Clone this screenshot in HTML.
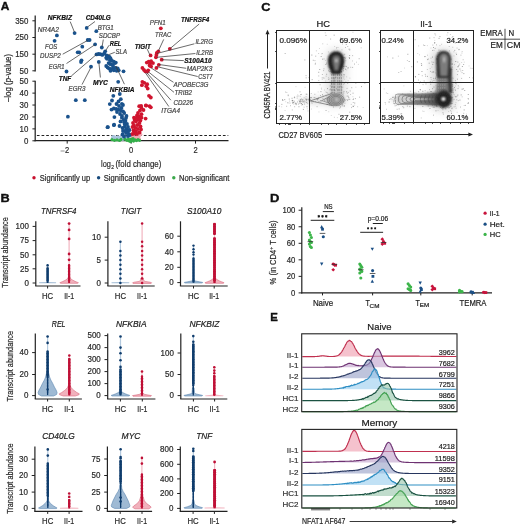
<!DOCTYPE html>
<html><head><meta charset="utf-8"><style>
html,body{margin:0;padding:0;background:#fff;}
svg{display:block;will-change:transform;}
text{font-family:"Liberation Sans", sans-serif;}
</style></head><body>
<svg width="520" height="527" viewBox="0 0 520 527">
<text x="0.80" y="10.10" font-size="10.2" font-weight="bold" fill="#111" textLength="8.60" lengthAdjust="spacingAndGlyphs" stroke="#111" stroke-width="0.35">A</text>
<line x1="35.20" y1="15.40" x2="35.20" y2="71.40" stroke="#222" stroke-width="1.25" />
<line x1="32.40" y1="20.80" x2="35.20" y2="20.80" stroke="#222" stroke-width="1" />
<text x="15.20" y="23.54" font-size="8.4" fill="#2a2a2a" stroke="#2a2a2a" stroke-width="0.2" textLength="13.20" lengthAdjust="spacingAndGlyphs" >350</text>
<line x1="32.40" y1="37.50" x2="35.20" y2="37.50" stroke="#222" stroke-width="1" />
<text x="15.20" y="40.24" font-size="8.4" fill="#2a2a2a" stroke="#2a2a2a" stroke-width="0.2" textLength="13.20" lengthAdjust="spacingAndGlyphs" >250</text>
<line x1="32.40" y1="54.20" x2="35.20" y2="54.20" stroke="#222" stroke-width="1" />
<text x="15.20" y="56.94" font-size="8.4" fill="#2a2a2a" stroke="#2a2a2a" stroke-width="0.2" textLength="13.20" lengthAdjust="spacingAndGlyphs" >150</text>
<line x1="32.40" y1="70.80" x2="35.20" y2="70.80" stroke="#222" stroke-width="1" />
<text x="19.60" y="73.54" font-size="8.4" fill="#2a2a2a" stroke="#2a2a2a" stroke-width="0.2" textLength="8.80" lengthAdjust="spacingAndGlyphs" >50</text>
<line x1="35.20" y1="80.80" x2="35.20" y2="141.20" stroke="#222" stroke-width="1.25" />
<line x1="32.40" y1="81.20" x2="35.20" y2="81.20" stroke="#222" stroke-width="1" />
<text x="19.60" y="83.94" font-size="8.4" fill="#2a2a2a" stroke="#2a2a2a" stroke-width="0.2" textLength="8.80" lengthAdjust="spacingAndGlyphs" >50</text>
<line x1="32.40" y1="93.12" x2="35.20" y2="93.12" stroke="#222" stroke-width="1" />
<text x="19.60" y="95.86" font-size="8.4" fill="#2a2a2a" stroke="#2a2a2a" stroke-width="0.2" textLength="8.80" lengthAdjust="spacingAndGlyphs" >40</text>
<line x1="32.40" y1="105.04" x2="35.20" y2="105.04" stroke="#222" stroke-width="1" />
<text x="19.60" y="107.78" font-size="8.4" fill="#2a2a2a" stroke="#2a2a2a" stroke-width="0.2" textLength="8.80" lengthAdjust="spacingAndGlyphs" >30</text>
<line x1="32.40" y1="116.96" x2="35.20" y2="116.96" stroke="#222" stroke-width="1" />
<text x="19.60" y="119.70" font-size="8.4" fill="#2a2a2a" stroke="#2a2a2a" stroke-width="0.2" textLength="8.80" lengthAdjust="spacingAndGlyphs" >20</text>
<line x1="32.40" y1="128.88" x2="35.20" y2="128.88" stroke="#222" stroke-width="1" />
<text x="19.60" y="131.62" font-size="8.4" fill="#2a2a2a" stroke="#2a2a2a" stroke-width="0.2" textLength="8.80" lengthAdjust="spacingAndGlyphs" >10</text>
<line x1="32.40" y1="140.80" x2="35.20" y2="140.80" stroke="#222" stroke-width="1" />
<text x="24.00" y="143.54" font-size="8.4" fill="#2a2a2a" stroke="#2a2a2a" stroke-width="0.2" textLength="4.40" lengthAdjust="spacingAndGlyphs" >0</text>
<text transform="translate(11.2,78) rotate(-90)" x="0" y="0" font-size="8.4" text-anchor="middle" fill="#2a2a2a" stroke="#2a2a2a" stroke-width="0.2" textLength="48" lengthAdjust="spacingAndGlyphs">&#8211;log (p-value)</text>
<line x1="34.60" y1="140.70" x2="228.50" y2="140.70" stroke="#222" stroke-width="1.3" />
<line x1="67.20" y1="140.80" x2="67.20" y2="143.60" stroke="#222" stroke-width="1" />
<text x="65.10" y="153.01" font-size="8.6" fill="#2a2a2a" stroke="#2a2a2a" stroke-width="0.2" textLength="4.20" lengthAdjust="spacingAndGlyphs" >2</text>
<line x1="131.20" y1="140.80" x2="131.20" y2="143.60" stroke="#222" stroke-width="1" />
<text x="129.10" y="153.01" font-size="8.6" fill="#2a2a2a" stroke="#2a2a2a" stroke-width="0.2" textLength="4.20" lengthAdjust="spacingAndGlyphs" >0</text>
<line x1="195.50" y1="140.80" x2="195.50" y2="143.60" stroke="#222" stroke-width="1" />
<text x="193.40" y="153.01" font-size="8.6" fill="#2a2a2a" stroke="#2a2a2a" stroke-width="0.2" textLength="4.20" lengthAdjust="spacingAndGlyphs" >2</text>
<line x1="60.60" y1="151.00" x2="64.60" y2="151.00" stroke="#777" stroke-width="0.8" />
<line x1="36.90" y1="135.50" x2="228.30" y2="135.50" stroke="#222" stroke-width="1.0" stroke-dasharray="2.7 1.95"/>
<text x="101.00" y="166.80" font-size="8.9" fill="#2a2a2a" stroke="#2a2a2a" stroke-width="0.2" textLength="9.80" lengthAdjust="spacingAndGlyphs" >log</text>
<text x="111.20" y="169.10" font-size="5.6" fill="#2a2a2a" stroke="#2a2a2a" stroke-width="0.2" textLength="2.80" lengthAdjust="spacingAndGlyphs" >2</text>
<text x="115.50" y="166.80" font-size="8.9" fill="#2a2a2a" stroke="#2a2a2a" stroke-width="0.2" textLength="45.80" lengthAdjust="spacingAndGlyphs" >(fold change)</text>
<circle cx="34.00" cy="177.80" r="1.7" fill="#c8102e" />
<text x="39.80" y="180.50" font-size="8.2" fill="#2a2a2a" stroke="#2a2a2a" stroke-width="0.2" textLength="50.40" lengthAdjust="spacingAndGlyphs" >Significantly up</text>
<circle cx="98.60" cy="177.80" r="1.7" fill="#174a7c" />
<text x="103.70" y="180.50" font-size="8.2" fill="#2a2a2a" stroke="#2a2a2a" stroke-width="0.2" textLength="61.20" lengthAdjust="spacingAndGlyphs" >Significantly down</text>
<circle cx="173.80" cy="177.80" r="1.7" fill="#3aa84a" />
<text x="179.00" y="180.50" font-size="8.2" fill="#2a2a2a" stroke="#2a2a2a" stroke-width="0.2" textLength="50.40" lengthAdjust="spacingAndGlyphs" >Non-significant</text>
<circle cx="117.51" cy="136.83" r="1.5" fill="#a9c3dc" />
<circle cx="123.07" cy="136.55" r="1.5" fill="#a9c3dc" />
<circle cx="121.11" cy="137.58" r="1.5" fill="#a9c3dc" />
<circle cx="112.99" cy="138.08" r="1.5" fill="#a9c3dc" />
<circle cx="112.64" cy="137.82" r="1.5" fill="#a9c3dc" />
<circle cx="113.19" cy="136.62" r="1.5" fill="#a9c3dc" />
<circle cx="119.22" cy="139.19" r="1.5" fill="#a9c3dc" />
<circle cx="114.10" cy="137.08" r="1.5" fill="#a9c3dc" />
<circle cx="122.67" cy="139.62" r="1.5" fill="#a9c3dc" />
<circle cx="121.81" cy="137.69" r="1.5" fill="#a9c3dc" />
<circle cx="128.60" cy="136.46" r="1.5" fill="#a9c3dc" />
<circle cx="126.59" cy="137.31" r="1.5" fill="#a9c3dc" />
<circle cx="114.45" cy="136.71" r="1.5" fill="#a9c3dc" />
<circle cx="117.24" cy="139.16" r="1.5" fill="#a9c3dc" />
<circle cx="115.07" cy="138.34" r="1.5" fill="#a9c3dc" />
<circle cx="122.86" cy="137.60" r="1.5" fill="#a9c3dc" />
<circle cx="121.31" cy="136.52" r="1.5" fill="#a9c3dc" />
<circle cx="113.01" cy="137.02" r="1.5" fill="#a9c3dc" />
<circle cx="123.57" cy="137.80" r="1.5" fill="#a9c3dc" />
<circle cx="117.34" cy="138.35" r="1.5" fill="#a9c3dc" />
<circle cx="119.70" cy="137.35" r="1.5" fill="#a9c3dc" />
<circle cx="125.50" cy="138.75" r="1.5" fill="#a9c3dc" />
<circle cx="134.20" cy="136.66" r="1.5" fill="#f2a9b4" />
<circle cx="136.73" cy="138.31" r="1.5" fill="#f2a9b4" />
<circle cx="138.57" cy="135.08" r="1.5" fill="#f2a9b4" />
<circle cx="140.82" cy="134.15" r="1.5" fill="#f2a9b4" />
<circle cx="135.76" cy="137.66" r="1.5" fill="#f2a9b4" />
<circle cx="133.37" cy="136.19" r="1.5" fill="#f2a9b4" />
<circle cx="132.35" cy="137.18" r="1.5" fill="#f2a9b4" />
<circle cx="138.88" cy="136.65" r="1.5" fill="#f2a9b4" />
<circle cx="139.88" cy="135.23" r="1.5" fill="#f2a9b4" />
<circle cx="138.26" cy="136.77" r="1.5" fill="#f2a9b4" />
<circle cx="137.22" cy="136.01" r="1.5" fill="#f2a9b4" />
<circle cx="139.56" cy="138.70" r="1.5" fill="#f2a9b4" />
<circle cx="136.27" cy="137.15" r="1.5" fill="#f2a9b4" />
<circle cx="132.55" cy="137.36" r="1.5" fill="#f2a9b4" />
<circle cx="137.82" cy="138.96" r="1.5" fill="#f2a9b4" />
<circle cx="139.40" cy="135.07" r="1.5" fill="#f2a9b4" />
<circle cx="135.47" cy="137.18" r="1.5" fill="#f2a9b4" />
<circle cx="132.20" cy="136.04" r="1.5" fill="#f2a9b4" />
<circle cx="112.00" cy="139.60" r="1.6" fill="#33b04a" />
<circle cx="114.50" cy="140.30" r="1.6" fill="#33b04a" />
<circle cx="117.00" cy="139.80" r="1.6" fill="#33b04a" />
<circle cx="119.50" cy="140.50" r="1.6" fill="#33b04a" />
<circle cx="121.00" cy="139.40" r="1.6" fill="#33b04a" />
<circle cx="125.00" cy="139.20" r="1.6" fill="#33b04a" />
<circle cx="127.00" cy="140.30" r="1.6" fill="#33b04a" />
<circle cx="129.00" cy="140.80" r="1.6" fill="#33b04a" />
<circle cx="130.50" cy="141.60" r="1.6" fill="#33b04a" />
<circle cx="132.00" cy="140.20" r="1.6" fill="#33b04a" />
<circle cx="133.50" cy="141.10" r="1.6" fill="#33b04a" />
<circle cx="135.00" cy="139.80" r="1.6" fill="#33b04a" />
<circle cx="136.50" cy="140.60" r="1.6" fill="#33b04a" />
<circle cx="138.00" cy="139.50" r="1.6" fill="#33b04a" />
<circle cx="139.50" cy="140.30" r="1.6" fill="#33b04a" />
<circle cx="131.00" cy="139.00" r="1.6" fill="#33b04a" />
<circle cx="133.00" cy="138.60" r="1.6" fill="#33b04a" />
<circle cx="128.50" cy="139.00" r="1.6" fill="#33b04a" />
<circle cx="56.90" cy="35.40" r="1.9" fill="#1a528c" />
<circle cx="54.60" cy="40.80" r="1.9" fill="#1a528c" />
<circle cx="74.60" cy="33.10" r="1.9" fill="#1a528c" />
<circle cx="86.70" cy="27.90" r="1.9" fill="#1a528c" />
<circle cx="96.30" cy="31.20" r="1.9" fill="#1a528c" />
<circle cx="87.70" cy="40.00" r="1.9" fill="#1a528c" />
<circle cx="89.60" cy="40.00" r="1.9" fill="#1a528c" />
<circle cx="95.10" cy="44.30" r="1.9" fill="#1a528c" />
<circle cx="82.30" cy="46.70" r="1.9" fill="#1a528c" />
<circle cx="101.80" cy="47.50" r="1.9" fill="#1a528c" />
<circle cx="77.70" cy="52.30" r="1.9" fill="#1a528c" />
<circle cx="79.20" cy="52.30" r="1.9" fill="#1a528c" />
<circle cx="105.20" cy="51.30" r="1.9" fill="#1a528c" />
<circle cx="81.50" cy="60.30" r="1.9" fill="#1a528c" />
<circle cx="81.00" cy="62.00" r="1.9" fill="#1a528c" />
<circle cx="66.50" cy="71.50" r="1.9" fill="#1a528c" />
<circle cx="91.00" cy="66.70" r="1.9" fill="#1a528c" />
<circle cx="98.80" cy="61.90" r="1.9" fill="#1a528c" />
<circle cx="96.50" cy="54.40" r="1.9" fill="#1a528c" />
<circle cx="98.50" cy="54.00" r="1.9" fill="#1a528c" />
<circle cx="100.40" cy="54.20" r="1.9" fill="#1a528c" />
<circle cx="102.30" cy="54.90" r="1.9" fill="#1a528c" />
<circle cx="104.20" cy="53.50" r="1.9" fill="#1a528c" />
<circle cx="106.60" cy="55.40" r="1.9" fill="#1a528c" />
<circle cx="108.10" cy="56.30" r="1.9" fill="#1a528c" />
<circle cx="109.50" cy="56.80" r="1.9" fill="#1a528c" />
<circle cx="110.50" cy="58.30" r="1.9" fill="#1a528c" />
<circle cx="106.20" cy="57.80" r="1.9" fill="#1a528c" />
<circle cx="107.10" cy="58.80" r="1.9" fill="#1a528c" />
<circle cx="110.00" cy="60.20" r="1.9" fill="#1a528c" />
<circle cx="111.90" cy="60.70" r="1.9" fill="#1a528c" />
<circle cx="113.80" cy="61.60" r="1.9" fill="#1a528c" />
<circle cx="114.80" cy="63.10" r="1.9" fill="#1a528c" />
<circle cx="115.80" cy="62.60" r="1.9" fill="#1a528c" />
<circle cx="108.60" cy="63.10" r="1.9" fill="#1a528c" />
<circle cx="110.00" cy="64.00" r="1.9" fill="#1a528c" />
<circle cx="111.40" cy="64.50" r="1.9" fill="#1a528c" />
<circle cx="112.90" cy="65.50" r="1.9" fill="#1a528c" />
<circle cx="106.20" cy="66.00" r="1.9" fill="#1a528c" />
<circle cx="107.60" cy="67.40" r="1.9" fill="#1a528c" />
<circle cx="109.00" cy="68.40" r="1.9" fill="#1a528c" />
<circle cx="111.00" cy="68.80" r="1.9" fill="#1a528c" />
<circle cx="112.90" cy="68.80" r="1.9" fill="#1a528c" />
<circle cx="113.80" cy="67.90" r="1.9" fill="#1a528c" />
<circle cx="115.80" cy="67.90" r="1.9" fill="#1a528c" />
<circle cx="117.70" cy="68.40" r="1.9" fill="#1a528c" />
<circle cx="118.70" cy="70.30" r="1.9" fill="#1a528c" />
<circle cx="116.70" cy="70.80" r="1.9" fill="#1a528c" />
<circle cx="110.50" cy="70.80" r="1.9" fill="#1a528c" />
<circle cx="113.80" cy="70.30" r="1.9" fill="#1a528c" />
<circle cx="123.50" cy="71.30" r="1.9" fill="#1a528c" />
<circle cx="118.20" cy="81.80" r="1.9" fill="#1a528c" />
<circle cx="75.80" cy="100.20" r="1.9" fill="#1a528c" />
<circle cx="84.80" cy="100.20" r="1.9" fill="#1a528c" />
<circle cx="67.90" cy="116.70" r="1.9" fill="#1a528c" />
<circle cx="107.90" cy="127.10" r="1.9" fill="#1a528c" />
<circle cx="113.90" cy="125.20" r="1.9" fill="#1a528c" />
<circle cx="113.30" cy="95.80" r="1.9" fill="#1a528c" />
<circle cx="119.80" cy="94.00" r="1.9" fill="#1a528c" />
<circle cx="109.80" cy="104.10" r="1.9" fill="#1a528c" />
<circle cx="118.50" cy="101.50" r="1.9" fill="#1a528c" />
<circle cx="120.80" cy="99.20" r="1.9" fill="#1a528c" />
<circle cx="121.90" cy="103.80" r="1.9" fill="#1a528c" />
<circle cx="123.00" cy="105.00" r="1.9" fill="#1a528c" />
<circle cx="111.50" cy="109.60" r="1.9" fill="#1a528c" />
<circle cx="113.80" cy="108.50" r="1.9" fill="#1a528c" />
<circle cx="116.20" cy="109.00" r="1.9" fill="#1a528c" />
<circle cx="118.50" cy="109.60" r="1.9" fill="#1a528c" />
<circle cx="120.80" cy="110.80" r="1.9" fill="#1a528c" />
<circle cx="123.00" cy="111.30" r="1.9" fill="#1a528c" />
<circle cx="124.20" cy="113.00" r="1.9" fill="#1a528c" />
<circle cx="114.40" cy="117.10" r="1.9" fill="#1a528c" />
<circle cx="121.90" cy="117.70" r="1.9" fill="#1a528c" />
<circle cx="123.70" cy="120.00" r="1.9" fill="#1a528c" />
<circle cx="124.20" cy="122.30" r="1.9" fill="#1a528c" />
<circle cx="124.80" cy="124.60" r="1.9" fill="#1a528c" />
<circle cx="124.80" cy="126.90" r="1.9" fill="#1a528c" />
<circle cx="126.50" cy="129.20" r="1.9" fill="#1a528c" />
<circle cx="127.70" cy="131.50" r="1.9" fill="#1a528c" />
<circle cx="128.80" cy="133.80" r="1.9" fill="#1a528c" />
<circle cx="114.10" cy="124.60" r="1.9" fill="#1a528c" />
<circle cx="107.50" cy="127.20" r="1.9" fill="#1a528c" />
<circle cx="122.50" cy="134.40" r="1.9" fill="#1a528c" />
<circle cx="119.00" cy="106.00" r="1.9" fill="#1a528c" />
<circle cx="117.00" cy="112.00" r="1.9" fill="#1a528c" />
<circle cx="120.00" cy="114.00" r="1.9" fill="#1a528c" />
<circle cx="122.00" cy="116.00" r="1.9" fill="#1a528c" />
<circle cx="126.00" cy="118.00" r="1.9" fill="#1a528c" />
<circle cx="125.50" cy="121.00" r="1.9" fill="#1a528c" />
<circle cx="127.00" cy="124.00" r="1.9" fill="#1a528c" />
<circle cx="128.00" cy="127.00" r="1.9" fill="#1a528c" />
<circle cx="129.50" cy="130.00" r="1.9" fill="#1a528c" />
<circle cx="126.00" cy="133.00" r="1.9" fill="#1a528c" />
<circle cx="124.00" cy="136.50" r="1.9" fill="#1a528c" />
<circle cx="128.00" cy="136.00" r="1.9" fill="#1a528c" />
<circle cx="130.00" cy="135.00" r="1.9" fill="#1a528c" />
<circle cx="120.50" cy="121.50" r="1.9" fill="#1a528c" />
<circle cx="122.50" cy="128.00" r="1.9" fill="#1a528c" />
<circle cx="119.50" cy="126.00" r="1.9" fill="#1a528c" />
<circle cx="125.00" cy="131.00" r="1.9" fill="#1a528c" />
<circle cx="123.00" cy="131.00" r="1.9" fill="#1a528c" />
<circle cx="126.50" cy="116.00" r="1.9" fill="#1a528c" />
<circle cx="121.50" cy="108.00" r="1.9" fill="#1a528c" />
<circle cx="116.50" cy="104.00" r="1.9" fill="#1a528c" />
<circle cx="112.00" cy="100.50" r="1.9" fill="#1a528c" />
<circle cx="160.80" cy="28.30" r="1.9" fill="#d0152f" />
<circle cx="169.80" cy="48.80" r="1.9" fill="#d0152f" />
<circle cx="158.30" cy="51.30" r="1.9" fill="#d0152f" />
<circle cx="156.80" cy="53.00" r="1.9" fill="#d0152f" />
<circle cx="156.40" cy="54.90" r="1.9" fill="#d0152f" />
<circle cx="155.90" cy="57.30" r="1.9" fill="#d0152f" />
<circle cx="150.60" cy="55.40" r="1.9" fill="#d0152f" />
<circle cx="161.70" cy="59.70" r="1.9" fill="#d0152f" />
<circle cx="146.80" cy="62.60" r="1.9" fill="#d0152f" />
<circle cx="148.70" cy="61.60" r="1.9" fill="#d0152f" />
<circle cx="151.10" cy="61.20" r="1.9" fill="#d0152f" />
<circle cx="153.00" cy="63.10" r="1.9" fill="#d0152f" />
<circle cx="150.10" cy="63.60" r="1.9" fill="#d0152f" />
<circle cx="151.10" cy="66.40" r="1.9" fill="#d0152f" />
<circle cx="149.60" cy="65.50" r="1.9" fill="#d0152f" />
<circle cx="158.80" cy="64.80" r="1.9" fill="#d0152f" />
<circle cx="156.40" cy="67.90" r="1.9" fill="#d0152f" />
<circle cx="142.40" cy="67.90" r="1.9" fill="#d0152f" />
<circle cx="143.90" cy="69.80" r="1.9" fill="#d0152f" />
<circle cx="145.30" cy="71.30" r="1.9" fill="#d0152f" />
<circle cx="147.20" cy="71.70" r="1.9" fill="#d0152f" />
<circle cx="148.20" cy="70.30" r="1.9" fill="#d0152f" />
<circle cx="142.40" cy="81.80" r="1.9" fill="#d0152f" />
<circle cx="144.30" cy="82.80" r="1.9" fill="#d0152f" />
<circle cx="147.20" cy="84.20" r="1.9" fill="#d0152f" />
<circle cx="146.30" cy="86.20" r="1.9" fill="#d0152f" />
<circle cx="141.90" cy="85.20" r="1.9" fill="#d0152f" />
<circle cx="147.70" cy="88.60" r="1.9" fill="#d0152f" />
<circle cx="149.00" cy="95.80" r="1.9" fill="#d0152f" />
<circle cx="150.80" cy="97.50" r="1.9" fill="#d0152f" />
<circle cx="139.20" cy="106.20" r="1.9" fill="#d0152f" />
<circle cx="141.50" cy="107.90" r="1.9" fill="#d0152f" />
<circle cx="146.20" cy="105.60" r="1.9" fill="#d0152f" />
<circle cx="149.60" cy="106.20" r="1.9" fill="#d0152f" />
<circle cx="150.80" cy="107.30" r="1.9" fill="#d0152f" />
<circle cx="138.00" cy="113.00" r="1.9" fill="#d0152f" />
<circle cx="137.00" cy="115.40" r="1.9" fill="#d0152f" />
<circle cx="139.20" cy="116.50" r="1.9" fill="#d0152f" />
<circle cx="141.50" cy="114.20" r="1.9" fill="#d0152f" />
<circle cx="134.00" cy="117.70" r="1.9" fill="#d0152f" />
<circle cx="134.60" cy="120.00" r="1.9" fill="#d0152f" />
<circle cx="140.40" cy="120.60" r="1.9" fill="#d0152f" />
<circle cx="141.50" cy="117.70" r="1.9" fill="#d0152f" />
<circle cx="145.60" cy="118.60" r="1.9" fill="#d0152f" />
<circle cx="141.20" cy="106.00" r="1.9" fill="#d0152f" />
<circle cx="145.80" cy="105.40" r="1.9" fill="#d0152f" />
<circle cx="143.50" cy="110.00" r="1.9" fill="#d0152f" />
<circle cx="140.00" cy="110.50" r="1.9" fill="#d0152f" />
<circle cx="133.00" cy="123.00" r="1.9" fill="#d0152f" />
<circle cx="134.00" cy="125.50" r="1.9" fill="#d0152f" />
<circle cx="135.50" cy="128.00" r="1.9" fill="#d0152f" />
<circle cx="133.50" cy="130.50" r="1.9" fill="#d0152f" />
<circle cx="136.00" cy="131.50" r="1.9" fill="#d0152f" />
<circle cx="138.00" cy="129.00" r="1.9" fill="#d0152f" />
<circle cx="137.50" cy="125.00" r="1.9" fill="#d0152f" />
<circle cx="139.50" cy="123.00" r="1.9" fill="#d0152f" />
<circle cx="140.50" cy="126.50" r="1.9" fill="#d0152f" />
<circle cx="139.50" cy="132.50" r="1.9" fill="#d0152f" />
<circle cx="137.00" cy="134.00" r="1.9" fill="#d0152f" />
<circle cx="134.50" cy="133.50" r="1.9" fill="#d0152f" />
<circle cx="132.50" cy="127.00" r="1.9" fill="#d0152f" />
<circle cx="136.00" cy="121.50" r="1.9" fill="#d0152f" />
<circle cx="138.50" cy="119.50" r="1.9" fill="#d0152f" />
<circle cx="141.00" cy="129.50" r="1.9" fill="#d0152f" />
<circle cx="132.50" cy="134.00" r="1.9" fill="#d0152f" />
<circle cx="136.50" cy="118.00" r="1.9" fill="#d0152f" />
<line x1="70.20" y1="21.60" x2="74.40" y2="32.00" stroke="#3a3a3a" stroke-width="0.75" />
<line x1="95.00" y1="21.50" x2="87.50" y2="27.00" stroke="#3a3a3a" stroke-width="0.75" />
<line x1="62.70" y1="54.20" x2="87.70" y2="40.40" stroke="#3a3a3a" stroke-width="0.75" />
<line x1="66.50" y1="63.50" x2="95.10" y2="44.60" stroke="#3a3a3a" stroke-width="0.75" />
<line x1="71.30" y1="76.00" x2="96.50" y2="54.40" stroke="#3a3a3a" stroke-width="0.75" />
<line x1="100.40" y1="77.50" x2="98.90" y2="62.60" stroke="#3a3a3a" stroke-width="0.75" />
<line x1="82.00" y1="84.60" x2="91.00" y2="67.30" stroke="#3a3a3a" stroke-width="0.75" />
<line x1="114.80" y1="52.30" x2="108.10" y2="54.90" stroke="#3a3a3a" stroke-width="0.75" />
<line x1="109.00" y1="45.30" x2="105.70" y2="50.60" stroke="#3a3a3a" stroke-width="0.75" />
<line x1="103.30" y1="39.50" x2="102.10" y2="46.70" stroke="#3a3a3a" stroke-width="0.75" />
<line x1="124.40" y1="84.20" x2="115.80" y2="66.00" stroke="#3a3a3a" stroke-width="0.75" />
<line x1="147.20" y1="49.10" x2="150.10" y2="55.40" stroke="#3a3a3a" stroke-width="0.75" />
<line x1="163.70" y1="39.40" x2="158.30" y2="51.10" stroke="#3a3a3a" stroke-width="0.75" />
<line x1="199.20" y1="24.00" x2="169.80" y2="48.80" stroke="#3a3a3a" stroke-width="0.75" />
<line x1="194.40" y1="43.80" x2="156.80" y2="53.50" stroke="#3a3a3a" stroke-width="0.75" />
<line x1="195.40" y1="53.50" x2="156.80" y2="57.30" stroke="#3a3a3a" stroke-width="0.75" />
<line x1="183.80" y1="60.60" x2="161.70" y2="59.70" stroke="#3a3a3a" stroke-width="0.75" />
<line x1="186.20" y1="68.30" x2="158.80" y2="64.50" stroke="#3a3a3a" stroke-width="0.75" />
<line x1="197.70" y1="76.50" x2="156.80" y2="66.60" stroke="#3a3a3a" stroke-width="0.75" />
<line x1="173.50" y1="82.30" x2="151.10" y2="67.90" stroke="#3a3a3a" stroke-width="0.75" />
<line x1="174.00" y1="92.30" x2="148.20" y2="71.70" stroke="#3a3a3a" stroke-width="0.75" />
<line x1="170.90" y1="100.20" x2="146.80" y2="72.70" stroke="#3a3a3a" stroke-width="0.75" />
<line x1="168.80" y1="106.50" x2="145.30" y2="72.70" stroke="#3a3a3a" stroke-width="0.75" />
<text x="47.70" y="19.88" font-size="6.8" font-weight="bold" font-style="italic" fill="#111" stroke="#111" stroke-width="0.2" textLength="24.30" lengthAdjust="spacingAndGlyphs" >NFKBIZ</text>
<text x="85.80" y="20.08" font-size="6.8" font-weight="bold" font-style="italic" fill="#111" stroke="#111" stroke-width="0.2" textLength="25.00" lengthAdjust="spacingAndGlyphs" >CD40LG</text>
<text x="37.70" y="31.68" font-size="6.8" font-style="italic" fill="#444" stroke="#444" stroke-width="0.2" textLength="21.20" lengthAdjust="spacingAndGlyphs" >NR4A2</text>
<text x="97.70" y="30.28" font-size="6.8" font-style="italic" fill="#444" stroke="#444" stroke-width="0.2" textLength="16.00" lengthAdjust="spacingAndGlyphs" >BTG1</text>
<text x="98.80" y="38.38" font-size="6.8" font-style="italic" fill="#444" stroke="#444" stroke-width="0.2" textLength="21.20" lengthAdjust="spacingAndGlyphs" >SDCBP</text>
<text x="109.80" y="46.18" font-size="6.8" font-weight="bold" font-style="italic" fill="#111" stroke="#111" stroke-width="0.2" textLength="11.50" lengthAdjust="spacingAndGlyphs" >REL</text>
<text x="115.60" y="54.38" font-size="6.8" font-style="italic" fill="#444" stroke="#444" stroke-width="0.2" textLength="11.40" lengthAdjust="spacingAndGlyphs" >SLA</text>
<text x="45.00" y="49.48" font-size="6.8" font-style="italic" fill="#444" stroke="#444" stroke-width="0.2" textLength="12.30" lengthAdjust="spacingAndGlyphs" >FOS</text>
<text x="40.00" y="58.18" font-size="6.8" font-style="italic" fill="#444" stroke="#444" stroke-width="0.2" textLength="20.80" lengthAdjust="spacingAndGlyphs" >DUSP2</text>
<text x="48.80" y="69.28" font-size="6.8" font-style="italic" fill="#444" stroke="#444" stroke-width="0.2" textLength="15.80" lengthAdjust="spacingAndGlyphs" >EGR1</text>
<text x="58.80" y="81.18" font-size="6.8" font-weight="bold" font-style="italic" fill="#111" stroke="#111" stroke-width="0.2" textLength="12.50" lengthAdjust="spacingAndGlyphs" >TNF</text>
<text x="93.00" y="84.68" font-size="6.8" font-weight="bold" font-style="italic" fill="#111" stroke="#111" stroke-width="0.2" textLength="15.00" lengthAdjust="spacingAndGlyphs" >MYC</text>
<text x="68.50" y="91.18" font-size="6.8" font-style="italic" fill="#444" stroke="#444" stroke-width="0.2" textLength="16.90" lengthAdjust="spacingAndGlyphs" >EGR3</text>
<text x="109.80" y="91.58" font-size="6.8" font-weight="bold" font-style="italic" fill="#111" stroke="#111" stroke-width="0.2" textLength="24.80" lengthAdjust="spacingAndGlyphs" >NFKBIA</text>
<text x="149.80" y="25.08" font-size="6.8" font-style="italic" fill="#444" stroke="#444" stroke-width="0.2" textLength="15.80" lengthAdjust="spacingAndGlyphs" >PFN1</text>
<text x="181.00" y="21.58" font-size="6.8" font-weight="bold" font-style="italic" fill="#111" stroke="#111" stroke-width="0.2" textLength="28.20" lengthAdjust="spacingAndGlyphs" >TNFRSF4</text>
<text x="155.00" y="37.38" font-size="6.8" font-style="italic" fill="#444" stroke="#444" stroke-width="0.2" textLength="16.30" lengthAdjust="spacingAndGlyphs" >TRAC</text>
<text x="134.80" y="48.58" font-size="6.8" font-weight="bold" font-style="italic" fill="#111" stroke="#111" stroke-width="0.2" textLength="16.00" lengthAdjust="spacingAndGlyphs" >TIGIT</text>
<text x="195.40" y="44.38" font-size="6.8" font-style="italic" fill="#444" stroke="#444" stroke-width="0.2" textLength="17.60" lengthAdjust="spacingAndGlyphs" >IL2RG</text>
<text x="196.30" y="54.68" font-size="6.8" font-style="italic" fill="#444" stroke="#444" stroke-width="0.2" textLength="16.70" lengthAdjust="spacingAndGlyphs" >IL2RB</text>
<text x="184.20" y="62.98" font-size="6.8" font-weight="bold" font-style="italic" fill="#111" stroke="#111" stroke-width="0.2" textLength="27.50" lengthAdjust="spacingAndGlyphs" >S100A10</text>
<text x="186.70" y="70.68" font-size="6.8" font-style="italic" fill="#444" stroke="#444" stroke-width="0.2" textLength="25.60" lengthAdjust="spacingAndGlyphs" >MAP2K3</text>
<text x="198.30" y="78.88" font-size="6.8" font-style="italic" fill="#444" stroke="#444" stroke-width="0.2" textLength="14.40" lengthAdjust="spacingAndGlyphs" >CST7</text>
<text x="173.50" y="86.78" font-size="6.8" font-style="italic" fill="#444" stroke="#444" stroke-width="0.2" textLength="35.00" lengthAdjust="spacingAndGlyphs" >APOBEC3G</text>
<text x="174.60" y="95.18" font-size="6.8" font-style="italic" fill="#444" stroke="#444" stroke-width="0.2" textLength="17.40" lengthAdjust="spacingAndGlyphs" >TRIB2</text>
<text x="173.50" y="104.78" font-size="6.8" font-style="italic" fill="#444" stroke="#444" stroke-width="0.2" textLength="19.50" lengthAdjust="spacingAndGlyphs" >CD226</text>
<text x="161.30" y="113.38" font-size="6.8" font-style="italic" fill="#444" stroke="#444" stroke-width="0.2" textLength="18.70" lengthAdjust="spacingAndGlyphs" >ITGA4</text>
<text x="0.40" y="201.80" font-size="11" font-weight="bold" fill="#111" textLength="9.20" lengthAdjust="spacingAndGlyphs" stroke="#111" stroke-width="0.35">B</text>
<line x1="35.80" y1="221.30" x2="35.80" y2="286.00" stroke="#222" stroke-width="1.2" />
<line x1="35.20" y1="286.00" x2="80.50" y2="286.00" stroke="#222" stroke-width="1.2" />
<line x1="32.60" y1="226.40" x2="35.80" y2="226.40" stroke="#222" stroke-width="1" />
<text x="15.55" y="229.27" font-size="8.2" fill="#2a2a2a" stroke="#2a2a2a" stroke-width="0.2" textLength="13.35" lengthAdjust="spacingAndGlyphs" >100</text>
<line x1="32.60" y1="240.60" x2="35.80" y2="240.60" stroke="#222" stroke-width="1" />
<text x="20.00" y="243.47" font-size="8.2" fill="#2a2a2a" stroke="#2a2a2a" stroke-width="0.2" textLength="8.90" lengthAdjust="spacingAndGlyphs" >75</text>
<line x1="32.60" y1="254.80" x2="35.80" y2="254.80" stroke="#222" stroke-width="1" />
<text x="20.00" y="257.67" font-size="8.2" fill="#2a2a2a" stroke="#2a2a2a" stroke-width="0.2" textLength="8.90" lengthAdjust="spacingAndGlyphs" >50</text>
<line x1="32.60" y1="268.80" x2="35.80" y2="268.80" stroke="#222" stroke-width="1" />
<text x="20.00" y="271.67" font-size="8.2" fill="#2a2a2a" stroke="#2a2a2a" stroke-width="0.2" textLength="8.90" lengthAdjust="spacingAndGlyphs" >25</text>
<line x1="32.60" y1="283.00" x2="35.80" y2="283.00" stroke="#222" stroke-width="1" />
<text x="24.45" y="285.87" font-size="8.2" fill="#2a2a2a" stroke="#2a2a2a" stroke-width="0.2" textLength="4.45" lengthAdjust="spacingAndGlyphs" >0</text>
<line x1="47.60" y1="286.00" x2="47.60" y2="288.50" stroke="#222" stroke-width="1" />
<line x1="69.20" y1="286.00" x2="69.20" y2="288.50" stroke="#222" stroke-width="1" />
<text x="42.00" y="298.74" font-size="8.4" fill="#2a2a2a" stroke="#2a2a2a" stroke-width="0.2" textLength="11.20" lengthAdjust="spacingAndGlyphs" >HC</text>
<text x="64.20" y="298.74" font-size="8.4" fill="#2a2a2a" stroke="#2a2a2a" stroke-width="0.2" textLength="10.00" lengthAdjust="spacingAndGlyphs" >II-1</text>
<text x="41.00" y="214.08" font-size="8.8" font-style="italic" fill="#1a1a1a" stroke="#1a1a1a" stroke-width="0.2" textLength="35.30" lengthAdjust="spacingAndGlyphs" >TNFRSF4</text>
<text transform="translate(7.6,252.5) rotate(-90)" font-size="8.9" text-anchor="middle" fill="#2a2a2a" stroke="#2a2a2a" stroke-width="0.2" textLength="70.5" lengthAdjust="spacingAndGlyphs">Transcript abundance</text>
<path d="M55.80,283.30 L56.20,282.90 L56.00,282.30 L48.60,282.00 L48.30,281.30 L46.90,281.30 L46.60,282.00 L39.20,282.30 L39.00,282.90 L39.40,283.30 Z" fill="#a8c0d8" stroke="none" stroke-width="0" />
<rect x="46.64" y="267.30" width="1.92" height="15.70" fill="#0f3c6c"/>
<g fill="#0f3c6c"><circle cx="47.60" cy="268.50" r="1.20"/><circle cx="47.60" cy="270.00" r="1.20"/><circle cx="47.60" cy="271.50" r="1.20"/><circle cx="47.60" cy="273.00" r="1.20"/><circle cx="47.60" cy="274.50" r="1.20"/><circle cx="47.60" cy="276.00" r="1.20"/><circle cx="47.60" cy="277.50" r="1.20"/><circle cx="47.60" cy="279.00" r="1.20"/><circle cx="47.60" cy="280.50" r="1.20"/></g>
<circle cx="47.60" cy="265.40" r="1.3" fill="#0f3c6c" />
<rect x="68.50" y="224.00" width="1.2" height="59.30" fill="#f2b6c1"/>
<path d="M77.60,283.30 L78.40,282.70 L76.03,281.78 L74.04,280.85 L72.41,279.93 L71.12,279.00 L70.17,278.07 L69.65,277.15 L69.65,276.23 L69.65,275.30 L68.55,275.30 L68.55,276.23 L68.55,277.15 L68.03,278.07 L67.08,279.00 L65.79,279.93 L64.16,280.85 L62.17,281.78 L59.80,282.70 L60.60,283.30 Z" fill="#eea3b0" stroke="#d86a7e" stroke-width="0.6" fill-opacity="0.85"/>
<circle cx="69.10" cy="223.60" r="1.4" fill="#bf1036" />
<circle cx="69.10" cy="229.90" r="1.4" fill="#bf1036" />
<circle cx="69.10" cy="238.90" r="1.4" fill="#bf1036" />
<circle cx="69.10" cy="254.00" r="1.4" fill="#bf1036" />
<circle cx="69.10" cy="259.80" r="1.4" fill="#bf1036" />
<rect x="68.14" y="264.20" width="1.92" height="18.80" fill="#bf1036"/>
<g fill="#bf1036"><circle cx="69.10" cy="265.40" r="1.20"/><circle cx="69.10" cy="266.90" r="1.20"/><circle cx="69.10" cy="268.40" r="1.20"/><circle cx="69.10" cy="269.90" r="1.20"/><circle cx="69.10" cy="271.40" r="1.20"/><circle cx="69.10" cy="272.90" r="1.20"/><circle cx="69.10" cy="274.40" r="1.20"/><circle cx="69.10" cy="275.90" r="1.20"/><circle cx="69.10" cy="277.40" r="1.20"/><circle cx="69.10" cy="278.90" r="1.20"/><circle cx="69.10" cy="280.40" r="1.20"/></g>
<line x1="107.90" y1="221.30" x2="107.90" y2="286.00" stroke="#222" stroke-width="1.2" />
<line x1="107.30" y1="286.00" x2="154.70" y2="286.00" stroke="#222" stroke-width="1.2" />
<line x1="104.70" y1="237.20" x2="107.90" y2="237.20" stroke="#222" stroke-width="1" />
<text x="92.10" y="240.07" font-size="8.2" fill="#2a2a2a" stroke="#2a2a2a" stroke-width="0.2" textLength="8.90" lengthAdjust="spacingAndGlyphs" >10</text>
<line x1="104.70" y1="260.10" x2="107.90" y2="260.10" stroke="#222" stroke-width="1" />
<text x="96.55" y="262.97" font-size="8.2" fill="#2a2a2a" stroke="#2a2a2a" stroke-width="0.2" textLength="4.45" lengthAdjust="spacingAndGlyphs" >5</text>
<line x1="104.70" y1="283.00" x2="107.90" y2="283.00" stroke="#222" stroke-width="1" />
<text x="96.55" y="285.87" font-size="8.2" fill="#2a2a2a" stroke="#2a2a2a" stroke-width="0.2" textLength="4.45" lengthAdjust="spacingAndGlyphs" >0</text>
<line x1="120.40" y1="286.00" x2="120.40" y2="288.50" stroke="#222" stroke-width="1" />
<line x1="142.10" y1="286.00" x2="142.10" y2="288.50" stroke="#222" stroke-width="1" />
<text x="114.80" y="298.74" font-size="8.4" fill="#2a2a2a" stroke="#2a2a2a" stroke-width="0.2" textLength="11.20" lengthAdjust="spacingAndGlyphs" >HC</text>
<text x="137.10" y="298.74" font-size="8.4" fill="#2a2a2a" stroke="#2a2a2a" stroke-width="0.2" textLength="10.00" lengthAdjust="spacingAndGlyphs" >II-1</text>
<text x="120.80" y="214.08" font-size="8.8" font-style="italic" fill="#1a1a1a" stroke="#1a1a1a" stroke-width="0.2" textLength="20.40" lengthAdjust="spacingAndGlyphs" >TIGIT</text>
<rect x="119.80" y="241.80" width="1.2" height="41.50" fill="#b3c9de"/>
<path d="M129.00,283.30 L129.40,282.90 L129.20,282.30 L121.00,282.00 L119.80,282.00 L111.60,282.30 L111.40,282.90 L111.80,283.30 Z" fill="#a8c0d8" stroke="none" stroke-width="0" />
<circle cx="120.40" cy="283.00" r="1.25" fill="#0f3c6c" />
<circle cx="120.40" cy="278.42" r="1.25" fill="#0f3c6c" />
<circle cx="120.40" cy="273.84" r="1.25" fill="#0f3c6c" />
<circle cx="120.40" cy="269.26" r="1.25" fill="#0f3c6c" />
<circle cx="120.40" cy="264.68" r="1.25" fill="#0f3c6c" />
<circle cx="120.40" cy="260.10" r="1.25" fill="#0f3c6c" />
<circle cx="120.40" cy="255.52" r="1.25" fill="#0f3c6c" />
<circle cx="120.40" cy="250.94" r="1.25" fill="#0f3c6c" />
<circle cx="120.40" cy="241.78" r="1.25" fill="#0f3c6c" />
<rect x="141.50" y="223.50" width="1.2" height="59.90" fill="#f2b6c1"/>
<path d="M151.10,283.40 L151.70,282.80 L150.10,282.20 L145.10,281.40 L143.70,280.40 L143.30,278.40 L142.70,277.40 L141.50,277.40 L140.90,278.40 L140.50,280.40 L139.10,281.40 L134.10,282.20 L132.50,282.80 L133.10,283.40 Z" fill="#eea3b0" stroke="#d86a7e" stroke-width="0.6" fill-opacity="0.85"/>
<circle cx="142.10" cy="283.00" r="1.25" fill="#bf1036" />
<circle cx="142.10" cy="278.42" r="1.25" fill="#bf1036" />
<circle cx="142.10" cy="273.84" r="1.25" fill="#bf1036" />
<circle cx="142.10" cy="269.26" r="1.25" fill="#bf1036" />
<circle cx="142.10" cy="264.68" r="1.25" fill="#bf1036" />
<circle cx="142.10" cy="260.10" r="1.25" fill="#bf1036" />
<circle cx="142.10" cy="255.52" r="1.25" fill="#bf1036" />
<circle cx="142.10" cy="250.94" r="1.25" fill="#bf1036" />
<circle cx="142.10" cy="246.36" r="1.25" fill="#bf1036" />
<circle cx="142.10" cy="241.78" r="1.25" fill="#bf1036" />
<circle cx="142.10" cy="223.46" r="1.25" fill="#bf1036" />
<line x1="180.50" y1="221.30" x2="180.50" y2="286.00" stroke="#222" stroke-width="1.2" />
<line x1="179.90" y1="286.00" x2="227.70" y2="286.00" stroke="#222" stroke-width="1.2" />
<line x1="177.30" y1="236.20" x2="180.50" y2="236.20" stroke="#222" stroke-width="1" />
<text x="164.70" y="239.07" font-size="8.2" fill="#2a2a2a" stroke="#2a2a2a" stroke-width="0.2" textLength="8.90" lengthAdjust="spacingAndGlyphs" >60</text>
<line x1="177.30" y1="251.80" x2="180.50" y2="251.80" stroke="#222" stroke-width="1" />
<text x="164.70" y="254.67" font-size="8.2" fill="#2a2a2a" stroke="#2a2a2a" stroke-width="0.2" textLength="8.90" lengthAdjust="spacingAndGlyphs" >40</text>
<line x1="177.30" y1="267.30" x2="180.50" y2="267.30" stroke="#222" stroke-width="1" />
<text x="164.70" y="270.17" font-size="8.2" fill="#2a2a2a" stroke="#2a2a2a" stroke-width="0.2" textLength="8.90" lengthAdjust="spacingAndGlyphs" >20</text>
<line x1="177.30" y1="282.60" x2="180.50" y2="282.60" stroke="#222" stroke-width="1" />
<text x="169.15" y="285.47" font-size="8.2" fill="#2a2a2a" stroke="#2a2a2a" stroke-width="0.2" textLength="4.45" lengthAdjust="spacingAndGlyphs" >0</text>
<line x1="193.50" y1="286.00" x2="193.50" y2="288.50" stroke="#222" stroke-width="1" />
<line x1="214.20" y1="286.00" x2="214.20" y2="288.50" stroke="#222" stroke-width="1" />
<text x="187.90" y="298.74" font-size="8.4" fill="#2a2a2a" stroke="#2a2a2a" stroke-width="0.2" textLength="11.20" lengthAdjust="spacingAndGlyphs" >HC</text>
<text x="209.20" y="298.74" font-size="8.4" fill="#2a2a2a" stroke="#2a2a2a" stroke-width="0.2" textLength="10.00" lengthAdjust="spacingAndGlyphs" >II-1</text>
<text x="186.90" y="214.08" font-size="8.8" font-style="italic" fill="#1a1a1a" stroke="#1a1a1a" stroke-width="0.2" textLength="34.40" lengthAdjust="spacingAndGlyphs" >S100A10</text>
<rect x="192.90" y="245.40" width="1.2" height="37.60" fill="#b3c9de"/>
<path d="M202.30,283.00 L202.70,282.40 L199.50,281.80 L195.50,281.00 L194.50,280.20 L192.50,280.20 L191.50,281.00 L187.50,281.80 L184.30,282.40 L184.70,283.00 Z" fill="#8eaecd" stroke="#5d86b0" stroke-width="0.6" fill-opacity="0.85"/>
<circle cx="193.50" cy="245.60" r="1.2" fill="#0f3c6c" />
<circle cx="193.50" cy="249.30" r="1.2" fill="#0f3c6c" />
<circle cx="193.50" cy="252.30" r="1.2" fill="#0f3c6c" />
<circle cx="193.50" cy="254.60" r="1.2" fill="#0f3c6c" />
<rect x="192.58" y="257.50" width="1.84" height="25.30" fill="#0f3c6c"/>
<g fill="#0f3c6c"><circle cx="193.50" cy="258.65" r="1.15"/><circle cx="193.50" cy="260.15" r="1.15"/><circle cx="193.50" cy="261.65" r="1.15"/><circle cx="193.50" cy="263.15" r="1.15"/><circle cx="193.50" cy="264.65" r="1.15"/><circle cx="193.50" cy="266.15" r="1.15"/><circle cx="193.50" cy="267.65" r="1.15"/><circle cx="193.50" cy="269.15" r="1.15"/><circle cx="193.50" cy="270.65" r="1.15"/><circle cx="193.50" cy="272.15" r="1.15"/><circle cx="193.50" cy="273.65" r="1.15"/><circle cx="193.50" cy="275.15" r="1.15"/><circle cx="193.50" cy="276.65" r="1.15"/><circle cx="193.50" cy="278.15" r="1.15"/><circle cx="193.50" cy="279.65" r="1.15"/><circle cx="193.50" cy="281.15" r="1.15"/></g>
<rect x="213.90" y="222.90" width="1.2" height="60.40" fill="#f2b6c1"/>
<path d="M223.30,283.30 L224.10,282.70 L221.66,281.84 L219.60,280.98 L217.91,280.11 L216.59,279.25 L215.61,278.39 L215.05,277.53 L215.05,276.66 L215.05,275.80 L213.95,275.80 L213.95,276.66 L213.95,277.53 L213.39,278.39 L212.41,279.25 L211.09,280.11 L209.40,280.98 L207.34,281.84 L204.90,282.70 L205.70,283.30 Z" fill="#eea3b0" stroke="#d86a7e" stroke-width="0.6" fill-opacity="0.85"/>
<rect x="213.34" y="222.90" width="2.32" height="12.10" fill="#bf1036"/>
<g fill="#bf1036"><circle cx="214.50" cy="224.35" r="1.45"/><circle cx="214.50" cy="226.15" r="1.45"/><circle cx="214.50" cy="227.95" r="1.45"/><circle cx="214.50" cy="229.74" r="1.45"/><circle cx="214.50" cy="231.54" r="1.45"/><circle cx="214.50" cy="233.34" r="1.45"/></g>
<rect x="213.34" y="237.40" width="2.32" height="45.60" fill="#bf1036"/>
<g fill="#bf1036"><circle cx="214.50" cy="238.85" r="1.45"/><circle cx="214.50" cy="240.65" r="1.45"/><circle cx="214.50" cy="242.45" r="1.45"/><circle cx="214.50" cy="244.24" r="1.45"/><circle cx="214.50" cy="246.04" r="1.45"/><circle cx="214.50" cy="247.84" r="1.45"/><circle cx="214.50" cy="249.64" r="1.45"/><circle cx="214.50" cy="251.44" r="1.45"/><circle cx="214.50" cy="253.23" r="1.45"/><circle cx="214.50" cy="255.03" r="1.45"/><circle cx="214.50" cy="256.83" r="1.45"/><circle cx="214.50" cy="258.63" r="1.45"/><circle cx="214.50" cy="260.43" r="1.45"/><circle cx="214.50" cy="262.22" r="1.45"/><circle cx="214.50" cy="264.02" r="1.45"/><circle cx="214.50" cy="265.82" r="1.45"/><circle cx="214.50" cy="267.62" r="1.45"/><circle cx="214.50" cy="269.42" r="1.45"/><circle cx="214.50" cy="271.21" r="1.45"/><circle cx="214.50" cy="273.01" r="1.45"/><circle cx="214.50" cy="274.81" r="1.45"/><circle cx="214.50" cy="276.61" r="1.45"/><circle cx="214.50" cy="278.41" r="1.45"/><circle cx="214.50" cy="280.20" r="1.45"/></g>
<line x1="35.30" y1="333.50" x2="35.30" y2="399.00" stroke="#222" stroke-width="1.2" />
<line x1="34.70" y1="399.00" x2="81.90" y2="399.00" stroke="#222" stroke-width="1.2" />
<line x1="32.10" y1="352.60" x2="35.30" y2="352.60" stroke="#222" stroke-width="1" />
<text x="19.50" y="355.47" font-size="8.2" fill="#2a2a2a" stroke="#2a2a2a" stroke-width="0.2" textLength="8.90" lengthAdjust="spacingAndGlyphs" >40</text>
<line x1="32.10" y1="374.50" x2="35.30" y2="374.50" stroke="#222" stroke-width="1" />
<text x="19.50" y="377.37" font-size="8.2" fill="#2a2a2a" stroke="#2a2a2a" stroke-width="0.2" textLength="8.90" lengthAdjust="spacingAndGlyphs" >20</text>
<line x1="32.10" y1="395.60" x2="35.30" y2="395.60" stroke="#222" stroke-width="1" />
<text x="23.95" y="398.47" font-size="8.2" fill="#2a2a2a" stroke="#2a2a2a" stroke-width="0.2" textLength="4.45" lengthAdjust="spacingAndGlyphs" >0</text>
<line x1="47.60" y1="399.00" x2="47.60" y2="401.50" stroke="#222" stroke-width="1" />
<line x1="69.30" y1="399.00" x2="69.30" y2="401.50" stroke="#222" stroke-width="1" />
<text x="42.00" y="411.74" font-size="8.4" fill="#2a2a2a" stroke="#2a2a2a" stroke-width="0.2" textLength="11.20" lengthAdjust="spacingAndGlyphs" >HC</text>
<text x="64.30" y="411.74" font-size="8.4" fill="#2a2a2a" stroke="#2a2a2a" stroke-width="0.2" textLength="10.00" lengthAdjust="spacingAndGlyphs" >II-1</text>
<text x="51.80" y="326.68" font-size="8.8" font-style="italic" fill="#1a1a1a" stroke="#1a1a1a" stroke-width="0.2" textLength="13.70" lengthAdjust="spacingAndGlyphs" >REL</text>
<text transform="translate(13.0,366.2) rotate(-90)" font-size="8.9" text-anchor="middle" fill="#2a2a2a" stroke="#2a2a2a" stroke-width="0.2" textLength="70.5" lengthAdjust="spacingAndGlyphs">Transcript abundance</text>
<rect x="47.00" y="336.40" width="1.2" height="59.60" fill="#b3c9de"/>
<path d="M53.60,396.00 L56.60,394.50 L57.10,392.50 L56.10,390.00 L54.40,387.00 L52.60,383.20 L50.80,380.00 L49.60,377.00 L48.90,374.00 L48.40,372.00 L46.80,372.00 L46.30,374.00 L45.60,377.00 L44.40,380.00 L42.60,383.20 L40.80,387.00 L39.10,390.00 L38.10,392.50 L38.60,394.50 L41.60,396.00 Z" fill="#8eaecd" stroke="#5d86b0" stroke-width="0.6" fill-opacity="0.85"/>
<circle cx="47.60" cy="336.50" r="1.3" fill="#0f3c6c" />
<circle cx="47.60" cy="342.90" r="1.3" fill="#0f3c6c" />
<rect x="46.64" y="350.60" width="1.92" height="27.40" fill="#0f3c6c"/>
<g fill="#0f3c6c"><circle cx="47.60" cy="351.80" r="1.20"/><circle cx="47.60" cy="353.30" r="1.20"/><circle cx="47.60" cy="354.80" r="1.20"/><circle cx="47.60" cy="356.30" r="1.20"/><circle cx="47.60" cy="357.80" r="1.20"/><circle cx="47.60" cy="359.30" r="1.20"/><circle cx="47.60" cy="360.80" r="1.20"/><circle cx="47.60" cy="362.30" r="1.20"/><circle cx="47.60" cy="363.80" r="1.20"/><circle cx="47.60" cy="365.30" r="1.20"/><circle cx="47.60" cy="366.80" r="1.20"/><circle cx="47.60" cy="368.30" r="1.20"/><circle cx="47.60" cy="369.80" r="1.20"/><circle cx="47.60" cy="371.30" r="1.20"/><circle cx="47.60" cy="372.80" r="1.20"/><circle cx="47.60" cy="374.30" r="1.20"/><circle cx="47.60" cy="375.80" r="1.20"/></g>
<rect x="46.96" y="377.00" width="1.28" height="18.00" fill="#0f3c6c"/>
<g fill="#0f3c6c"><circle cx="47.60" cy="377.80" r="0.80"/><circle cx="47.60" cy="379.30" r="0.80"/><circle cx="47.60" cy="380.80" r="0.80"/><circle cx="47.60" cy="382.30" r="0.80"/><circle cx="47.60" cy="383.80" r="0.80"/><circle cx="47.60" cy="385.30" r="0.80"/><circle cx="47.60" cy="386.80" r="0.80"/><circle cx="47.60" cy="388.30" r="0.80"/><circle cx="47.60" cy="389.80" r="0.80"/><circle cx="47.60" cy="391.30" r="0.80"/><circle cx="47.60" cy="392.80" r="0.80"/></g>
<circle cx="47.60" cy="389.50" r="1.2" fill="#0f3c6c" />
<rect x="68.70" y="355.30" width="1.2" height="40.70" fill="#f2b6c1"/>
<path d="M75.30,396.00 L78.90,394.80 L79.30,393.80 L76.80,392.50 L74.10,390.50 L72.30,389.00 L71.10,387.50 L70.40,386.00 L70.00,385.00 L68.60,385.00 L68.20,386.00 L67.50,387.50 L66.30,389.00 L64.50,390.50 L61.80,392.50 L59.30,393.80 L59.70,394.80 L63.30,396.00 Z" fill="#eea3b0" stroke="#d86a7e" stroke-width="0.6" fill-opacity="0.85"/>
<circle cx="69.30" cy="355.50" r="1.3" fill="#bf1036" />
<rect x="68.34" y="358.00" width="1.92" height="37.50" fill="#bf1036"/>
<g fill="#bf1036"><circle cx="69.30" cy="359.20" r="1.20"/><circle cx="69.30" cy="360.70" r="1.20"/><circle cx="69.30" cy="362.20" r="1.20"/><circle cx="69.30" cy="363.70" r="1.20"/><circle cx="69.30" cy="365.20" r="1.20"/><circle cx="69.30" cy="366.70" r="1.20"/><circle cx="69.30" cy="368.20" r="1.20"/><circle cx="69.30" cy="369.70" r="1.20"/><circle cx="69.30" cy="371.20" r="1.20"/><circle cx="69.30" cy="372.70" r="1.20"/><circle cx="69.30" cy="374.20" r="1.20"/><circle cx="69.30" cy="375.70" r="1.20"/><circle cx="69.30" cy="377.20" r="1.20"/><circle cx="69.30" cy="378.70" r="1.20"/><circle cx="69.30" cy="380.20" r="1.20"/><circle cx="69.30" cy="381.70" r="1.20"/><circle cx="69.30" cy="383.20" r="1.20"/><circle cx="69.30" cy="384.70" r="1.20"/><circle cx="69.30" cy="386.20" r="1.20"/><circle cx="69.30" cy="387.70" r="1.20"/><circle cx="69.30" cy="389.20" r="1.20"/><circle cx="69.30" cy="390.70" r="1.20"/><circle cx="69.30" cy="392.20" r="1.20"/><circle cx="69.30" cy="393.70" r="1.20"/></g>
<line x1="107.70" y1="333.50" x2="107.70" y2="399.00" stroke="#222" stroke-width="1.2" />
<line x1="107.10" y1="399.00" x2="155.40" y2="399.00" stroke="#222" stroke-width="1.2" />
<line x1="104.50" y1="335.60" x2="107.70" y2="335.60" stroke="#222" stroke-width="1" />
<text x="87.45" y="338.47" font-size="8.2" fill="#2a2a2a" stroke="#2a2a2a" stroke-width="0.2" textLength="13.35" lengthAdjust="spacingAndGlyphs" >500</text>
<line x1="104.50" y1="347.60" x2="107.70" y2="347.60" stroke="#222" stroke-width="1" />
<text x="87.45" y="350.47" font-size="8.2" fill="#2a2a2a" stroke="#2a2a2a" stroke-width="0.2" textLength="13.35" lengthAdjust="spacingAndGlyphs" >400</text>
<line x1="104.50" y1="359.60" x2="107.70" y2="359.60" stroke="#222" stroke-width="1" />
<text x="87.45" y="362.47" font-size="8.2" fill="#2a2a2a" stroke="#2a2a2a" stroke-width="0.2" textLength="13.35" lengthAdjust="spacingAndGlyphs" >300</text>
<line x1="104.50" y1="371.60" x2="107.70" y2="371.60" stroke="#222" stroke-width="1" />
<text x="87.45" y="374.47" font-size="8.2" fill="#2a2a2a" stroke="#2a2a2a" stroke-width="0.2" textLength="13.35" lengthAdjust="spacingAndGlyphs" >200</text>
<line x1="104.50" y1="383.60" x2="107.70" y2="383.60" stroke="#222" stroke-width="1" />
<text x="87.45" y="386.47" font-size="8.2" fill="#2a2a2a" stroke="#2a2a2a" stroke-width="0.2" textLength="13.35" lengthAdjust="spacingAndGlyphs" >100</text>
<line x1="104.50" y1="395.60" x2="107.70" y2="395.60" stroke="#222" stroke-width="1" />
<text x="96.35" y="398.47" font-size="8.2" fill="#2a2a2a" stroke="#2a2a2a" stroke-width="0.2" textLength="4.45" lengthAdjust="spacingAndGlyphs" >0</text>
<line x1="120.40" y1="399.00" x2="120.40" y2="401.50" stroke="#222" stroke-width="1" />
<line x1="142.30" y1="399.00" x2="142.30" y2="401.50" stroke="#222" stroke-width="1" />
<text x="114.80" y="411.74" font-size="8.4" fill="#2a2a2a" stroke="#2a2a2a" stroke-width="0.2" textLength="11.20" lengthAdjust="spacingAndGlyphs" >HC</text>
<text x="137.30" y="411.74" font-size="8.4" fill="#2a2a2a" stroke="#2a2a2a" stroke-width="0.2" textLength="10.00" lengthAdjust="spacingAndGlyphs" >II-1</text>
<text x="116.00" y="326.68" font-size="8.8" font-style="italic" fill="#1a1a1a" stroke="#1a1a1a" stroke-width="0.2" textLength="30.60" lengthAdjust="spacingAndGlyphs" >NFKBIA</text>
<rect x="119.90" y="336.50" width="1.2" height="59.50" fill="#b3c9de"/>
<path d="M129.00,396.00 L129.80,395.40 L127.34,394.60 L125.30,393.80 L123.66,393.00 L122.39,392.20 L121.47,391.40 L121.05,390.60 L121.05,389.80 L121.05,389.00 L119.95,389.00 L119.95,389.80 L119.95,390.60 L119.53,391.40 L118.61,392.20 L117.34,393.00 L115.70,393.80 L113.66,394.60 L111.20,395.40 L112.00,396.00 Z" fill="#8eaecd" stroke="#5d86b0" stroke-width="0.6" fill-opacity="0.85"/>
<circle cx="120.50" cy="336.50" r="1.3" fill="#0f3c6c" />
<circle cx="120.50" cy="347.60" r="1.3" fill="#0f3c6c" />
<circle cx="120.50" cy="353.20" r="1.3" fill="#0f3c6c" />
<circle cx="120.50" cy="360.20" r="1.3" fill="#0f3c6c" />
<circle cx="120.50" cy="366.90" r="1.3" fill="#0f3c6c" />
<rect x="119.54" y="368.50" width="1.92" height="27.00" fill="#0f3c6c"/>
<g fill="#0f3c6c"><circle cx="120.50" cy="369.70" r="1.20"/><circle cx="120.50" cy="371.20" r="1.20"/><circle cx="120.50" cy="372.70" r="1.20"/><circle cx="120.50" cy="374.20" r="1.20"/><circle cx="120.50" cy="375.70" r="1.20"/><circle cx="120.50" cy="377.20" r="1.20"/><circle cx="120.50" cy="378.70" r="1.20"/><circle cx="120.50" cy="380.20" r="1.20"/><circle cx="120.50" cy="381.70" r="1.20"/><circle cx="120.50" cy="383.20" r="1.20"/><circle cx="120.50" cy="384.70" r="1.20"/><circle cx="120.50" cy="386.20" r="1.20"/><circle cx="120.50" cy="387.70" r="1.20"/><circle cx="120.50" cy="389.20" r="1.20"/><circle cx="120.50" cy="390.70" r="1.20"/><circle cx="120.50" cy="392.20" r="1.20"/><circle cx="120.50" cy="393.70" r="1.20"/></g>
<rect x="141.40" y="371.50" width="1.2" height="24.70" fill="#f2b6c1"/>
<path d="M151.00,396.20 L151.50,395.60 L148.00,395.00 L144.00,394.20 L142.80,393.40 L141.20,393.40 L140.00,394.20 L136.00,395.00 L132.50,395.60 L133.00,396.20 Z" fill="#eea3b0" stroke="#d86a7e" stroke-width="0.6" fill-opacity="0.85"/>
<circle cx="142.00" cy="371.50" r="1.3" fill="#bf1036" />
<rect x="141.04" y="375.50" width="1.92" height="20.30" fill="#bf1036"/>
<g fill="#bf1036"><circle cx="142.00" cy="376.70" r="1.20"/><circle cx="142.00" cy="378.20" r="1.20"/><circle cx="142.00" cy="379.70" r="1.20"/><circle cx="142.00" cy="381.20" r="1.20"/><circle cx="142.00" cy="382.70" r="1.20"/><circle cx="142.00" cy="384.20" r="1.20"/><circle cx="142.00" cy="385.70" r="1.20"/><circle cx="142.00" cy="387.20" r="1.20"/><circle cx="142.00" cy="388.70" r="1.20"/><circle cx="142.00" cy="390.20" r="1.20"/><circle cx="142.00" cy="391.70" r="1.20"/><circle cx="142.00" cy="393.20" r="1.20"/></g>
<line x1="180.80" y1="333.50" x2="180.80" y2="399.00" stroke="#222" stroke-width="1.2" />
<line x1="180.20" y1="399.00" x2="227.30" y2="399.00" stroke="#222" stroke-width="1.2" />
<line x1="177.60" y1="353.00" x2="180.80" y2="353.00" stroke="#222" stroke-width="1" />
<text x="160.55" y="355.87" font-size="8.2" fill="#2a2a2a" stroke="#2a2a2a" stroke-width="0.2" textLength="13.35" lengthAdjust="spacingAndGlyphs" >100</text>
<line x1="177.60" y1="374.50" x2="180.80" y2="374.50" stroke="#222" stroke-width="1" />
<text x="165.00" y="377.37" font-size="8.2" fill="#2a2a2a" stroke="#2a2a2a" stroke-width="0.2" textLength="8.90" lengthAdjust="spacingAndGlyphs" >50</text>
<line x1="177.60" y1="395.60" x2="180.80" y2="395.60" stroke="#222" stroke-width="1" />
<text x="169.45" y="398.47" font-size="8.2" fill="#2a2a2a" stroke="#2a2a2a" stroke-width="0.2" textLength="4.45" lengthAdjust="spacingAndGlyphs" >0</text>
<line x1="193.40" y1="399.00" x2="193.40" y2="401.50" stroke="#222" stroke-width="1" />
<line x1="214.60" y1="399.00" x2="214.60" y2="401.50" stroke="#222" stroke-width="1" />
<text x="187.80" y="411.74" font-size="8.4" fill="#2a2a2a" stroke="#2a2a2a" stroke-width="0.2" textLength="11.20" lengthAdjust="spacingAndGlyphs" >HC</text>
<text x="209.60" y="411.74" font-size="8.4" fill="#2a2a2a" stroke="#2a2a2a" stroke-width="0.2" textLength="10.00" lengthAdjust="spacingAndGlyphs" >II-1</text>
<text x="189.50" y="326.68" font-size="8.8" font-style="italic" fill="#1a1a1a" stroke="#1a1a1a" stroke-width="0.2" textLength="29.90" lengthAdjust="spacingAndGlyphs" >NFKBIZ</text>
<rect x="192.70" y="336.20" width="1.2" height="59.80" fill="#b3c9de"/>
<path d="M202.10,396.00 L202.60,395.40 L199.80,394.80 L195.50,393.80 L194.50,392.50 L194.10,388.00 L192.50,388.00 L192.10,392.50 L191.10,393.80 L186.80,394.80 L184.00,395.40 L184.50,396.00 Z" fill="#8eaecd" stroke="#5d86b0" stroke-width="0.6" fill-opacity="0.85"/>
<circle cx="193.30" cy="336.10" r="1.3" fill="#0f3c6c" />
<circle cx="193.30" cy="341.70" r="1.3" fill="#0f3c6c" />
<rect x="192.26" y="343.50" width="2.08" height="42.50" fill="#0f3c6c"/>
<g fill="#0f3c6c"><circle cx="193.30" cy="344.80" r="1.30"/><circle cx="193.30" cy="346.41" r="1.30"/><circle cx="193.30" cy="348.02" r="1.30"/><circle cx="193.30" cy="349.64" r="1.30"/><circle cx="193.30" cy="351.25" r="1.30"/><circle cx="193.30" cy="352.86" r="1.30"/><circle cx="193.30" cy="354.47" r="1.30"/><circle cx="193.30" cy="356.08" r="1.30"/><circle cx="193.30" cy="357.70" r="1.30"/><circle cx="193.30" cy="359.31" r="1.30"/><circle cx="193.30" cy="360.92" r="1.30"/><circle cx="193.30" cy="362.53" r="1.30"/><circle cx="193.30" cy="364.14" r="1.30"/><circle cx="193.30" cy="365.76" r="1.30"/><circle cx="193.30" cy="367.37" r="1.30"/><circle cx="193.30" cy="368.98" r="1.30"/><circle cx="193.30" cy="370.59" r="1.30"/><circle cx="193.30" cy="372.20" r="1.30"/><circle cx="193.30" cy="373.82" r="1.30"/><circle cx="193.30" cy="375.43" r="1.30"/><circle cx="193.30" cy="377.04" r="1.30"/><circle cx="193.30" cy="378.65" r="1.30"/><circle cx="193.30" cy="380.26" r="1.30"/><circle cx="193.30" cy="381.88" r="1.30"/><circle cx="193.30" cy="383.49" r="1.30"/></g>
<rect x="192.66" y="385.00" width="1.28" height="10.50" fill="#0f3c6c"/>
<g fill="#0f3c6c"><circle cx="193.30" cy="385.80" r="0.80"/><circle cx="193.30" cy="387.30" r="0.80"/><circle cx="193.30" cy="388.80" r="0.80"/><circle cx="193.30" cy="390.30" r="0.80"/><circle cx="193.30" cy="391.80" r="0.80"/><circle cx="193.30" cy="393.30" r="0.80"/></g>
<rect x="213.70" y="367.20" width="1.2" height="29.00" fill="#f2b6c1"/>
<path d="M223.10,396.20 L223.60,395.60 L219.30,395.00 L215.10,394.40 L213.50,394.40 L209.30,395.00 L205.00,395.60 L205.50,396.20 Z" fill="#f2b6c1" stroke="none" stroke-width="0" />
<circle cx="214.30" cy="367.30" r="1.3" fill="#bf1036" />
<circle cx="214.30" cy="370.60" r="1.3" fill="#bf1036" />
<circle cx="214.30" cy="373.20" r="1.3" fill="#bf1036" />
<rect x="213.34" y="375.00" width="1.92" height="20.80" fill="#bf1036"/>
<g fill="#bf1036"><circle cx="214.30" cy="376.20" r="1.20"/><circle cx="214.30" cy="377.70" r="1.20"/><circle cx="214.30" cy="379.20" r="1.20"/><circle cx="214.30" cy="380.70" r="1.20"/><circle cx="214.30" cy="382.20" r="1.20"/><circle cx="214.30" cy="383.70" r="1.20"/><circle cx="214.30" cy="385.20" r="1.20"/><circle cx="214.30" cy="386.70" r="1.20"/><circle cx="214.30" cy="388.20" r="1.20"/><circle cx="214.30" cy="389.70" r="1.20"/><circle cx="214.30" cy="391.20" r="1.20"/><circle cx="214.30" cy="392.70" r="1.20"/><circle cx="214.30" cy="394.20" r="1.20"/></g>
<line x1="34.90" y1="446.40" x2="34.90" y2="511.40" stroke="#222" stroke-width="1.2" />
<line x1="34.30" y1="511.40" x2="82.50" y2="511.40" stroke="#222" stroke-width="1.2" />
<line x1="31.70" y1="459.20" x2="34.90" y2="459.20" stroke="#222" stroke-width="1" />
<text x="19.10" y="462.07" font-size="8.2" fill="#2a2a2a" stroke="#2a2a2a" stroke-width="0.2" textLength="8.90" lengthAdjust="spacingAndGlyphs" >30</text>
<line x1="31.70" y1="475.50" x2="34.90" y2="475.50" stroke="#222" stroke-width="1" />
<text x="19.10" y="478.37" font-size="8.2" fill="#2a2a2a" stroke="#2a2a2a" stroke-width="0.2" textLength="8.90" lengthAdjust="spacingAndGlyphs" >20</text>
<line x1="31.70" y1="492.10" x2="34.90" y2="492.10" stroke="#222" stroke-width="1" />
<text x="19.10" y="494.97" font-size="8.2" fill="#2a2a2a" stroke="#2a2a2a" stroke-width="0.2" textLength="8.90" lengthAdjust="spacingAndGlyphs" >10</text>
<line x1="31.70" y1="508.40" x2="34.90" y2="508.40" stroke="#222" stroke-width="1" />
<text x="23.55" y="511.27" font-size="8.2" fill="#2a2a2a" stroke="#2a2a2a" stroke-width="0.2" textLength="4.45" lengthAdjust="spacingAndGlyphs" >0</text>
<line x1="47.70" y1="511.40" x2="47.70" y2="513.90" stroke="#222" stroke-width="1" />
<line x1="69.10" y1="511.40" x2="69.10" y2="513.90" stroke="#222" stroke-width="1" />
<text x="42.10" y="524.14" font-size="8.4" fill="#2a2a2a" stroke="#2a2a2a" stroke-width="0.2" textLength="11.20" lengthAdjust="spacingAndGlyphs" >HC</text>
<text x="64.10" y="524.14" font-size="8.4" fill="#2a2a2a" stroke="#2a2a2a" stroke-width="0.2" textLength="10.00" lengthAdjust="spacingAndGlyphs" >II-1</text>
<text x="42.30" y="439.08" font-size="8.8" font-style="italic" fill="#1a1a1a" stroke="#1a1a1a" stroke-width="0.2" textLength="32.50" lengthAdjust="spacingAndGlyphs" >CD40LG</text>
<text transform="translate(12.9,478.6) rotate(-90)" font-size="8.9" text-anchor="middle" fill="#2a2a2a" stroke="#2a2a2a" stroke-width="0.2" textLength="70.5" lengthAdjust="spacingAndGlyphs">Transcript abundance</text>
<rect x="47.20" y="449.00" width="1.2" height="59.60" fill="#b3c9de"/>
<path d="M56.30,508.60 L57.10,508.00 L55.02,506.86 L53.24,505.72 L51.75,504.58 L50.53,503.44 L49.56,502.30 L48.83,501.16 L48.35,500.02 L48.35,498.88 L48.35,497.74 L48.35,496.60 L47.25,496.60 L47.25,497.74 L47.25,498.88 L47.25,500.02 L46.77,501.16 L46.04,502.30 L45.07,503.44 L43.85,504.58 L42.36,505.72 L40.58,506.86 L38.50,508.00 L39.30,508.60 Z" fill="#8eaecd" stroke="#5d86b0" stroke-width="0.6" fill-opacity="0.85"/>
<circle cx="47.80" cy="449.40" r="1.3" fill="#0f3c6c" />
<circle cx="47.80" cy="455.60" r="1.3" fill="#0f3c6c" />
<rect x="46.84" y="462.50" width="1.92" height="34.50" fill="#0f3c6c"/>
<g fill="#0f3c6c"><circle cx="47.80" cy="463.70" r="1.20"/><circle cx="47.80" cy="465.20" r="1.20"/><circle cx="47.80" cy="466.70" r="1.20"/><circle cx="47.80" cy="468.20" r="1.20"/><circle cx="47.80" cy="469.70" r="1.20"/><circle cx="47.80" cy="471.20" r="1.20"/><circle cx="47.80" cy="472.70" r="1.20"/><circle cx="47.80" cy="474.20" r="1.20"/><circle cx="47.80" cy="475.70" r="1.20"/><circle cx="47.80" cy="477.20" r="1.20"/><circle cx="47.80" cy="478.70" r="1.20"/><circle cx="47.80" cy="480.20" r="1.20"/><circle cx="47.80" cy="481.70" r="1.20"/><circle cx="47.80" cy="483.20" r="1.20"/><circle cx="47.80" cy="484.70" r="1.20"/><circle cx="47.80" cy="486.20" r="1.20"/><circle cx="47.80" cy="487.70" r="1.20"/><circle cx="47.80" cy="489.20" r="1.20"/><circle cx="47.80" cy="490.70" r="1.20"/><circle cx="47.80" cy="492.20" r="1.20"/><circle cx="47.80" cy="493.70" r="1.20"/><circle cx="47.80" cy="495.20" r="1.20"/></g>
<rect x="47.16" y="496.00" width="1.28" height="12.00" fill="#0f3c6c"/>
<g fill="#0f3c6c"><circle cx="47.80" cy="496.80" r="0.80"/><circle cx="47.80" cy="498.30" r="0.80"/><circle cx="47.80" cy="499.80" r="0.80"/><circle cx="47.80" cy="501.30" r="0.80"/><circle cx="47.80" cy="502.80" r="0.80"/><circle cx="47.80" cy="504.30" r="0.80"/><circle cx="47.80" cy="505.80" r="0.80"/></g>
<path d="M78.20,508.80 L78.50,508.30 L78.20,507.80 L69.80,507.50 L68.60,507.50 L60.20,507.80 L59.90,508.30 L60.20,508.80 Z" fill="#f2b6c1" stroke="none" stroke-width="0" />
<circle cx="69.20" cy="493.50" r="1.3" fill="#bf1036" />
<circle cx="69.20" cy="496.90" r="1.3" fill="#bf1036" />
<rect x="68.24" y="499.00" width="1.92" height="9.50" fill="#bf1036"/>
<g fill="#bf1036"><circle cx="69.20" cy="500.20" r="1.20"/><circle cx="69.20" cy="501.70" r="1.20"/><circle cx="69.20" cy="503.20" r="1.20"/><circle cx="69.20" cy="504.70" r="1.20"/><circle cx="69.20" cy="506.20" r="1.20"/></g>
<line x1="107.40" y1="446.40" x2="107.40" y2="511.40" stroke="#222" stroke-width="1.2" />
<line x1="106.80" y1="511.40" x2="152.10" y2="511.40" stroke="#222" stroke-width="1.2" />
<line x1="104.20" y1="459.00" x2="107.40" y2="459.00" stroke="#222" stroke-width="1" />
<text x="91.60" y="461.87" font-size="8.2" fill="#2a2a2a" stroke="#2a2a2a" stroke-width="0.2" textLength="8.90" lengthAdjust="spacingAndGlyphs" >75</text>
<line x1="104.20" y1="475.50" x2="107.40" y2="475.50" stroke="#222" stroke-width="1" />
<text x="91.60" y="478.37" font-size="8.2" fill="#2a2a2a" stroke="#2a2a2a" stroke-width="0.2" textLength="8.90" lengthAdjust="spacingAndGlyphs" >50</text>
<line x1="104.20" y1="492.10" x2="107.40" y2="492.10" stroke="#222" stroke-width="1" />
<text x="91.60" y="494.97" font-size="8.2" fill="#2a2a2a" stroke="#2a2a2a" stroke-width="0.2" textLength="8.90" lengthAdjust="spacingAndGlyphs" >25</text>
<line x1="104.20" y1="508.40" x2="107.40" y2="508.40" stroke="#222" stroke-width="1" />
<text x="96.05" y="511.27" font-size="8.2" fill="#2a2a2a" stroke="#2a2a2a" stroke-width="0.2" textLength="4.45" lengthAdjust="spacingAndGlyphs" >0</text>
<line x1="120.20" y1="511.40" x2="120.20" y2="513.90" stroke="#222" stroke-width="1" />
<line x1="142.00" y1="511.40" x2="142.00" y2="513.90" stroke="#222" stroke-width="1" />
<text x="114.60" y="524.14" font-size="8.4" fill="#2a2a2a" stroke="#2a2a2a" stroke-width="0.2" textLength="11.20" lengthAdjust="spacingAndGlyphs" >HC</text>
<text x="137.00" y="524.14" font-size="8.4" fill="#2a2a2a" stroke="#2a2a2a" stroke-width="0.2" textLength="10.00" lengthAdjust="spacingAndGlyphs" >II-1</text>
<text x="121.60" y="439.08" font-size="8.8" font-style="italic" fill="#1a1a1a" stroke="#1a1a1a" stroke-width="0.2" textLength="18.90" lengthAdjust="spacingAndGlyphs" >MYC</text>
<rect x="120.00" y="449.50" width="1.2" height="58.90" fill="#b3c9de"/>
<path d="M126.60,508.40 L129.60,506.90 L129.90,505.40 L128.20,500.80 L125.10,494.60 L123.10,491.40 L121.80,488.40 L121.40,484.40 L119.80,484.40 L119.40,488.40 L118.10,491.40 L116.10,494.60 L113.00,500.80 L111.30,505.40 L111.60,506.90 L114.60,508.40 Z" fill="#8eaecd" stroke="#5d86b0" stroke-width="0.6" fill-opacity="0.85"/>
<circle cx="120.60" cy="449.30" r="1.3" fill="#0f3c6c" />
<circle cx="120.60" cy="457.00" r="1.3" fill="#0f3c6c" />
<circle cx="120.60" cy="458.50" r="1.3" fill="#0f3c6c" />
<rect x="119.60" y="460.00" width="2.00" height="24.00" fill="#0f3c6c"/>
<g fill="#0f3c6c"><circle cx="120.60" cy="461.25" r="1.25"/><circle cx="120.60" cy="462.80" r="1.25"/><circle cx="120.60" cy="464.35" r="1.25"/><circle cx="120.60" cy="465.90" r="1.25"/><circle cx="120.60" cy="467.45" r="1.25"/><circle cx="120.60" cy="469.00" r="1.25"/><circle cx="120.60" cy="470.55" r="1.25"/><circle cx="120.60" cy="472.10" r="1.25"/><circle cx="120.60" cy="473.65" r="1.25"/><circle cx="120.60" cy="475.20" r="1.25"/><circle cx="120.60" cy="476.75" r="1.25"/><circle cx="120.60" cy="478.30" r="1.25"/><circle cx="120.60" cy="479.85" r="1.25"/><circle cx="120.60" cy="481.40" r="1.25"/></g>
<rect x="120.00" y="483.00" width="1.20" height="25.00" fill="#0f3c6c"/>
<g fill="#0f3c6c"><circle cx="120.60" cy="483.75" r="0.75"/><circle cx="120.60" cy="485.25" r="0.75"/><circle cx="120.60" cy="486.75" r="0.75"/><circle cx="120.60" cy="488.25" r="0.75"/><circle cx="120.60" cy="489.75" r="0.75"/><circle cx="120.60" cy="491.25" r="0.75"/><circle cx="120.60" cy="492.75" r="0.75"/><circle cx="120.60" cy="494.25" r="0.75"/><circle cx="120.60" cy="495.75" r="0.75"/><circle cx="120.60" cy="497.25" r="0.75"/><circle cx="120.60" cy="498.75" r="0.75"/><circle cx="120.60" cy="500.25" r="0.75"/><circle cx="120.60" cy="501.75" r="0.75"/><circle cx="120.60" cy="503.25" r="0.75"/><circle cx="120.60" cy="504.75" r="0.75"/><circle cx="120.60" cy="506.25" r="0.75"/></g>
<circle cx="120.60" cy="497.50" r="1.3" fill="#0f3c6c" />
<circle cx="120.60" cy="501.50" r="1.3" fill="#0f3c6c" />
<rect x="141.30" y="457.90" width="1.2" height="50.90" fill="#f2b6c1"/>
<path d="M148.90,508.80 L151.20,507.30 L149.90,505.80 L146.90,503.80 L144.40,500.80 L143.10,496.80 L142.60,494.80 L141.20,494.80 L140.70,496.80 L139.40,500.80 L136.90,503.80 L133.90,505.80 L132.60,507.30 L134.90,508.80 Z" fill="#eea3b0" stroke="#d86a7e" stroke-width="0.6" fill-opacity="0.85"/>
<circle cx="141.90" cy="457.90" r="1.3" fill="#bf1036" />
<circle cx="141.90" cy="463.60" r="1.3" fill="#bf1036" />
<rect x="140.94" y="473.60" width="1.92" height="34.90" fill="#bf1036"/>
<g fill="#bf1036"><circle cx="141.90" cy="474.80" r="1.20"/><circle cx="141.90" cy="476.30" r="1.20"/><circle cx="141.90" cy="477.80" r="1.20"/><circle cx="141.90" cy="479.30" r="1.20"/><circle cx="141.90" cy="480.80" r="1.20"/><circle cx="141.90" cy="482.30" r="1.20"/><circle cx="141.90" cy="483.80" r="1.20"/><circle cx="141.90" cy="485.30" r="1.20"/><circle cx="141.90" cy="486.80" r="1.20"/><circle cx="141.90" cy="488.30" r="1.20"/><circle cx="141.90" cy="489.80" r="1.20"/><circle cx="141.90" cy="491.30" r="1.20"/><circle cx="141.90" cy="492.80" r="1.20"/><circle cx="141.90" cy="494.30" r="1.20"/><circle cx="141.90" cy="495.80" r="1.20"/><circle cx="141.90" cy="497.30" r="1.20"/><circle cx="141.90" cy="498.80" r="1.20"/><circle cx="141.90" cy="500.30" r="1.20"/><circle cx="141.90" cy="501.80" r="1.20"/><circle cx="141.90" cy="503.30" r="1.20"/><circle cx="141.90" cy="504.80" r="1.20"/><circle cx="141.90" cy="506.30" r="1.20"/></g>
<line x1="180.30" y1="446.40" x2="180.30" y2="511.40" stroke="#222" stroke-width="1.2" />
<line x1="179.70" y1="511.40" x2="227.50" y2="511.40" stroke="#222" stroke-width="1.2" />
<line x1="177.10" y1="449.50" x2="180.30" y2="449.50" stroke="#222" stroke-width="1" />
<text x="160.05" y="452.37" font-size="8.2" fill="#2a2a2a" stroke="#2a2a2a" stroke-width="0.2" textLength="13.35" lengthAdjust="spacingAndGlyphs" >800</text>
<line x1="177.10" y1="464.30" x2="180.30" y2="464.30" stroke="#222" stroke-width="1" />
<text x="160.05" y="467.17" font-size="8.2" fill="#2a2a2a" stroke="#2a2a2a" stroke-width="0.2" textLength="13.35" lengthAdjust="spacingAndGlyphs" >600</text>
<line x1="177.10" y1="478.90" x2="180.30" y2="478.90" stroke="#222" stroke-width="1" />
<text x="160.05" y="481.77" font-size="8.2" fill="#2a2a2a" stroke="#2a2a2a" stroke-width="0.2" textLength="13.35" lengthAdjust="spacingAndGlyphs" >400</text>
<line x1="177.10" y1="493.50" x2="180.30" y2="493.50" stroke="#222" stroke-width="1" />
<text x="160.05" y="496.37" font-size="8.2" fill="#2a2a2a" stroke="#2a2a2a" stroke-width="0.2" textLength="13.35" lengthAdjust="spacingAndGlyphs" >200</text>
<line x1="177.10" y1="508.40" x2="180.30" y2="508.40" stroke="#222" stroke-width="1" />
<text x="168.95" y="511.27" font-size="8.2" fill="#2a2a2a" stroke="#2a2a2a" stroke-width="0.2" textLength="4.45" lengthAdjust="spacingAndGlyphs" >0</text>
<line x1="193.10" y1="511.40" x2="193.10" y2="513.90" stroke="#222" stroke-width="1" />
<line x1="214.40" y1="511.40" x2="214.40" y2="513.90" stroke="#222" stroke-width="1" />
<text x="187.50" y="524.14" font-size="8.4" fill="#2a2a2a" stroke="#2a2a2a" stroke-width="0.2" textLength="11.20" lengthAdjust="spacingAndGlyphs" >HC</text>
<text x="209.40" y="524.14" font-size="8.4" fill="#2a2a2a" stroke="#2a2a2a" stroke-width="0.2" textLength="10.00" lengthAdjust="spacingAndGlyphs" >II-1</text>
<text x="196.20" y="439.08" font-size="8.8" font-style="italic" fill="#1a1a1a" stroke="#1a1a1a" stroke-width="0.2" textLength="16.20" lengthAdjust="spacingAndGlyphs" >TNF</text>
<rect x="192.70" y="448.70" width="1.2" height="59.60" fill="#b3c9de"/>
<path d="M202.10,508.30 L202.60,507.70 L199.30,506.80 L195.50,505.30 L194.40,503.30 L194.00,500.30 L192.60,500.30 L192.20,503.30 L191.10,505.30 L187.30,506.80 L184.00,507.70 L184.50,508.30 Z" fill="#8eaecd" stroke="#5d86b0" stroke-width="0.6" fill-opacity="0.85"/>
<circle cx="193.30" cy="448.70" r="1.3" fill="#0f3c6c" />
<circle cx="193.30" cy="451.00" r="1.3" fill="#0f3c6c" />
<rect x="192.18" y="455.60" width="2.24" height="36.40" fill="#0f3c6c"/>
<g fill="#0f3c6c"><circle cx="193.30" cy="457.00" r="1.40"/><circle cx="193.30" cy="458.74" r="1.40"/><circle cx="193.30" cy="460.47" r="1.40"/><circle cx="193.30" cy="462.21" r="1.40"/><circle cx="193.30" cy="463.94" r="1.40"/><circle cx="193.30" cy="465.68" r="1.40"/><circle cx="193.30" cy="467.42" r="1.40"/><circle cx="193.30" cy="469.15" r="1.40"/><circle cx="193.30" cy="470.89" r="1.40"/><circle cx="193.30" cy="472.62" r="1.40"/><circle cx="193.30" cy="474.36" r="1.40"/><circle cx="193.30" cy="476.10" r="1.40"/><circle cx="193.30" cy="477.83" r="1.40"/><circle cx="193.30" cy="479.57" r="1.40"/><circle cx="193.30" cy="481.30" r="1.40"/><circle cx="193.30" cy="483.04" r="1.40"/><circle cx="193.30" cy="484.78" r="1.40"/><circle cx="193.30" cy="486.51" r="1.40"/><circle cx="193.30" cy="488.25" r="1.40"/><circle cx="193.30" cy="489.98" r="1.40"/></g>
<rect x="192.66" y="491.00" width="1.28" height="17.00" fill="#0f3c6c"/>
<g fill="#0f3c6c"><circle cx="193.30" cy="491.80" r="0.80"/><circle cx="193.30" cy="493.30" r="0.80"/><circle cx="193.30" cy="494.80" r="0.80"/><circle cx="193.30" cy="496.30" r="0.80"/><circle cx="193.30" cy="497.80" r="0.80"/><circle cx="193.30" cy="499.30" r="0.80"/><circle cx="193.30" cy="500.80" r="0.80"/><circle cx="193.30" cy="502.30" r="0.80"/><circle cx="193.30" cy="503.80" r="0.80"/><circle cx="193.30" cy="505.30" r="0.80"/><circle cx="193.30" cy="506.80" r="0.80"/></g>
<rect x="214.00" y="462.00" width="1.2" height="46.60" fill="#f2b6c1"/>
<path d="M224.40,508.60 L224.90,508.10 L224.40,507.60 L215.20,507.30 L214.00,507.30 L204.80,507.60 L204.30,508.10 L204.80,508.60 Z" fill="#f2b6c1" stroke="none" stroke-width="0" />
<circle cx="214.60" cy="462.00" r="1.4" fill="#bf1036" />
<rect x="213.40" y="469.00" width="2.40" height="39.30" fill="#bf1036"/>
<g fill="#bf1036"><circle cx="214.60" cy="470.50" r="1.50"/><circle cx="214.60" cy="472.36" r="1.50"/><circle cx="214.60" cy="474.22" r="1.50"/><circle cx="214.60" cy="476.08" r="1.50"/><circle cx="214.60" cy="477.94" r="1.50"/><circle cx="214.60" cy="479.80" r="1.50"/><circle cx="214.60" cy="481.66" r="1.50"/><circle cx="214.60" cy="483.52" r="1.50"/><circle cx="214.60" cy="485.38" r="1.50"/><circle cx="214.60" cy="487.24" r="1.50"/><circle cx="214.60" cy="489.10" r="1.50"/><circle cx="214.60" cy="490.96" r="1.50"/><circle cx="214.60" cy="492.82" r="1.50"/><circle cx="214.60" cy="494.68" r="1.50"/><circle cx="214.60" cy="496.54" r="1.50"/><circle cx="214.60" cy="498.40" r="1.50"/><circle cx="214.60" cy="500.26" r="1.50"/><circle cx="214.60" cy="502.12" r="1.50"/><circle cx="214.60" cy="503.98" r="1.50"/><circle cx="214.60" cy="505.84" r="1.50"/></g>
<text x="261.20" y="10.70" font-size="10.2" font-weight="bold" fill="#111" textLength="9.20" lengthAdjust="spacingAndGlyphs" stroke="#111" stroke-width="0.35">C</text>
<text x="316.50" y="26.95" font-size="9.0" fill="#1a1a1a" stroke="#1a1a1a" stroke-width="0.2" textLength="13.50" lengthAdjust="spacingAndGlyphs" >HC</text>
<text x="420.30" y="26.55" font-size="9.0" fill="#1a1a1a" stroke="#1a1a1a" stroke-width="0.2" textLength="12.00" lengthAdjust="spacingAndGlyphs" >II-1</text>
<defs><filter id="b1" x="-50%" y="-50%" width="200%" height="200%"><feGaussianBlur stdDeviation="0.8"/></filter><filter id="b2" x="-50%" y="-50%" width="200%" height="200%"><feGaussianBlur stdDeviation="2.2"/></filter><filter id="b3" x="-50%" y="-50%" width="200%" height="200%"><feGaussianBlur stdDeviation="4"/></filter></defs>
<svg x="276.5" y="30.5" width="93.00" height="93.00" viewBox="276.5 30.5 93.00 93.00" overflow="hidden">
<path d="M325.20,59.00 A11.00,11.00 0 0 1 347.20,59.00 C347.20,72.20 346.20,103.00 346.20,106.00 L326.20,106.00 C326.20,103.00 325.20,72.20 325.20,59.00 Z" fill="#c4c4c4" filter="url(#b3)" opacity="0.5"/>
<ellipse cx="318.00" cy="100.50" rx="20.00" ry="4.50" fill="#d0d0d0" stroke="none" stroke-width="0.5" filter="url(#b2)" opacity="0.55"/>
<g fill="#666"><rect x="338.2" y="64.8" width=".9" height=".9" fill-opacity=".5"/><rect x="350.3" y="66.8" width=".9" height=".9" fill-opacity=".5"/><rect x="340.7" y="66.0" width=".9" height=".9" fill-opacity=".6"/><rect x="321.9" y="74.1" width=".9" height=".9" fill-opacity=".5"/><rect x="344.6" y="65.8" width=".9" height=".9" fill-opacity=".7"/><rect x="318.2" y="53.0" width=".9" height=".9" fill-opacity=".4"/><rect x="343.6" y="40.1" width=".9" height=".9" fill-opacity=".5"/><rect x="334.3" y="71.2" width=".9" height=".9" fill-opacity=".5"/><rect x="324.2" y="77.7" width=".9" height=".9" fill-opacity=".3"/><rect x="341.0" y="58.3" width=".9" height=".9" fill-opacity=".6"/><rect x="338.9" y="67.1" width=".9" height=".9" fill-opacity=".4"/><rect x="337.1" y="72.6" width=".9" height=".9" fill-opacity=".4"/><rect x="330.0" y="55.4" width=".9" height=".9" fill-opacity=".7"/><rect x="345.4" y="60.3" width=".9" height=".9" fill-opacity=".3"/><rect x="328.1" y="70.4" width=".9" height=".9" fill-opacity=".5"/><rect x="349.2" y="55.1" width=".9" height=".9" fill-opacity=".7"/><rect x="323.6" y="58.5" width=".9" height=".9" fill-opacity=".5"/><rect x="334.7" y="56.7" width=".9" height=".9" fill-opacity=".5"/><rect x="348.6" y="48.7" width=".9" height=".9" fill-opacity=".7"/><rect x="347.3" y="46.0" width=".9" height=".9" fill-opacity=".5"/><rect x="328.9" y="66.9" width=".9" height=".9" fill-opacity=".3"/><rect x="346.2" y="69.4" width=".9" height=".9" fill-opacity=".3"/><rect x="339.1" y="61.6" width=".9" height=".9" fill-opacity=".4"/><rect x="337.4" y="66.3" width=".9" height=".9" fill-opacity=".4"/><rect x="334.4" y="63.1" width=".9" height=".9" fill-opacity=".5"/><rect x="341.2" y="60.0" width=".9" height=".9" fill-opacity=".7"/><rect x="342.9" y="66.2" width=".9" height=".9" fill-opacity=".6"/><rect x="354.1" y="63.6" width=".9" height=".9" fill-opacity=".6"/><rect x="332.2" y="55.9" width=".9" height=".9" fill-opacity=".7"/><rect x="335.9" y="70.2" width=".9" height=".9" fill-opacity=".5"/><rect x="333.0" y="64.2" width=".9" height=".9" fill-opacity=".3"/><rect x="352.5" y="31.8" width=".9" height=".9" fill-opacity=".4"/><rect x="325.9" y="62.7" width=".9" height=".9" fill-opacity=".6"/><rect x="339.6" y="62.6" width=".9" height=".9" fill-opacity=".4"/><rect x="332.1" y="67.2" width=".9" height=".9" fill-opacity=".7"/><rect x="338.5" y="54.3" width=".9" height=".9" fill-opacity=".3"/><rect x="357.9" y="63.9" width=".9" height=".9" fill-opacity=".3"/><rect x="331.0" y="58.9" width=".9" height=".9" fill-opacity=".3"/><rect x="334.0" y="59.3" width=".9" height=".9" fill-opacity=".3"/><rect x="311.4" y="54.6" width=".9" height=".9" fill-opacity=".7"/><rect x="345.1" y="47.1" width=".9" height=".9" fill-opacity=".5"/><rect x="335.4" y="70.5" width=".9" height=".9" fill-opacity=".5"/><rect x="343.7" y="76.4" width=".9" height=".9" fill-opacity=".3"/><rect x="320.7" y="56.1" width=".9" height=".9" fill-opacity=".7"/><rect x="332.9" y="66.9" width=".9" height=".9" fill-opacity=".5"/><rect x="345.8" y="44.1" width=".9" height=".9" fill-opacity=".7"/><rect x="342.1" y="43.6" width=".9" height=".9" fill-opacity=".4"/><rect x="337.6" y="73.1" width=".9" height=".9" fill-opacity=".6"/><rect x="334.7" y="62.1" width=".9" height=".9" fill-opacity=".7"/><rect x="343.2" y="61.6" width=".9" height=".9" fill-opacity=".5"/><rect x="335.2" y="76.9" width=".9" height=".9" fill-opacity=".7"/><rect x="345.4" y="56.8" width=".9" height=".9" fill-opacity=".4"/><rect x="360.7" y="47.4" width=".9" height=".9" fill-opacity=".4"/><rect x="344.2" y="57.1" width=".9" height=".9" fill-opacity=".5"/><rect x="337.2" y="67.8" width=".9" height=".9" fill-opacity=".7"/><rect x="338.0" y="67.0" width=".9" height=".9" fill-opacity=".6"/><rect x="322.3" y="43.4" width=".9" height=".9" fill-opacity=".4"/><rect x="341.5" y="49.4" width=".9" height=".9" fill-opacity=".4"/><rect x="326.8" y="43.8" width=".9" height=".9" fill-opacity=".3"/><rect x="347.4" y="68.2" width=".9" height=".9" fill-opacity=".4"/><rect x="349.3" y="49.7" width=".9" height=".9" fill-opacity=".4"/><rect x="336.0" y="47.5" width=".9" height=".9" fill-opacity=".6"/><rect x="342.9" y="77.5" width=".9" height=".9" fill-opacity=".3"/><rect x="328.0" y="77.2" width=".9" height=".9" fill-opacity=".3"/><rect x="344.9" y="58.0" width=".9" height=".9" fill-opacity=".4"/><rect x="318.3" y="75.5" width=".9" height=".9" fill-opacity=".5"/><rect x="335.1" y="53.4" width=".9" height=".9" fill-opacity=".6"/><rect x="339.6" y="64.5" width=".9" height=".9" fill-opacity=".5"/><rect x="349.5" y="48.8" width=".9" height=".9" fill-opacity=".3"/><rect x="346.2" y="76.4" width=".9" height=".9" fill-opacity=".3"/><rect x="349.1" y="58.0" width=".9" height=".9" fill-opacity=".7"/><rect x="329.3" y="71.2" width=".9" height=".9" fill-opacity=".5"/><rect x="337.0" y="61.4" width=".9" height=".9" fill-opacity=".7"/><rect x="348.8" y="57.1" width=".9" height=".9" fill-opacity=".7"/><rect x="315.3" y="55.7" width=".9" height=".9" fill-opacity=".6"/><rect x="319.3" y="69.0" width=".9" height=".9" fill-opacity=".7"/><rect x="338.9" y="53.3" width=".9" height=".9" fill-opacity=".7"/><rect x="335.9" y="69.2" width=".9" height=".9" fill-opacity=".6"/><rect x="336.7" y="74.6" width=".9" height=".9" fill-opacity=".4"/><rect x="335.4" y="71.4" width=".9" height=".9" fill-opacity=".4"/><rect x="349.4" y="77.7" width=".9" height=".9" fill-opacity=".3"/><rect x="330.0" y="69.7" width=".9" height=".9" fill-opacity=".3"/><rect x="319.1" y="48.1" width=".9" height=".9" fill-opacity=".3"/><rect x="318.3" y="71.8" width=".9" height=".9" fill-opacity=".7"/><rect x="324.9" y="59.9" width=".9" height=".9" fill-opacity=".3"/><rect x="334.3" y="59.7" width=".9" height=".9" fill-opacity=".6"/><rect x="330.7" y="62.6" width=".9" height=".9" fill-opacity=".4"/><rect x="352.1" y="60.5" width=".9" height=".9" fill-opacity=".4"/><rect x="340.8" y="71.0" width=".9" height=".9" fill-opacity=".4"/><rect x="334.2" y="46.1" width=".9" height=".9" fill-opacity=".3"/><rect x="331.0" y="71.8" width=".9" height=".9" fill-opacity=".3"/><rect x="321.2" y="53.4" width=".9" height=".9" fill-opacity=".3"/><rect x="345.1" y="68.7" width=".9" height=".9" fill-opacity=".7"/><rect x="336.1" y="68.9" width=".9" height=".9" fill-opacity=".7"/><rect x="337.5" y="47.0" width=".9" height=".9" fill-opacity=".4"/><rect x="321.9" y="53.0" width=".9" height=".9" fill-opacity=".4"/><rect x="344.3" y="53.8" width=".9" height=".9" fill-opacity=".6"/><rect x="327.9" y="51.5" width=".9" height=".9" fill-opacity=".4"/><rect x="322.2" y="58.7" width=".9" height=".9" fill-opacity=".7"/><rect x="325.4" y="64.0" width=".9" height=".9" fill-opacity=".7"/><rect x="314.8" y="63.6" width=".9" height=".9" fill-opacity=".7"/><rect x="330.2" y="38.6" width=".9" height=".9" fill-opacity=".6"/><rect x="342.5" y="57.0" width=".9" height=".9" fill-opacity=".7"/><rect x="315.9" y="50.4" width=".9" height=".9" fill-opacity=".4"/><rect x="338.6" y="55.0" width=".9" height=".9" fill-opacity=".7"/><rect x="343.0" y="68.2" width=".9" height=".9" fill-opacity=".5"/><rect x="342.0" y="63.6" width=".9" height=".9" fill-opacity=".3"/><rect x="348.0" y="67.3" width=".9" height=".9" fill-opacity=".5"/><rect x="340.1" y="37.1" width=".9" height=".9" fill-opacity=".3"/><rect x="344.1" y="74.4" width=".9" height=".9" fill-opacity=".6"/><rect x="333.0" y="95.7" width=".9" height=".9" fill-opacity=".7"/><rect x="355.4" y="86.7" width=".9" height=".9" fill-opacity=".3"/><rect x="340.7" y="116.0" width=".9" height=".9" fill-opacity=".6"/><rect x="326.7" y="103.8" width=".9" height=".9" fill-opacity=".6"/><rect x="354.9" y="98.2" width=".9" height=".9" fill-opacity=".6"/><rect x="341.6" y="105.3" width=".9" height=".9" fill-opacity=".3"/><rect x="326.9" y="98.4" width=".9" height=".9" fill-opacity=".6"/><rect x="338.9" y="104.8" width=".9" height=".9" fill-opacity=".4"/><rect x="335.7" y="97.6" width=".9" height=".9" fill-opacity=".4"/><rect x="325.8" y="96.5" width=".9" height=".9" fill-opacity=".3"/><rect x="344.9" y="99.7" width=".9" height=".9" fill-opacity=".5"/><rect x="327.5" y="93.1" width=".9" height=".9" fill-opacity=".4"/><rect x="362.7" y="107.0" width=".9" height=".9" fill-opacity=".3"/><rect x="342.4" y="80.8" width=".9" height=".9" fill-opacity=".3"/><rect x="342.2" y="102.4" width=".9" height=".9" fill-opacity=".5"/><rect x="352.8" y="102.0" width=".9" height=".9" fill-opacity=".5"/><rect x="335.3" y="102.7" width=".9" height=".9" fill-opacity=".3"/><rect x="316.6" y="106.2" width=".9" height=".9" fill-opacity=".5"/><rect x="339.2" y="94.1" width=".9" height=".9" fill-opacity=".7"/><rect x="349.3" y="111.7" width=".9" height=".9" fill-opacity=".6"/><rect x="322.0" y="94.3" width=".9" height=".9" fill-opacity=".7"/><rect x="338.9" y="100.3" width=".9" height=".9" fill-opacity=".5"/><rect x="332.0" y="92.2" width=".9" height=".9" fill-opacity=".5"/><rect x="357.2" y="106.3" width=".9" height=".9" fill-opacity=".4"/><rect x="324.1" y="89.6" width=".9" height=".9" fill-opacity=".3"/><rect x="353.0" y="105.9" width=".9" height=".9" fill-opacity=".7"/><rect x="354.2" y="104.7" width=".9" height=".9" fill-opacity=".3"/><rect x="327.3" y="100.8" width=".9" height=".9" fill-opacity=".4"/><rect x="314.4" y="93.8" width=".9" height=".9" fill-opacity=".5"/><rect x="335.4" y="102.7" width=".9" height=".9" fill-opacity=".4"/><rect x="328.7" y="98.1" width=".9" height=".9" fill-opacity=".4"/><rect x="340.6" y="101.6" width=".9" height=".9" fill-opacity=".4"/><rect x="342.4" y="100.5" width=".9" height=".9" fill-opacity=".5"/><rect x="332.8" y="104.5" width=".9" height=".9" fill-opacity=".4"/><rect x="336.5" y="93.2" width=".9" height=".9" fill-opacity=".6"/><rect x="329.7" y="99.0" width=".9" height=".9" fill-opacity=".5"/><rect x="334.9" y="100.1" width=".9" height=".9" fill-opacity=".7"/><rect x="336.0" y="100.2" width=".9" height=".9" fill-opacity=".4"/><rect x="334.7" y="90.2" width=".9" height=".9" fill-opacity=".6"/><rect x="340.2" y="106.4" width=".9" height=".9" fill-opacity=".7"/><rect x="340.3" y="97.7" width=".9" height=".9" fill-opacity=".6"/><rect x="340.5" y="92.2" width=".9" height=".9" fill-opacity=".6"/><rect x="317.0" y="99.4" width=".9" height=".9" fill-opacity=".7"/><rect x="326.7" y="104.2" width=".9" height=".9" fill-opacity=".3"/><rect x="325.2" y="80.6" width=".9" height=".9" fill-opacity=".3"/><rect x="325.6" y="110.0" width=".9" height=".9" fill-opacity=".6"/><rect x="332.2" y="89.4" width=".9" height=".9" fill-opacity=".4"/><rect x="328.4" y="102.6" width=".9" height=".9" fill-opacity=".7"/><rect x="341.0" y="100.2" width=".9" height=".9" fill-opacity=".5"/><rect x="350.8" y="103.9" width=".9" height=".9" fill-opacity=".4"/><rect x="335.8" y="103.2" width=".9" height=".9" fill-opacity=".6"/><rect x="352.5" y="105.8" width=".9" height=".9" fill-opacity=".7"/><rect x="346.2" y="91.4" width=".9" height=".9" fill-opacity=".7"/><rect x="334.5" y="104.1" width=".9" height=".9" fill-opacity=".3"/><rect x="333.0" y="106.5" width=".9" height=".9" fill-opacity=".7"/><rect x="342.0" y="105.4" width=".9" height=".9" fill-opacity=".4"/><rect x="333.9" y="116.8" width=".9" height=".9" fill-opacity=".4"/><rect x="348.4" y="97.5" width=".9" height=".9" fill-opacity=".3"/><rect x="336.9" y="117.2" width=".9" height=".9" fill-opacity=".3"/><rect x="332.6" y="105.1" width=".9" height=".9" fill-opacity=".3"/><rect x="345.8" y="99.0" width=".9" height=".9" fill-opacity=".3"/><rect x="324.3" y="100.3" width=".9" height=".9" fill-opacity=".7"/><rect x="339.6" y="106.9" width=".9" height=".9" fill-opacity=".4"/><rect x="343.8" y="99.2" width=".9" height=".9" fill-opacity=".5"/><rect x="344.5" y="102.8" width=".9" height=".9" fill-opacity=".4"/><rect x="338.1" y="99.4" width=".9" height=".9" fill-opacity=".3"/><rect x="333.6" y="103.8" width=".9" height=".9" fill-opacity=".3"/><rect x="325.5" y="94.6" width=".9" height=".9" fill-opacity=".3"/><rect x="336.0" y="88.8" width=".9" height=".9" fill-opacity=".4"/><rect x="331.6" y="84.9" width=".9" height=".9" fill-opacity=".3"/><rect x="329.2" y="103.0" width=".9" height=".9" fill-opacity=".3"/><rect x="341.7" y="98.6" width=".9" height=".9" fill-opacity=".3"/><rect x="333.7" y="89.1" width=".9" height=".9" fill-opacity=".3"/><rect x="354.3" y="102.6" width=".9" height=".9" fill-opacity=".7"/><rect x="346.9" y="92.8" width=".9" height=".9" fill-opacity=".5"/><rect x="334.1" y="86.3" width=".9" height=".9" fill-opacity=".4"/><rect x="343.8" y="105.5" width=".9" height=".9" fill-opacity=".7"/><rect x="317.0" y="98.6" width=".9" height=".9" fill-opacity=".3"/><rect x="342.3" y="86.7" width=".9" height=".9" fill-opacity=".6"/><rect x="317.7" y="91.5" width=".9" height=".9" fill-opacity=".3"/><rect x="329.7" y="89.2" width=".9" height=".9" fill-opacity=".4"/><rect x="336.3" y="100.7" width=".9" height=".9" fill-opacity=".4"/><rect x="342.3" y="103.9" width=".9" height=".9" fill-opacity=".4"/><rect x="351.0" y="107.2" width=".9" height=".9" fill-opacity=".3"/><rect x="322.9" y="95.5" width=".9" height=".9" fill-opacity=".3"/><rect x="325.4" y="91.5" width=".9" height=".9" fill-opacity=".3"/><rect x="335.2" y="99.0" width=".9" height=".9" fill-opacity=".3"/><rect x="340.9" y="87.9" width=".9" height=".9" fill-opacity=".5"/><rect x="323.6" y="98.8" width=".9" height=".9" fill-opacity=".6"/><rect x="334.0" y="96.8" width=".9" height=".9" fill-opacity=".3"/><rect x="335.4" y="93.7" width=".9" height=".9" fill-opacity=".4"/><rect x="343.0" y="101.5" width=".9" height=".9" fill-opacity=".3"/><rect x="335.1" y="94.3" width=".9" height=".9" fill-opacity=".4"/><rect x="334.3" y="79.9" width=".9" height=".9" fill-opacity=".5"/><rect x="326.2" y="99.3" width=".9" height=".9" fill-opacity=".5"/><rect x="321.0" y="100.4" width=".9" height=".9" fill-opacity=".5"/><rect x="337.5" y="89.4" width=".9" height=".9" fill-opacity=".6"/><rect x="333.5" y="96.8" width=".9" height=".9" fill-opacity=".5"/><rect x="340.6" y="103.3" width=".9" height=".9" fill-opacity=".3"/><rect x="335.6" y="93.0" width=".9" height=".9" fill-opacity=".5"/><rect x="334.6" y="98.5" width=".9" height=".9" fill-opacity=".5"/><rect x="343.3" y="101.1" width=".9" height=".9" fill-opacity=".5"/><rect x="328.8" y="89.5" width=".9" height=".9" fill-opacity=".3"/><rect x="332.3" y="93.8" width=".9" height=".9" fill-opacity=".5"/><rect x="324.9" y="98.2" width=".9" height=".9" fill-opacity=".5"/><rect x="331.1" y="99.7" width=".9" height=".9" fill-opacity=".7"/><rect x="341.2" y="96.1" width=".9" height=".9" fill-opacity=".7"/><rect x="359.2" y="96.7" width=".9" height=".9" fill-opacity=".6"/><rect x="347.0" y="99.9" width=".9" height=".9" fill-opacity=".5"/><rect x="347.2" y="82.4" width=".9" height=".9" fill-opacity=".7"/><rect x="328.5" y="100.7" width=".9" height=".9" fill-opacity=".3"/><rect x="342.0" y="115.4" width=".9" height=".9" fill-opacity=".6"/><rect x="339.2" y="108.0" width=".9" height=".9" fill-opacity=".3"/><rect x="343.7" y="105.6" width=".9" height=".9" fill-opacity=".6"/><rect x="341.1" y="97.9" width=".9" height=".9" fill-opacity=".7"/><rect x="341.1" y="91.5" width=".9" height=".9" fill-opacity=".3"/><rect x="347.8" y="91.9" width=".9" height=".9" fill-opacity=".5"/><rect x="338.5" y="113.8" width=".9" height=".9" fill-opacity=".6"/><rect x="333.8" y="99.1" width=".9" height=".9" fill-opacity=".3"/><rect x="347.6" y="99.2" width=".9" height=".9" fill-opacity=".7"/><rect x="327.9" y="100.8" width=".9" height=".9" fill-opacity=".7"/><rect x="341.8" y="104.0" width=".9" height=".9" fill-opacity=".4"/><rect x="328.3" y="111.3" width=".9" height=".9" fill-opacity=".3"/><rect x="352.7" y="99.1" width=".9" height=".9" fill-opacity=".7"/><rect x="338.7" y="96.0" width=".9" height=".9" fill-opacity=".5"/><rect x="350.1" y="94.1" width=".9" height=".9" fill-opacity=".4"/><rect x="342.7" y="95.6" width=".9" height=".9" fill-opacity=".6"/><rect x="329.1" y="104.0" width=".9" height=".9" fill-opacity=".3"/><rect x="349.3" y="98.9" width=".9" height=".9" fill-opacity=".7"/><rect x="329.2" y="104.7" width=".9" height=".9" fill-opacity=".4"/><rect x="335.5" y="101.2" width=".9" height=".9" fill-opacity=".5"/><rect x="351.2" y="106.9" width=".9" height=".9" fill-opacity=".3"/><rect x="330.8" y="115.0" width=".9" height=".9" fill-opacity=".3"/><rect x="336.0" y="104.5" width=".9" height=".9" fill-opacity=".5"/><rect x="329.5" y="98.7" width=".9" height=".9" fill-opacity=".6"/><rect x="318.5" y="111.5" width=".9" height=".9" fill-opacity=".3"/><rect x="349.7" y="90.5" width=".9" height=".9" fill-opacity=".6"/><rect x="320.9" y="87.7" width=".9" height=".9" fill-opacity=".4"/><rect x="347.8" y="95.8" width=".9" height=".9" fill-opacity=".6"/><rect x="335.4" y="96.8" width=".9" height=".9" fill-opacity=".7"/><rect x="298.5" y="95.6" width=".9" height=".9" fill-opacity=".5"/><rect x="300.3" y="94.2" width=".9" height=".9" fill-opacity=".7"/><rect x="299.1" y="101.2" width=".9" height=".9" fill-opacity=".5"/><rect x="305.6" y="99.1" width=".9" height=".9" fill-opacity=".7"/><rect x="289.2" y="100.6" width=".9" height=".9" fill-opacity=".4"/><rect x="294.2" y="106.3" width=".9" height=".9" fill-opacity=".5"/><rect x="309.2" y="99.5" width=".9" height=".9" fill-opacity=".4"/><rect x="294.3" y="97.2" width=".9" height=".9" fill-opacity=".4"/><rect x="288.8" y="98.6" width=".9" height=".9" fill-opacity=".6"/><rect x="303.5" y="102.1" width=".9" height=".9" fill-opacity=".4"/><rect x="306.8" y="108.4" width=".9" height=".9" fill-opacity=".3"/><rect x="291.5" y="100.1" width=".9" height=".9" fill-opacity=".3"/><rect x="333.5" y="92.5" width=".9" height=".9" fill-opacity=".6"/><rect x="293.7" y="100.7" width=".9" height=".9" fill-opacity=".7"/><rect x="301.9" y="101.6" width=".9" height=".9" fill-opacity=".3"/><rect x="297.1" y="101.5" width=".9" height=".9" fill-opacity=".5"/><rect x="300.6" y="103.1" width=".9" height=".9" fill-opacity=".5"/><rect x="300.0" y="95.9" width=".9" height=".9" fill-opacity=".3"/><rect x="287.5" y="102.5" width=".9" height=".9" fill-opacity=".6"/><rect x="292.2" y="102.5" width=".9" height=".9" fill-opacity=".6"/><rect x="308.9" y="101.2" width=".9" height=".9" fill-opacity=".3"/><rect x="306.1" y="99.6" width=".9" height=".9" fill-opacity=".6"/><rect x="283.1" y="99.9" width=".9" height=".9" fill-opacity=".3"/><rect x="305.5" y="97.9" width=".9" height=".9" fill-opacity=".5"/><rect x="298.8" y="103.0" width=".9" height=".9" fill-opacity=".4"/><rect x="289.5" y="102.6" width=".9" height=".9" fill-opacity=".5"/><rect x="322.4" y="97.8" width=".9" height=".9" fill-opacity=".5"/><rect x="301.8" y="99.4" width=".9" height=".9" fill-opacity=".6"/><rect x="318.5" y="101.3" width=".9" height=".9" fill-opacity=".7"/><rect x="310.8" y="97.2" width=".9" height=".9" fill-opacity=".7"/><rect x="299.8" y="100.0" width=".9" height=".9" fill-opacity=".4"/><rect x="278.7" y="105.8" width=".9" height=".9" fill-opacity=".6"/><rect x="310.8" y="93.0" width=".9" height=".9" fill-opacity=".4"/><rect x="308.9" y="99.5" width=".9" height=".9" fill-opacity=".6"/><rect x="305.4" y="101.5" width=".9" height=".9" fill-opacity=".4"/><rect x="282.0" y="99.2" width=".9" height=".9" fill-opacity=".7"/><rect x="317.9" y="97.7" width=".9" height=".9" fill-opacity=".7"/><rect x="287.7" y="94.6" width=".9" height=".9" fill-opacity=".7"/><rect x="285.3" y="101.3" width=".9" height=".9" fill-opacity=".3"/><rect x="320.3" y="101.7" width=".9" height=".9" fill-opacity=".5"/><rect x="302.9" y="108.9" width=".9" height=".9" fill-opacity=".7"/><rect x="293.8" y="97.3" width=".9" height=".9" fill-opacity=".5"/><rect x="306.3" y="102.2" width=".9" height=".9" fill-opacity=".7"/><rect x="287.8" y="95.3" width=".9" height=".9" fill-opacity=".4"/><rect x="303.5" y="101.0" width=".9" height=".9" fill-opacity=".6"/><rect x="284.3" y="99.2" width=".9" height=".9" fill-opacity=".7"/><rect x="293.5" y="101.8" width=".9" height=".9" fill-opacity=".5"/><rect x="298.6" y="99.7" width=".9" height=".9" fill-opacity=".4"/><rect x="295.8" y="104.2" width=".9" height=".9" fill-opacity=".6"/><rect x="316.7" y="98.5" width=".9" height=".9" fill-opacity=".6"/><rect x="310.2" y="97.0" width=".9" height=".9" fill-opacity=".5"/><rect x="300.9" y="103.0" width=".9" height=".9" fill-opacity=".7"/><rect x="318.2" y="98.5" width=".9" height=".9" fill-opacity=".4"/><rect x="299.1" y="100.8" width=".9" height=".9" fill-opacity=".4"/><rect x="282.0" y="100.1" width=".9" height=".9" fill-opacity=".5"/><rect x="291.9" y="101.5" width=".9" height=".9" fill-opacity=".6"/><rect x="286.4" y="92.1" width=".9" height=".9" fill-opacity=".4"/><rect x="300.5" y="101.0" width=".9" height=".9" fill-opacity=".7"/><rect x="293.4" y="103.6" width=".9" height=".9" fill-opacity=".4"/><rect x="296.7" y="97.6" width=".9" height=".9" fill-opacity=".5"/><rect x="305.7" y="93.7" width=".9" height=".9" fill-opacity=".5"/><rect x="291.9" y="99.9" width=".9" height=".9" fill-opacity=".7"/><rect x="310.2" y="99.3" width=".9" height=".9" fill-opacity=".4"/><rect x="303.7" y="97.4" width=".9" height=".9" fill-opacity=".4"/><rect x="303.6" y="106.7" width=".9" height=".9" fill-opacity=".4"/><rect x="291.8" y="109.5" width=".9" height=".9" fill-opacity=".5"/><rect x="292.3" y="100.1" width=".9" height=".9" fill-opacity=".7"/><rect x="302.1" y="104.1" width=".9" height=".9" fill-opacity=".7"/><rect x="285.2" y="91.6" width=".9" height=".9" fill-opacity=".5"/><rect x="307.3" y="103.2" width=".9" height=".9" fill-opacity=".4"/><rect x="307.5" y="110.5" width=".9" height=".9" fill-opacity=".4"/><rect x="302.5" y="101.0" width=".9" height=".9" fill-opacity=".5"/><rect x="311.2" y="101.5" width=".9" height=".9" fill-opacity=".4"/><rect x="320.0" y="95.0" width=".9" height=".9" fill-opacity=".5"/><rect x="295.5" y="86.2" width=".9" height=".9" fill-opacity=".3"/><rect x="309.7" y="98.5" width=".9" height=".9" fill-opacity=".4"/><rect x="311.1" y="108.6" width=".9" height=".9" fill-opacity=".3"/><rect x="299.9" y="99.0" width=".9" height=".9" fill-opacity=".4"/><rect x="294.0" y="96.6" width=".9" height=".9" fill-opacity=".6"/><rect x="292.4" y="102.6" width=".9" height=".9" fill-opacity=".4"/><rect x="300.4" y="100.3" width=".9" height=".9" fill-opacity=".4"/><rect x="297.9" y="103.7" width=".9" height=".9" fill-opacity=".5"/><rect x="305.9" y="99.4" width=".9" height=".9" fill-opacity=".5"/><rect x="308.0" y="99.4" width=".9" height=".9" fill-opacity=".6"/><rect x="286.2" y="105.8" width=".9" height=".9" fill-opacity=".5"/><rect x="305.6" y="96.2" width=".9" height=".9" fill-opacity=".4"/><rect x="312.9" y="101.4" width=".9" height=".9" fill-opacity=".3"/><rect x="281.2" y="106.4" width=".9" height=".9" fill-opacity=".3"/><rect x="304.0" y="103.6" width=".9" height=".9" fill-opacity=".5"/><rect x="302.4" y="99.4" width=".9" height=".9" fill-opacity=".4"/><rect x="281.4" y="103.9" width=".9" height=".9" fill-opacity=".6"/><rect x="300.4" y="98.9" width=".9" height=".9" fill-opacity=".6"/><rect x="304.2" y="100.3" width=".9" height=".9" fill-opacity=".3"/><rect x="308.1" y="98.5" width=".9" height=".9" fill-opacity=".3"/><rect x="299.6" y="91.4" width=".9" height=".9" fill-opacity=".6"/><rect x="294.9" y="102.7" width=".9" height=".9" fill-opacity=".6"/><rect x="316.0" y="98.5" width=".9" height=".9" fill-opacity=".4"/><rect x="298.5" y="106.3" width=".9" height=".9" fill-opacity=".7"/><rect x="296.1" y="102.9" width=".9" height=".9" fill-opacity=".5"/><rect x="320.1" y="100.2" width=".9" height=".9" fill-opacity=".6"/><rect x="314.7" y="97.2" width=".9" height=".9" fill-opacity=".3"/><rect x="302.5" y="99.7" width=".9" height=".9" fill-opacity=".4"/><rect x="301.4" y="104.5" width=".9" height=".9" fill-opacity=".5"/><rect x="328.7" y="97.3" width=".9" height=".9" fill-opacity=".7"/><rect x="293.1" y="102.0" width=".9" height=".9" fill-opacity=".6"/><rect x="287.3" y="102.0" width=".9" height=".9" fill-opacity=".3"/><rect x="306.9" y="98.9" width=".9" height=".9" fill-opacity=".4"/><rect x="306.4" y="93.8" width=".9" height=".9" fill-opacity=".6"/><rect x="309.1" y="93.8" width=".9" height=".9" fill-opacity=".7"/><rect x="291.6" y="97.8" width=".9" height=".9" fill-opacity=".7"/><rect x="295.2" y="103.4" width=".9" height=".9" fill-opacity=".6"/><rect x="301.0" y="98.4" width=".9" height=".9" fill-opacity=".4"/><rect x="306.5" y="106.3" width=".9" height=".9" fill-opacity=".7"/><rect x="300.1" y="101.5" width=".9" height=".9" fill-opacity=".4"/><rect x="314.9" y="101.1" width=".9" height=".9" fill-opacity=".4"/><rect x="284.6" y="110.0" width=".9" height=".9" fill-opacity=".3"/><rect x="326.5" y="92.1" width=".9" height=".9" fill-opacity=".6"/><rect x="299.5" y="101.7" width=".9" height=".9" fill-opacity=".6"/><rect x="311.6" y="102.7" width=".9" height=".9" fill-opacity=".5"/><rect x="296.7" y="95.8" width=".9" height=".9" fill-opacity=".5"/><rect x="336.9" y="90.3" width=".9" height=".9" fill-opacity=".3"/><rect x="326.2" y="73.8" width=".9" height=".9" fill-opacity=".6"/><rect x="335.8" y="66.5" width=".9" height=".9" fill-opacity=".4"/><rect x="333.7" y="78.5" width=".9" height=".9" fill-opacity=".6"/><rect x="340.1" y="76.4" width=".9" height=".9" fill-opacity=".4"/><rect x="328.1" y="78.8" width=".9" height=".9" fill-opacity=".5"/><rect x="335.6" y="76.7" width=".9" height=".9" fill-opacity=".6"/><rect x="336.1" y="88.0" width=".9" height=".9" fill-opacity=".6"/><rect x="346.7" y="95.6" width=".9" height=".9" fill-opacity=".6"/><rect x="328.9" y="78.6" width=".9" height=".9" fill-opacity=".3"/><rect x="313.7" y="97.2" width=".9" height=".9" fill-opacity=".7"/><rect x="329.5" y="81.7" width=".9" height=".9" fill-opacity=".6"/><rect x="340.7" y="71.1" width=".9" height=".9" fill-opacity=".7"/><rect x="340.2" y="81.8" width=".9" height=".9" fill-opacity=".4"/><rect x="319.6" y="84.3" width=".9" height=".9" fill-opacity=".5"/><rect x="346.8" y="67.1" width=".9" height=".9" fill-opacity=".3"/><rect x="343.3" y="83.7" width=".9" height=".9" fill-opacity=".6"/><rect x="340.3" y="85.5" width=".9" height=".9" fill-opacity=".6"/><rect x="347.7" y="80.2" width=".9" height=".9" fill-opacity=".3"/><rect x="343.9" y="78.7" width=".9" height=".9" fill-opacity=".3"/><rect x="342.6" y="75.5" width=".9" height=".9" fill-opacity=".5"/><rect x="335.0" y="95.8" width=".9" height=".9" fill-opacity=".7"/><rect x="340.0" y="80.7" width=".9" height=".9" fill-opacity=".4"/><rect x="325.7" y="75.7" width=".9" height=".9" fill-opacity=".4"/><rect x="337.7" y="89.5" width=".9" height=".9" fill-opacity=".4"/><rect x="339.8" y="86.2" width=".9" height=".9" fill-opacity=".7"/><rect x="335.6" y="92.8" width=".9" height=".9" fill-opacity=".5"/><rect x="332.5" y="77.6" width=".9" height=".9" fill-opacity=".3"/><rect x="344.0" y="82.5" width=".9" height=".9" fill-opacity=".7"/><rect x="333.5" y="77.4" width=".9" height=".9" fill-opacity=".6"/><rect x="333.7" y="87.0" width=".9" height=".9" fill-opacity=".7"/><rect x="339.2" y="72.3" width=".9" height=".9" fill-opacity=".4"/><rect x="339.8" y="83.4" width=".9" height=".9" fill-opacity=".6"/><rect x="327.0" y="88.2" width=".9" height=".9" fill-opacity=".7"/><rect x="333.5" y="79.3" width=".9" height=".9" fill-opacity=".3"/><rect x="343.2" y="92.6" width=".9" height=".9" fill-opacity=".5"/><rect x="329.8" y="85.5" width=".9" height=".9" fill-opacity=".7"/><rect x="328.1" y="100.5" width=".9" height=".9" fill-opacity=".5"/><rect x="331.6" y="91.6" width=".9" height=".9" fill-opacity=".6"/><rect x="330.2" y="88.5" width=".9" height=".9" fill-opacity=".6"/><rect x="356.0" y="61.7" width=".9" height=".9" fill-opacity=".4"/><rect x="332.1" y="86.0" width=".9" height=".9" fill-opacity=".4"/><rect x="335.2" y="76.7" width=".9" height=".9" fill-opacity=".6"/><rect x="355.4" y="82.6" width=".9" height=".9" fill-opacity=".7"/><rect x="321.2" y="88.8" width=".9" height=".9" fill-opacity=".3"/><rect x="320.5" y="91.2" width=".9" height=".9" fill-opacity=".7"/><rect x="330.8" y="83.2" width=".9" height=".9" fill-opacity=".5"/><rect x="347.3" y="82.9" width=".9" height=".9" fill-opacity=".3"/><rect x="323.5" y="68.4" width=".9" height=".9" fill-opacity=".5"/><rect x="346.6" y="87.9" width=".9" height=".9" fill-opacity=".5"/><rect x="309.6" y="99.5" width=".9" height=".9" fill-opacity=".6"/><rect x="342.4" y="94.2" width=".9" height=".9" fill-opacity=".6"/><rect x="352.5" y="96.3" width=".9" height=".9" fill-opacity=".3"/><rect x="334.2" y="90.3" width=".9" height=".9" fill-opacity=".3"/><rect x="321.8" y="78.9" width=".9" height=".9" fill-opacity=".3"/><rect x="352.2" y="66.9" width=".9" height=".9" fill-opacity=".6"/><rect x="358.7" y="58.3" width=".9" height=".9" fill-opacity=".6"/><rect x="336.7" y="64.8" width=".9" height=".9" fill-opacity=".5"/><rect x="334.0" y="60.7" width=".9" height=".9" fill-opacity=".7"/><rect x="290.1" y="105.3" width=".9" height=".9" fill-opacity=".5"/><rect x="337.6" y="64.0" width=".9" height=".9" fill-opacity=".3"/><rect x="335.0" y="102.8" width=".9" height=".9" fill-opacity=".4"/><rect x="305.6" y="75.2" width=".9" height=".9" fill-opacity=".5"/><rect x="343.5" y="91.2" width=".9" height=".9" fill-opacity=".6"/><rect x="361.1" y="86.2" width=".9" height=".9" fill-opacity=".7"/><rect x="330.3" y="71.0" width=".9" height=".9" fill-opacity=".4"/><rect x="336.6" y="67.4" width=".9" height=".9" fill-opacity=".6"/><rect x="304.4" y="59.5" width=".9" height=".9" fill-opacity=".6"/><rect x="315.1" y="62.7" width=".9" height=".9" fill-opacity=".4"/><rect x="301.0" y="93.9" width=".9" height=".9" fill-opacity=".4"/><rect x="297.3" y="94.5" width=".9" height=".9" fill-opacity=".4"/><rect x="304.6" y="86.8" width=".9" height=".9" fill-opacity=".3"/><rect x="364.4" y="83.1" width=".9" height=".9" fill-opacity=".4"/><rect x="311.7" y="79.2" width=".9" height=".9" fill-opacity=".6"/><rect x="333.7" y="34.7" width=".9" height=".9" fill-opacity=".7"/><rect x="314.8" y="82.1" width=".9" height=".9" fill-opacity=".4"/><rect x="318.3" y="80.0" width=".9" height=".9" fill-opacity=".4"/><rect x="348.3" y="97.2" width=".9" height=".9" fill-opacity=".5"/><rect x="352.6" y="92.7" width=".9" height=".9" fill-opacity=".6"/><rect x="322.8" y="77.5" width=".9" height=".9" fill-opacity=".6"/><rect x="323.2" y="70.2" width=".9" height=".9" fill-opacity=".5"/><rect x="325.5" y="34.9" width=".9" height=".9" fill-opacity=".7"/><rect x="321.7" y="77.4" width=".9" height=".9" fill-opacity=".4"/><rect x="305.7" y="77.4" width=".9" height=".9" fill-opacity=".6"/><rect x="342.9" y="73.9" width=".9" height=".9" fill-opacity=".5"/><rect x="324.8" y="32.4" width=".9" height=".9" fill-opacity=".4"/><rect x="343.0" y="70.4" width=".9" height=".9" fill-opacity=".5"/><rect x="351.3" y="87.3" width=".9" height=".9" fill-opacity=".6"/><rect x="330.6" y="63.3" width=".9" height=".9" fill-opacity=".5"/><rect x="346.0" y="65.9" width=".9" height=".9" fill-opacity=".6"/><rect x="335.6" y="65.2" width=".9" height=".9" fill-opacity=".4"/><rect x="335.1" y="96.9" width=".9" height=".9" fill-opacity=".6"/><rect x="308.1" y="77.2" width=".9" height=".9" fill-opacity=".3"/><rect x="345.4" y="81.6" width=".9" height=".9" fill-opacity=".5"/><rect x="351.4" y="116.2" width=".9" height=".9" fill-opacity=".5"/><rect x="353.1" y="98.3" width=".9" height=".9" fill-opacity=".4"/><rect x="314.5" y="60.2" width=".9" height=".9" fill-opacity=".5"/><rect x="352.2" y="55.2" width=".9" height=".9" fill-opacity=".5"/><rect x="284.7" y="53.1" width=".9" height=".9" fill-opacity=".6"/><rect x="312.8" y="59.8" width=".9" height=".9" fill-opacity=".6"/></g>
<path d="M331.5,70 C331.5,80 331.2,88 330,95 L343,95 C342.3,88 342,80 342,70 Z" fill="#b0b0b0" opacity="0.55" filter="url(#b1)"/>
<path d="M332.0,71 L331.2,95" fill="none" stroke="#555" stroke-width="0.45" stroke-dasharray="2.2 0.8"/>
<path d="M333.6,71 L332.8,95" fill="none" stroke="#555" stroke-width="0.45" stroke-dasharray="2.2 0.8"/>
<path d="M335.2,71 L334.4,95" fill="none" stroke="#555" stroke-width="0.45" stroke-dasharray="2.2 0.8"/>
<path d="M337.6,71 L338.1,95" fill="none" stroke="#555" stroke-width="0.45" stroke-dasharray="2.2 0.8"/>
<path d="M339.4,71 L339.9,95" fill="none" stroke="#555" stroke-width="0.45" stroke-dasharray="2.2 0.8"/>
<path d="M341.2,71 L341.7,95" fill="none" stroke="#555" stroke-width="0.45" stroke-dasharray="2.2 0.8"/>
<ellipse cx="335.60" cy="99.80" rx="9.20" ry="6.40" fill="#a8a8a8" stroke="none" stroke-width="0.5" filter="url(#b1)"/>
<ellipse cx="335.80" cy="99.80" rx="8.40" ry="5.80" fill="none" stroke="#555" stroke-width="0.45" />
<ellipse cx="335.80" cy="99.80" rx="6.60" ry="4.60" fill="none" stroke="#555" stroke-width="0.45" />
<ellipse cx="335.80" cy="99.80" rx="4.80" ry="3.40" fill="none" stroke="#555" stroke-width="0.45" />
<ellipse cx="335.80" cy="99.80" rx="3.50" ry="2.60" fill="#8a8a8a" stroke="none" stroke-width="0.5" filter="url(#b1)"/>
<ellipse cx="336.50" cy="99.60" rx="1.30" ry="1.20" fill="#f4f4f4" stroke="none" stroke-width="0.5" filter="url(#b1)"/>
<path d="M331.5,93.6 L310.3,100.9 L332.5,105.6" fill="none" stroke="#444" stroke-width="0.55"/>
<path d="M330,96.5 L321.7,100.6 L330.5,103.6" fill="none" stroke="#555" stroke-width="0.45"/>
<path d="M327.80,59.50 A8.30,8.30 0 0 1 344.40,59.50 C344.40,69.46 340.50,71.00 340.50,74.00 L331.70,74.00 C331.70,71.00 327.80,69.46 327.80,59.50 Z" fill="#1c1c1c" filter="url(#b1)"/>
<path d="M331.10,59.20 A5.20,5.20 0 0 1 341.50,59.20 C341.50,65.44 339.10,69.00 339.10,72.00 L333.50,72.00 C333.50,69.00 331.10,65.44 331.10,59.20 Z" fill="#3a3a3a" filter="url(#b1)"/>
<path d="M333.00,59.40 A3.40,3.40 0 0 1 339.80,59.40 C339.80,63.48 338.00,67.00 338.00,70.00 L334.80,70.00 C334.80,67.00 333.00,63.48 333.00,59.40 Z" fill="#7a7a7a" filter="url(#b1)"/>
<ellipse cx="336.40" cy="60.70" rx="1.00" ry="1.40" fill="#f2f2f2" stroke="none" stroke-width="0.5" filter="url(#b1)"/>
</svg>
<rect x="276.5" y="30.5" width="93.00" height="93.00" fill="none" stroke="#222" stroke-width="1"/>
<line x1="309.50" y1="30.50" x2="309.50" y2="123.50" stroke="#222" stroke-width="1" />
<line x1="276.50" y1="82.50" x2="369.50" y2="82.50" stroke="#222" stroke-width="1" />
<line x1="275.00" y1="32.50" x2="276.50" y2="32.50" stroke="#222" stroke-width="0.8" />
<line x1="275.00" y1="51.50" x2="276.50" y2="51.50" stroke="#222" stroke-width="0.8" />
<line x1="275.00" y1="83.50" x2="276.50" y2="83.50" stroke="#222" stroke-width="0.8" />
<line x1="275.00" y1="103.50" x2="276.50" y2="103.50" stroke="#222" stroke-width="0.8" />
<line x1="275.00" y1="107.00" x2="276.50" y2="107.00" stroke="#222" stroke-width="0.8" />
<line x1="275.00" y1="108.50" x2="276.50" y2="108.50" stroke="#222" stroke-width="0.8" />
<line x1="275.00" y1="109.50" x2="276.50" y2="109.50" stroke="#222" stroke-width="0.8" />
<line x1="279.50" y1="123.50" x2="279.50" y2="125.00" stroke="#222" stroke-width="0.8" />
<line x1="285.50" y1="123.50" x2="285.50" y2="125.00" stroke="#222" stroke-width="0.8" />
<line x1="288.50" y1="123.50" x2="288.50" y2="125.00" stroke="#222" stroke-width="0.8" />
<line x1="289.50" y1="123.50" x2="289.50" y2="125.00" stroke="#222" stroke-width="0.8" />
<line x1="290.50" y1="123.50" x2="290.50" y2="125.00" stroke="#222" stroke-width="0.8" />
<line x1="300.50" y1="123.50" x2="300.50" y2="125.00" stroke="#222" stroke-width="0.8" />
<line x1="309.50" y1="123.50" x2="309.50" y2="125.00" stroke="#222" stroke-width="0.8" />
<line x1="321.50" y1="123.50" x2="321.50" y2="125.00" stroke="#222" stroke-width="0.8" />
<line x1="328.50" y1="123.50" x2="328.50" y2="125.00" stroke="#222" stroke-width="0.8" />
<line x1="336.50" y1="123.50" x2="336.50" y2="125.00" stroke="#222" stroke-width="0.8" />
<line x1="346.50" y1="123.50" x2="346.50" y2="125.00" stroke="#222" stroke-width="0.8" />
<line x1="356.50" y1="123.50" x2="356.50" y2="125.00" stroke="#222" stroke-width="0.8" />
<line x1="364.50" y1="123.50" x2="364.50" y2="125.00" stroke="#222" stroke-width="0.8" />
<text x="279.50" y="42.96" font-size="7.6" fill="#222" stroke="#222" stroke-width="0.2" textLength="27.50" lengthAdjust="spacingAndGlyphs" >0.096%</text>
<text x="339.40" y="42.86" font-size="7.6" fill="#222" stroke="#222" stroke-width="0.2" textLength="22.60" lengthAdjust="spacingAndGlyphs" >69.6%</text>
<text x="279.50" y="120.06" font-size="7.6" fill="#222" stroke="#222" stroke-width="0.2" textLength="22.70" lengthAdjust="spacingAndGlyphs" >2.77%</text>
<text x="339.80" y="120.06" font-size="7.6" fill="#222" stroke="#222" stroke-width="0.2" textLength="22.20" lengthAdjust="spacingAndGlyphs" >27.5%</text>
<svg x="380.5" y="30.5" width="93.00" height="92.00" viewBox="380.5 30.5 93.00 92.00" overflow="hidden">
<path d="M432,54 Q443,44 454,54 L455,108 Q443,114 432,108 Z" fill="#b0b0b0" filter="url(#b3)" opacity="0.55"/>
<ellipse cx="418.00" cy="99.50" rx="27.00" ry="6.50" fill="#cfcfcf" stroke="none" stroke-width="0.5" filter="url(#b2)" opacity="0.6"/>
<g fill="#666"><rect x="431.2" y="71.7" width=".9" height=".9" fill-opacity=".3"/><rect x="438.9" y="51.8" width=".9" height=".9" fill-opacity=".3"/><rect x="461.7" y="51.1" width=".9" height=".9" fill-opacity=".4"/><rect x="461.6" y="72.2" width=".9" height=".9" fill-opacity=".5"/><rect x="458.5" y="49.3" width=".9" height=".9" fill-opacity=".5"/><rect x="456.0" y="83.4" width=".9" height=".9" fill-opacity=".4"/><rect x="442.8" y="61.2" width=".9" height=".9" fill-opacity=".6"/><rect x="468.6" y="65.5" width=".9" height=".9" fill-opacity=".3"/><rect x="439.8" y="54.2" width=".9" height=".9" fill-opacity=".7"/><rect x="448.5" y="67.6" width=".9" height=".9" fill-opacity=".6"/><rect x="445.8" y="87.1" width=".9" height=".9" fill-opacity=".3"/><rect x="440.7" y="69.6" width=".9" height=".9" fill-opacity=".3"/><rect x="458.6" y="48.9" width=".9" height=".9" fill-opacity=".6"/><rect x="454.4" y="88.6" width=".9" height=".9" fill-opacity=".3"/><rect x="430.5" y="47.6" width=".9" height=".9" fill-opacity=".3"/><rect x="433.6" y="37.2" width=".9" height=".9" fill-opacity=".5"/><rect x="448.5" y="37.0" width=".9" height=".9" fill-opacity=".4"/><rect x="449.0" y="83.3" width=".9" height=".9" fill-opacity=".4"/><rect x="427.8" y="58.6" width=".9" height=".9" fill-opacity=".7"/><rect x="424.8" y="73.9" width=".9" height=".9" fill-opacity=".5"/><rect x="436.6" y="59.3" width=".9" height=".9" fill-opacity=".6"/><rect x="444.5" y="70.6" width=".9" height=".9" fill-opacity=".4"/><rect x="440.5" y="63.2" width=".9" height=".9" fill-opacity=".7"/><rect x="438.5" y="64.6" width=".9" height=".9" fill-opacity=".5"/><rect x="432.3" y="63.9" width=".9" height=".9" fill-opacity=".7"/><rect x="424.7" y="56.1" width=".9" height=".9" fill-opacity=".5"/><rect x="463.2" y="64.1" width=".9" height=".9" fill-opacity=".6"/><rect x="431.4" y="66.6" width=".9" height=".9" fill-opacity=".3"/><rect x="434.3" y="39.9" width=".9" height=".9" fill-opacity=".3"/><rect x="436.6" y="73.3" width=".9" height=".9" fill-opacity=".5"/><rect x="447.8" y="61.6" width=".9" height=".9" fill-opacity=".4"/><rect x="434.7" y="47.9" width=".9" height=".9" fill-opacity=".6"/><rect x="457.5" y="66.4" width=".9" height=".9" fill-opacity=".7"/><rect x="434.5" y="33.4" width=".9" height=".9" fill-opacity=".6"/><rect x="430.3" y="97.7" width=".9" height=".9" fill-opacity=".3"/><rect x="432.5" y="61.9" width=".9" height=".9" fill-opacity=".3"/><rect x="446.1" y="60.8" width=".9" height=".9" fill-opacity=".3"/><rect x="441.2" y="43.8" width=".9" height=".9" fill-opacity=".4"/><rect x="433.5" y="86.6" width=".9" height=".9" fill-opacity=".7"/><rect x="436.4" y="74.8" width=".9" height=".9" fill-opacity=".7"/><rect x="427.1" y="59.2" width=".9" height=".9" fill-opacity=".6"/><rect x="446.6" y="77.5" width=".9" height=".9" fill-opacity=".6"/><rect x="432.8" y="71.3" width=".9" height=".9" fill-opacity=".4"/><rect x="447.9" y="52.7" width=".9" height=".9" fill-opacity=".6"/><rect x="448.8" y="50.4" width=".9" height=".9" fill-opacity=".6"/><rect x="436.0" y="62.7" width=".9" height=".9" fill-opacity=".4"/><rect x="416.9" y="61.5" width=".9" height=".9" fill-opacity=".7"/><rect x="434.0" y="42.5" width=".9" height=".9" fill-opacity=".7"/><rect x="439.7" y="73.7" width=".9" height=".9" fill-opacity=".3"/><rect x="440.0" y="80.7" width=".9" height=".9" fill-opacity=".5"/><rect x="432.4" y="44.6" width=".9" height=".9" fill-opacity=".5"/><rect x="459.5" y="68.6" width=".9" height=".9" fill-opacity=".7"/><rect x="453.5" y="51.4" width=".9" height=".9" fill-opacity=".4"/><rect x="452.0" y="66.6" width=".9" height=".9" fill-opacity=".5"/><rect x="450.5" y="63.4" width=".9" height=".9" fill-opacity=".4"/><rect x="456.1" y="53.9" width=".9" height=".9" fill-opacity=".7"/><rect x="434.4" y="42.3" width=".9" height=".9" fill-opacity=".7"/><rect x="455.6" y="52.7" width=".9" height=".9" fill-opacity=".3"/><rect x="433.6" y="49.8" width=".9" height=".9" fill-opacity=".4"/><rect x="439.5" y="45.2" width=".9" height=".9" fill-opacity=".4"/><rect x="441.1" y="54.2" width=".9" height=".9" fill-opacity=".5"/><rect x="438.5" y="49.6" width=".9" height=".9" fill-opacity=".6"/><rect x="444.4" y="56.5" width=".9" height=".9" fill-opacity=".5"/><rect x="445.1" y="66.5" width=".9" height=".9" fill-opacity=".7"/><rect x="447.4" y="32.3" width=".9" height=".9" fill-opacity=".6"/><rect x="438.6" y="51.9" width=".9" height=".9" fill-opacity=".6"/><rect x="451.7" y="40.9" width=".9" height=".9" fill-opacity=".5"/><rect x="436.9" y="58.9" width=".9" height=".9" fill-opacity=".5"/><rect x="440.6" y="76.9" width=".9" height=".9" fill-opacity=".3"/><rect x="439.6" y="76.5" width=".9" height=".9" fill-opacity=".5"/><rect x="429.3" y="37.6" width=".9" height=".9" fill-opacity=".7"/><rect x="456.2" y="69.1" width=".9" height=".9" fill-opacity=".6"/><rect x="448.9" y="64.7" width=".9" height=".9" fill-opacity=".5"/><rect x="448.8" y="46.0" width=".9" height=".9" fill-opacity=".4"/><rect x="453.5" y="55.5" width=".9" height=".9" fill-opacity=".3"/><rect x="453.9" y="64.2" width=".9" height=".9" fill-opacity=".4"/><rect x="424.3" y="45.0" width=".9" height=".9" fill-opacity=".6"/><rect x="455.3" y="61.1" width=".9" height=".9" fill-opacity=".7"/><rect x="440.0" y="66.4" width=".9" height=".9" fill-opacity=".3"/><rect x="439.7" y="55.4" width=".9" height=".9" fill-opacity=".4"/><rect x="445.0" y="65.0" width=".9" height=".9" fill-opacity=".4"/><rect x="459.2" y="63.6" width=".9" height=".9" fill-opacity=".5"/><rect x="462.8" y="88.2" width=".9" height=".9" fill-opacity=".6"/><rect x="461.2" y="77.9" width=".9" height=".9" fill-opacity=".5"/><rect x="445.3" y="64.9" width=".9" height=".9" fill-opacity=".3"/><rect x="442.6" y="52.8" width=".9" height=".9" fill-opacity=".7"/><rect x="443.3" y="54.0" width=".9" height=".9" fill-opacity=".5"/><rect x="460.4" y="70.5" width=".9" height=".9" fill-opacity=".5"/><rect x="439.5" y="36.2" width=".9" height=".9" fill-opacity=".7"/><rect x="443.5" y="57.2" width=".9" height=".9" fill-opacity=".7"/><rect x="433.1" y="47.1" width=".9" height=".9" fill-opacity=".7"/><rect x="421.5" y="71.0" width=".9" height=".9" fill-opacity=".7"/><rect x="443.3" y="99.1" width=".9" height=".9" fill-opacity=".4"/><rect x="443.7" y="60.9" width=".9" height=".9" fill-opacity=".3"/><rect x="458.4" y="64.9" width=".9" height=".9" fill-opacity=".7"/><rect x="445.7" y="57.8" width=".9" height=".9" fill-opacity=".3"/><rect x="437.9" y="84.0" width=".9" height=".9" fill-opacity=".4"/><rect x="454.0" y="87.0" width=".9" height=".9" fill-opacity=".6"/><rect x="440.5" y="63.4" width=".9" height=".9" fill-opacity=".7"/><rect x="435.2" y="76.5" width=".9" height=".9" fill-opacity=".3"/><rect x="430.1" y="70.9" width=".9" height=".9" fill-opacity=".5"/><rect x="455.0" y="82.8" width=".9" height=".9" fill-opacity=".5"/><rect x="434.6" y="78.3" width=".9" height=".9" fill-opacity=".4"/><rect x="436.9" y="52.4" width=".9" height=".9" fill-opacity=".4"/><rect x="430.8" y="79.2" width=".9" height=".9" fill-opacity=".3"/><rect x="460.5" y="54.7" width=".9" height=".9" fill-opacity=".5"/><rect x="436.4" y="58.3" width=".9" height=".9" fill-opacity=".5"/><rect x="469.1" y="77.1" width=".9" height=".9" fill-opacity=".5"/><rect x="438.6" y="37.9" width=".9" height=".9" fill-opacity=".7"/><rect x="437.3" y="79.6" width=".9" height=".9" fill-opacity=".4"/><rect x="462.7" y="59.3" width=".9" height=".9" fill-opacity=".5"/><rect x="437.1" y="55.9" width=".9" height=".9" fill-opacity=".7"/><rect x="425.1" y="75.7" width=".9" height=".9" fill-opacity=".6"/><rect x="433.1" y="77.9" width=".9" height=".9" fill-opacity=".5"/><rect x="426.9" y="45.2" width=".9" height=".9" fill-opacity=".3"/><rect x="446.9" y="52.3" width=".9" height=".9" fill-opacity=".5"/><rect x="451.8" y="63.1" width=".9" height=".9" fill-opacity=".5"/><rect x="432.3" y="71.7" width=".9" height=".9" fill-opacity=".6"/><rect x="452.4" y="36.2" width=".9" height=".9" fill-opacity=".7"/><rect x="462.3" y="70.0" width=".9" height=".9" fill-opacity=".5"/><rect x="451.6" y="37.0" width=".9" height=".9" fill-opacity=".4"/><rect x="436.8" y="58.1" width=".9" height=".9" fill-opacity=".4"/><rect x="454.8" y="42.6" width=".9" height=".9" fill-opacity=".5"/><rect x="435.2" y="34.6" width=".9" height=".9" fill-opacity=".4"/><rect x="441.6" y="67.8" width=".9" height=".9" fill-opacity=".4"/><rect x="427.1" y="54.7" width=".9" height=".9" fill-opacity=".4"/><rect x="449.1" y="85.2" width=".9" height=".9" fill-opacity=".3"/><rect x="450.6" y="58.7" width=".9" height=".9" fill-opacity=".6"/><rect x="432.2" y="49.9" width=".9" height=".9" fill-opacity=".6"/><rect x="437.4" y="65.1" width=".9" height=".9" fill-opacity=".6"/><rect x="442.5" y="112.3" width=".9" height=".9" fill-opacity=".6"/><rect x="446.2" y="90.4" width=".9" height=".9" fill-opacity=".7"/><rect x="460.0" y="106.6" width=".9" height=".9" fill-opacity=".5"/><rect x="444.1" y="93.2" width=".9" height=".9" fill-opacity=".4"/><rect x="422.4" y="90.8" width=".9" height=".9" fill-opacity=".7"/><rect x="453.0" y="92.6" width=".9" height=".9" fill-opacity=".3"/><rect x="428.5" y="100.6" width=".9" height=".9" fill-opacity=".4"/><rect x="445.7" y="103.9" width=".9" height=".9" fill-opacity=".5"/><rect x="450.2" y="110.3" width=".9" height=".9" fill-opacity=".5"/><rect x="433.8" y="106.8" width=".9" height=".9" fill-opacity=".5"/><rect x="432.1" y="104.6" width=".9" height=".9" fill-opacity=".7"/><rect x="445.0" y="100.9" width=".9" height=".9" fill-opacity=".7"/><rect x="453.6" y="98.9" width=".9" height=".9" fill-opacity=".5"/><rect x="455.2" y="106.0" width=".9" height=".9" fill-opacity=".3"/><rect x="444.5" y="94.5" width=".9" height=".9" fill-opacity=".4"/><rect x="434.7" y="94.8" width=".9" height=".9" fill-opacity=".7"/><rect x="440.8" y="98.8" width=".9" height=".9" fill-opacity=".3"/><rect x="451.5" y="92.1" width=".9" height=".9" fill-opacity=".7"/><rect x="435.2" y="96.4" width=".9" height=".9" fill-opacity=".4"/><rect x="445.1" y="90.7" width=".9" height=".9" fill-opacity=".5"/><rect x="460.7" y="94.5" width=".9" height=".9" fill-opacity=".7"/><rect x="454.9" y="80.3" width=".9" height=".9" fill-opacity=".5"/><rect x="442.9" y="101.2" width=".9" height=".9" fill-opacity=".6"/><rect x="445.1" y="103.8" width=".9" height=".9" fill-opacity=".5"/><rect x="446.1" y="100.3" width=".9" height=".9" fill-opacity=".6"/><rect x="422.2" y="93.3" width=".9" height=".9" fill-opacity=".3"/><rect x="417.2" y="104.0" width=".9" height=".9" fill-opacity=".6"/><rect x="446.4" y="97.4" width=".9" height=".9" fill-opacity=".5"/><rect x="434.0" y="94.3" width=".9" height=".9" fill-opacity=".4"/><rect x="463.3" y="112.8" width=".9" height=".9" fill-opacity=".5"/><rect x="442.4" y="109.3" width=".9" height=".9" fill-opacity=".5"/><rect x="425.5" y="83.5" width=".9" height=".9" fill-opacity=".7"/><rect x="437.7" y="92.0" width=".9" height=".9" fill-opacity=".3"/><rect x="436.8" y="100.5" width=".9" height=".9" fill-opacity=".4"/><rect x="443.5" y="101.2" width=".9" height=".9" fill-opacity=".5"/><rect x="442.6" y="106.4" width=".9" height=".9" fill-opacity=".4"/><rect x="462.5" y="89.1" width=".9" height=".9" fill-opacity=".3"/><rect x="444.8" y="96.9" width=".9" height=".9" fill-opacity=".4"/><rect x="446.9" y="86.7" width=".9" height=".9" fill-opacity=".3"/><rect x="423.7" y="80.5" width=".9" height=".9" fill-opacity=".6"/><rect x="448.8" y="100.5" width=".9" height=".9" fill-opacity=".6"/><rect x="443.8" y="80.1" width=".9" height=".9" fill-opacity=".4"/><rect x="438.9" y="93.0" width=".9" height=".9" fill-opacity=".7"/><rect x="427.4" y="91.7" width=".9" height=".9" fill-opacity=".5"/><rect x="450.7" y="103.4" width=".9" height=".9" fill-opacity=".7"/><rect x="442.8" y="103.1" width=".9" height=".9" fill-opacity=".3"/><rect x="436.4" y="99.6" width=".9" height=".9" fill-opacity=".4"/><rect x="443.4" y="103.4" width=".9" height=".9" fill-opacity=".4"/><rect x="442.2" y="97.9" width=".9" height=".9" fill-opacity=".3"/><rect x="441.5" y="93.8" width=".9" height=".9" fill-opacity=".4"/><rect x="467.6" y="103.1" width=".9" height=".9" fill-opacity=".7"/><rect x="447.7" y="117.3" width=".9" height=".9" fill-opacity=".3"/><rect x="458.4" y="86.5" width=".9" height=".9" fill-opacity=".3"/><rect x="450.6" y="105.7" width=".9" height=".9" fill-opacity=".3"/><rect x="463.7" y="109.5" width=".9" height=".9" fill-opacity=".7"/><rect x="451.5" y="89.6" width=".9" height=".9" fill-opacity=".5"/><rect x="433.4" y="101.2" width=".9" height=".9" fill-opacity=".4"/><rect x="448.6" y="90.8" width=".9" height=".9" fill-opacity=".3"/><rect x="438.8" y="95.8" width=".9" height=".9" fill-opacity=".4"/><rect x="443.7" y="101.7" width=".9" height=".9" fill-opacity=".5"/><rect x="439.8" y="89.1" width=".9" height=".9" fill-opacity=".7"/><rect x="456.7" y="111.8" width=".9" height=".9" fill-opacity=".3"/><rect x="441.8" y="107.2" width=".9" height=".9" fill-opacity=".5"/><rect x="447.9" y="104.3" width=".9" height=".9" fill-opacity=".3"/><rect x="448.3" y="92.9" width=".9" height=".9" fill-opacity=".4"/><rect x="449.3" y="107.1" width=".9" height=".9" fill-opacity=".5"/><rect x="433.1" y="114.7" width=".9" height=".9" fill-opacity=".5"/><rect x="466.0" y="113.6" width=".9" height=".9" fill-opacity=".3"/><rect x="464.9" y="104.9" width=".9" height=".9" fill-opacity=".6"/><rect x="439.3" y="94.2" width=".9" height=".9" fill-opacity=".6"/><rect x="434.1" y="99.9" width=".9" height=".9" fill-opacity=".7"/><rect x="442.6" y="104.4" width=".9" height=".9" fill-opacity=".5"/><rect x="420.8" y="117.5" width=".9" height=".9" fill-opacity=".4"/><rect x="468.0" y="98.8" width=".9" height=".9" fill-opacity=".3"/><rect x="450.4" y="102.8" width=".9" height=".9" fill-opacity=".6"/><rect x="446.0" y="97.3" width=".9" height=".9" fill-opacity=".3"/><rect x="441.6" y="92.4" width=".9" height=".9" fill-opacity=".3"/><rect x="445.0" y="98.8" width=".9" height=".9" fill-opacity=".7"/><rect x="446.5" y="92.2" width=".9" height=".9" fill-opacity=".5"/><rect x="443.4" y="99.4" width=".9" height=".9" fill-opacity=".6"/><rect x="449.6" y="90.5" width=".9" height=".9" fill-opacity=".7"/><rect x="447.6" y="106.9" width=".9" height=".9" fill-opacity=".6"/><rect x="449.6" y="96.1" width=".9" height=".9" fill-opacity=".5"/><rect x="437.6" y="97.1" width=".9" height=".9" fill-opacity=".6"/><rect x="451.0" y="111.4" width=".9" height=".9" fill-opacity=".3"/><rect x="441.3" y="93.9" width=".9" height=".9" fill-opacity=".3"/><rect x="447.1" y="100.6" width=".9" height=".9" fill-opacity=".5"/><rect x="433.0" y="93.1" width=".9" height=".9" fill-opacity=".7"/><rect x="441.9" y="104.4" width=".9" height=".9" fill-opacity=".5"/><rect x="429.9" y="90.9" width=".9" height=".9" fill-opacity=".3"/><rect x="448.5" y="89.2" width=".9" height=".9" fill-opacity=".6"/><rect x="444.2" y="101.8" width=".9" height=".9" fill-opacity=".7"/><rect x="441.8" y="90.9" width=".9" height=".9" fill-opacity=".5"/><rect x="442.3" y="96.3" width=".9" height=".9" fill-opacity=".4"/><rect x="446.7" y="92.3" width=".9" height=".9" fill-opacity=".3"/><rect x="455.0" y="85.6" width=".9" height=".9" fill-opacity=".3"/><rect x="441.1" y="99.1" width=".9" height=".9" fill-opacity=".4"/><rect x="453.6" y="94.1" width=".9" height=".9" fill-opacity=".4"/><rect x="449.0" y="94.5" width=".9" height=".9" fill-opacity=".4"/><rect x="451.1" y="112.9" width=".9" height=".9" fill-opacity=".7"/><rect x="438.6" y="102.5" width=".9" height=".9" fill-opacity=".3"/><rect x="432.8" y="106.8" width=".9" height=".9" fill-opacity=".5"/><rect x="456.3" y="99.3" width=".9" height=".9" fill-opacity=".5"/><rect x="430.5" y="102.2" width=".9" height=".9" fill-opacity=".6"/><rect x="455.6" y="107.7" width=".9" height=".9" fill-opacity=".5"/><rect x="451.9" y="84.4" width=".9" height=".9" fill-opacity=".7"/><rect x="435.5" y="110.4" width=".9" height=".9" fill-opacity=".7"/><rect x="429.5" y="108.1" width=".9" height=".9" fill-opacity=".7"/><rect x="463.7" y="105.1" width=".9" height=".9" fill-opacity=".4"/><rect x="455.3" y="96.3" width=".9" height=".9" fill-opacity=".7"/><rect x="429.5" y="98.2" width=".9" height=".9" fill-opacity=".7"/><rect x="440.8" y="98.6" width=".9" height=".9" fill-opacity=".5"/><rect x="450.7" y="97.8" width=".9" height=".9" fill-opacity=".4"/><rect x="445.1" y="102.4" width=".9" height=".9" fill-opacity=".7"/><rect x="442.9" y="113.7" width=".9" height=".9" fill-opacity=".5"/><rect x="447.9" y="99.7" width=".9" height=".9" fill-opacity=".6"/><rect x="440.7" y="94.0" width=".9" height=".9" fill-opacity=".3"/><rect x="457.8" y="100.2" width=".9" height=".9" fill-opacity=".5"/><rect x="431.1" y="94.5" width=".9" height=".9" fill-opacity=".7"/><rect x="441.5" y="95.4" width=".9" height=".9" fill-opacity=".6"/><rect x="454.9" y="89.7" width=".9" height=".9" fill-opacity=".7"/><rect x="448.4" y="100.1" width=".9" height=".9" fill-opacity=".5"/><rect x="430.0" y="99.4" width=".9" height=".9" fill-opacity=".5"/><rect x="442.0" y="103.0" width=".9" height=".9" fill-opacity=".7"/><rect x="438.0" y="101.4" width=".9" height=".9" fill-opacity=".7"/><rect x="424.7" y="90.3" width=".9" height=".9" fill-opacity=".5"/><rect x="451.6" y="107.3" width=".9" height=".9" fill-opacity=".4"/><rect x="442.9" y="94.2" width=".9" height=".9" fill-opacity=".5"/><rect x="454.9" y="82.3" width=".9" height=".9" fill-opacity=".3"/><rect x="434.2" y="104.4" width=".9" height=".9" fill-opacity=".7"/><rect x="450.2" y="90.7" width=".9" height=".9" fill-opacity=".6"/><rect x="422.2" y="110.6" width=".9" height=".9" fill-opacity=".3"/><rect x="444.7" y="91.8" width=".9" height=".9" fill-opacity=".5"/><rect x="443.6" y="106.2" width=".9" height=".9" fill-opacity=".4"/><rect x="414.5" y="107.9" width=".9" height=".9" fill-opacity=".4"/><rect x="451.1" y="82.4" width=".9" height=".9" fill-opacity=".6"/><rect x="451.5" y="84.8" width=".9" height=".9" fill-opacity=".3"/><rect x="455.5" y="102.2" width=".9" height=".9" fill-opacity=".3"/><rect x="467.8" y="94.1" width=".9" height=".9" fill-opacity=".7"/><rect x="443.1" y="107.4" width=".9" height=".9" fill-opacity=".4"/><rect x="436.0" y="93.4" width=".9" height=".9" fill-opacity=".3"/><rect x="438.9" y="98.4" width=".9" height=".9" fill-opacity=".3"/><rect x="431.1" y="102.9" width=".9" height=".9" fill-opacity=".7"/><rect x="449.0" y="99.6" width=".9" height=".9" fill-opacity=".7"/><rect x="461.7" y="96.4" width=".9" height=".9" fill-opacity=".4"/><rect x="457.4" y="94.6" width=".9" height=".9" fill-opacity=".7"/><rect x="451.3" y="83.5" width=".9" height=".9" fill-opacity=".4"/><rect x="445.2" y="97.6" width=".9" height=".9" fill-opacity=".5"/><rect x="437.6" y="94.1" width=".9" height=".9" fill-opacity=".7"/><rect x="439.2" y="93.2" width=".9" height=".9" fill-opacity=".5"/><rect x="418.9" y="94.2" width=".9" height=".9" fill-opacity=".4"/><rect x="437.0" y="94.8" width=".9" height=".9" fill-opacity=".4"/><rect x="431.4" y="97.9" width=".9" height=".9" fill-opacity=".4"/><rect x="451.6" y="97.0" width=".9" height=".9" fill-opacity=".7"/><rect x="437.6" y="109.9" width=".9" height=".9" fill-opacity=".3"/><rect x="453.7" y="106.4" width=".9" height=".9" fill-opacity=".5"/><rect x="455.7" y="96.4" width=".9" height=".9" fill-opacity=".4"/><rect x="441.6" y="107.9" width=".9" height=".9" fill-opacity=".6"/><rect x="436.9" y="98.0" width=".9" height=".9" fill-opacity=".6"/><rect x="447.2" y="102.0" width=".9" height=".9" fill-opacity=".4"/><rect x="440.0" y="106.9" width=".9" height=".9" fill-opacity=".5"/><rect x="441.0" y="104.8" width=".9" height=".9" fill-opacity=".6"/><rect x="454.8" y="104.3" width=".9" height=".9" fill-opacity=".6"/><rect x="451.1" y="89.7" width=".9" height=".9" fill-opacity=".4"/><rect x="428.6" y="94.1" width=".9" height=".9" fill-opacity=".5"/><rect x="448.2" y="111.0" width=".9" height=".9" fill-opacity=".3"/><rect x="429.6" y="101.5" width=".9" height=".9" fill-opacity=".3"/><rect x="433.6" y="93.1" width=".9" height=".9" fill-opacity=".3"/><rect x="440.0" y="104.5" width=".9" height=".9" fill-opacity=".3"/><rect x="445.3" y="108.4" width=".9" height=".9" fill-opacity=".6"/><rect x="394.3" y="103.4" width=".9" height=".9" fill-opacity=".5"/><rect x="428.7" y="99.3" width=".9" height=".9" fill-opacity=".3"/><rect x="420.6" y="96.2" width=".9" height=".9" fill-opacity=".4"/><rect x="392.4" y="97.0" width=".9" height=".9" fill-opacity=".7"/><rect x="400.4" y="113.5" width=".9" height=".9" fill-opacity=".6"/><rect x="403.3" y="107.3" width=".9" height=".9" fill-opacity=".6"/><rect x="415.6" y="100.6" width=".9" height=".9" fill-opacity=".6"/><rect x="425.4" y="95.1" width=".9" height=".9" fill-opacity=".4"/><rect x="428.5" y="100.9" width=".9" height=".9" fill-opacity=".3"/><rect x="384.7" y="102.0" width=".9" height=".9" fill-opacity=".5"/><rect x="421.9" y="101.3" width=".9" height=".9" fill-opacity=".3"/><rect x="440.5" y="96.9" width=".9" height=".9" fill-opacity=".5"/><rect x="421.2" y="102.7" width=".9" height=".9" fill-opacity=".6"/><rect x="395.8" y="105.0" width=".9" height=".9" fill-opacity=".4"/><rect x="385.9" y="92.5" width=".9" height=".9" fill-opacity=".4"/><rect x="421.4" y="93.6" width=".9" height=".9" fill-opacity=".5"/><rect x="409.9" y="90.8" width=".9" height=".9" fill-opacity=".4"/><rect x="413.2" y="93.3" width=".9" height=".9" fill-opacity=".5"/><rect x="418.2" y="91.3" width=".9" height=".9" fill-opacity=".6"/><rect x="420.1" y="97.7" width=".9" height=".9" fill-opacity=".5"/><rect x="413.2" y="98.7" width=".9" height=".9" fill-opacity=".5"/><rect x="414.4" y="92.4" width=".9" height=".9" fill-opacity=".6"/><rect x="395.2" y="96.7" width=".9" height=".9" fill-opacity=".4"/><rect x="419.7" y="89.1" width=".9" height=".9" fill-opacity=".7"/><rect x="398.3" y="95.9" width=".9" height=".9" fill-opacity=".4"/><rect x="393.0" y="100.6" width=".9" height=".9" fill-opacity=".6"/><rect x="409.5" y="94.9" width=".9" height=".9" fill-opacity=".5"/><rect x="394.3" y="103.0" width=".9" height=".9" fill-opacity=".4"/><rect x="400.1" y="101.9" width=".9" height=".9" fill-opacity=".5"/><rect x="420.1" y="89.5" width=".9" height=".9" fill-opacity=".5"/><rect x="392.5" y="99.0" width=".9" height=".9" fill-opacity=".3"/><rect x="418.2" y="102.9" width=".9" height=".9" fill-opacity=".5"/><rect x="426.4" y="104.2" width=".9" height=".9" fill-opacity=".3"/><rect x="405.3" y="97.9" width=".9" height=".9" fill-opacity=".6"/><rect x="426.0" y="96.9" width=".9" height=".9" fill-opacity=".4"/><rect x="431.0" y="91.1" width=".9" height=".9" fill-opacity=".4"/><rect x="423.8" y="98.1" width=".9" height=".9" fill-opacity=".5"/><rect x="417.6" y="99.1" width=".9" height=".9" fill-opacity=".7"/><rect x="392.6" y="96.7" width=".9" height=".9" fill-opacity=".7"/><rect x="439.2" y="94.9" width=".9" height=".9" fill-opacity=".6"/><rect x="390.4" y="98.3" width=".9" height=".9" fill-opacity=".4"/><rect x="404.9" y="94.4" width=".9" height=".9" fill-opacity=".7"/><rect x="396.8" y="104.2" width=".9" height=".9" fill-opacity=".3"/><rect x="386.0" y="108.8" width=".9" height=".9" fill-opacity=".4"/><rect x="402.2" y="93.5" width=".9" height=".9" fill-opacity=".5"/><rect x="426.2" y="101.8" width=".9" height=".9" fill-opacity=".3"/><rect x="393.2" y="102.7" width=".9" height=".9" fill-opacity=".6"/><rect x="432.3" y="97.7" width=".9" height=".9" fill-opacity=".4"/><rect x="388.6" y="101.6" width=".9" height=".9" fill-opacity=".6"/><rect x="428.5" y="98.9" width=".9" height=".9" fill-opacity=".4"/><rect x="419.5" y="102.8" width=".9" height=".9" fill-opacity=".5"/><rect x="445.4" y="97.7" width=".9" height=".9" fill-opacity=".3"/><rect x="403.3" y="98.8" width=".9" height=".9" fill-opacity=".3"/><rect x="433.7" y="94.3" width=".9" height=".9" fill-opacity=".4"/><rect x="435.5" y="85.3" width=".9" height=".9" fill-opacity=".3"/><rect x="426.4" y="95.6" width=".9" height=".9" fill-opacity=".4"/><rect x="420.3" y="102.4" width=".9" height=".9" fill-opacity=".5"/><rect x="390.7" y="98.6" width=".9" height=".9" fill-opacity=".4"/><rect x="416.3" y="101.9" width=".9" height=".9" fill-opacity=".7"/><rect x="395.3" y="94.0" width=".9" height=".9" fill-opacity=".5"/><rect x="408.5" y="97.9" width=".9" height=".9" fill-opacity=".3"/><rect x="385.1" y="103.6" width=".9" height=".9" fill-opacity=".4"/><rect x="402.4" y="106.2" width=".9" height=".9" fill-opacity=".6"/><rect x="427.3" y="99.1" width=".9" height=".9" fill-opacity=".6"/><rect x="425.1" y="93.4" width=".9" height=".9" fill-opacity=".3"/><rect x="406.1" y="96.1" width=".9" height=".9" fill-opacity=".6"/><rect x="389.2" y="99.1" width=".9" height=".9" fill-opacity=".5"/><rect x="409.4" y="106.2" width=".9" height=".9" fill-opacity=".6"/><rect x="395.5" y="96.7" width=".9" height=".9" fill-opacity=".5"/><rect x="419.6" y="101.0" width=".9" height=".9" fill-opacity=".3"/><rect x="412.5" y="96.6" width=".9" height=".9" fill-opacity=".7"/><rect x="420.9" y="100.8" width=".9" height=".9" fill-opacity=".4"/><rect x="387.3" y="93.1" width=".9" height=".9" fill-opacity=".4"/><rect x="414.6" y="99.3" width=".9" height=".9" fill-opacity=".3"/><rect x="414.0" y="94.6" width=".9" height=".9" fill-opacity=".3"/><rect x="408.4" y="94.4" width=".9" height=".9" fill-opacity=".4"/><rect x="418.9" y="102.4" width=".9" height=".9" fill-opacity=".7"/><rect x="443.6" y="105.3" width=".9" height=".9" fill-opacity=".7"/><rect x="397.5" y="96.7" width=".9" height=".9" fill-opacity=".4"/><rect x="395.1" y="100.5" width=".9" height=".9" fill-opacity=".7"/><rect x="447.6" y="102.5" width=".9" height=".9" fill-opacity=".6"/><rect x="388.7" y="101.6" width=".9" height=".9" fill-opacity=".3"/><rect x="412.0" y="100.5" width=".9" height=".9" fill-opacity=".3"/><rect x="444.1" y="94.9" width=".9" height=".9" fill-opacity=".3"/><rect x="396.7" y="108.8" width=".9" height=".9" fill-opacity=".5"/><rect x="418.2" y="95.1" width=".9" height=".9" fill-opacity=".3"/><rect x="412.8" y="104.0" width=".9" height=".9" fill-opacity=".3"/><rect x="409.5" y="95.5" width=".9" height=".9" fill-opacity=".3"/><rect x="398.7" y="108.5" width=".9" height=".9" fill-opacity=".6"/><rect x="412.5" y="102.1" width=".9" height=".9" fill-opacity=".4"/><rect x="404.7" y="101.5" width=".9" height=".9" fill-opacity=".7"/><rect x="426.7" y="98.3" width=".9" height=".9" fill-opacity=".6"/><rect x="403.8" y="98.1" width=".9" height=".9" fill-opacity=".3"/><rect x="394.6" y="98.0" width=".9" height=".9" fill-opacity=".4"/><rect x="406.6" y="100.1" width=".9" height=".9" fill-opacity=".4"/><rect x="436.1" y="105.5" width=".9" height=".9" fill-opacity=".7"/><rect x="404.0" y="102.0" width=".9" height=".9" fill-opacity=".4"/><rect x="417.3" y="102.8" width=".9" height=".9" fill-opacity=".7"/><rect x="412.4" y="100.3" width=".9" height=".9" fill-opacity=".7"/><rect x="403.6" y="95.1" width=".9" height=".9" fill-opacity=".3"/><rect x="427.7" y="105.5" width=".9" height=".9" fill-opacity=".7"/><rect x="423.9" y="101.2" width=".9" height=".9" fill-opacity=".5"/><rect x="416.8" y="96.7" width=".9" height=".9" fill-opacity=".6"/><rect x="415.6" y="96.2" width=".9" height=".9" fill-opacity=".3"/><rect x="394.6" y="105.4" width=".9" height=".9" fill-opacity=".5"/><rect x="423.5" y="110.9" width=".9" height=".9" fill-opacity=".4"/><rect x="399.1" y="98.9" width=".9" height=".9" fill-opacity=".4"/><rect x="402.9" y="99.8" width=".9" height=".9" fill-opacity=".3"/><rect x="408.2" y="95.3" width=".9" height=".9" fill-opacity=".5"/><rect x="431.3" y="95.1" width=".9" height=".9" fill-opacity=".4"/><rect x="437.9" y="88.7" width=".9" height=".9" fill-opacity=".3"/><rect x="437.6" y="76.8" width=".9" height=".9" fill-opacity=".5"/><rect x="446.6" y="77.6" width=".9" height=".9" fill-opacity=".5"/><rect x="430.5" y="80.8" width=".9" height=".9" fill-opacity=".3"/><rect x="440.8" y="102.5" width=".9" height=".9" fill-opacity=".3"/><rect x="432.0" y="93.6" width=".9" height=".9" fill-opacity=".4"/><rect x="435.1" y="77.7" width=".9" height=".9" fill-opacity=".7"/><rect x="439.7" y="85.2" width=".9" height=".9" fill-opacity=".3"/><rect x="451.6" y="103.0" width=".9" height=".9" fill-opacity=".6"/><rect x="436.6" y="98.0" width=".9" height=".9" fill-opacity=".7"/><rect x="453.0" y="91.8" width=".9" height=".9" fill-opacity=".5"/><rect x="435.4" y="92.8" width=".9" height=".9" fill-opacity=".5"/><rect x="441.9" y="86.2" width=".9" height=".9" fill-opacity=".3"/><rect x="440.3" y="90.0" width=".9" height=".9" fill-opacity=".5"/><rect x="454.2" y="95.6" width=".9" height=".9" fill-opacity=".3"/><rect x="440.9" y="93.9" width=".9" height=".9" fill-opacity=".6"/><rect x="457.5" y="70.8" width=".9" height=".9" fill-opacity=".7"/><rect x="457.7" y="66.0" width=".9" height=".9" fill-opacity=".5"/><rect x="448.4" y="89.1" width=".9" height=".9" fill-opacity=".7"/><rect x="457.8" y="85.3" width=".9" height=".9" fill-opacity=".5"/><rect x="438.2" y="72.4" width=".9" height=".9" fill-opacity=".6"/><rect x="430.5" y="91.2" width=".9" height=".9" fill-opacity=".5"/><rect x="440.6" y="73.4" width=".9" height=".9" fill-opacity=".6"/><rect x="448.3" y="72.8" width=".9" height=".9" fill-opacity=".6"/><rect x="438.6" y="76.5" width=".9" height=".9" fill-opacity=".5"/><rect x="459.5" y="99.6" width=".9" height=".9" fill-opacity=".7"/><rect x="441.4" y="63.1" width=".9" height=".9" fill-opacity=".6"/><rect x="445.8" y="82.9" width=".9" height=".9" fill-opacity=".6"/><rect x="446.5" y="88.8" width=".9" height=".9" fill-opacity=".4"/><rect x="439.8" y="93.1" width=".9" height=".9" fill-opacity=".6"/><rect x="451.4" y="84.5" width=".9" height=".9" fill-opacity=".6"/><rect x="438.9" y="76.2" width=".9" height=".9" fill-opacity=".6"/><rect x="449.9" y="68.8" width=".9" height=".9" fill-opacity=".4"/><rect x="441.4" y="73.0" width=".9" height=".9" fill-opacity=".3"/><rect x="429.1" y="89.2" width=".9" height=".9" fill-opacity=".4"/><rect x="442.7" y="82.4" width=".9" height=".9" fill-opacity=".7"/><rect x="451.7" y="64.1" width=".9" height=".9" fill-opacity=".7"/><rect x="442.3" y="85.5" width=".9" height=".9" fill-opacity=".5"/><rect x="451.3" y="69.0" width=".9" height=".9" fill-opacity=".7"/><rect x="450.2" y="84.6" width=".9" height=".9" fill-opacity=".6"/><rect x="456.6" y="95.7" width=".9" height=".9" fill-opacity=".4"/><rect x="448.5" y="107.8" width=".9" height=".9" fill-opacity=".4"/><rect x="443.0" y="76.9" width=".9" height=".9" fill-opacity=".3"/><rect x="439.6" y="70.7" width=".9" height=".9" fill-opacity=".3"/><rect x="442.7" y="59.5" width=".9" height=".9" fill-opacity=".7"/><rect x="442.2" y="87.1" width=".9" height=".9" fill-opacity=".3"/><rect x="452.9" y="77.8" width=".9" height=".9" fill-opacity=".3"/><rect x="456.9" y="74.2" width=".9" height=".9" fill-opacity=".6"/><rect x="441.7" y="59.5" width=".9" height=".9" fill-opacity=".7"/><rect x="435.4" y="72.5" width=".9" height=".9" fill-opacity=".5"/><rect x="457.6" y="88.2" width=".9" height=".9" fill-opacity=".6"/><rect x="432.2" y="88.3" width=".9" height=".9" fill-opacity=".7"/><rect x="447.7" y="79.3" width=".9" height=".9" fill-opacity=".5"/><rect x="443.2" y="78.4" width=".9" height=".9" fill-opacity=".6"/><rect x="437.7" y="61.2" width=".9" height=".9" fill-opacity=".7"/><rect x="442.1" y="97.1" width=".9" height=".9" fill-opacity=".3"/><rect x="457.0" y="78.7" width=".9" height=".9" fill-opacity=".6"/><rect x="435.7" y="79.5" width=".9" height=".9" fill-opacity=".6"/><rect x="451.8" y="86.1" width=".9" height=".9" fill-opacity=".7"/><rect x="437.3" y="86.2" width=".9" height=".9" fill-opacity=".5"/><rect x="441.0" y="88.0" width=".9" height=".9" fill-opacity=".7"/><rect x="439.0" y="64.8" width=".9" height=".9" fill-opacity=".7"/><rect x="443.6" y="90.9" width=".9" height=".9" fill-opacity=".6"/><rect x="432.2" y="80.7" width=".9" height=".9" fill-opacity=".4"/><rect x="451.6" y="77.6" width=".9" height=".9" fill-opacity=".6"/><rect x="436.7" y="105.8" width=".9" height=".9" fill-opacity=".5"/><rect x="451.1" y="94.0" width=".9" height=".9" fill-opacity=".3"/><rect x="433.8" y="101.1" width=".9" height=".9" fill-opacity=".6"/><rect x="426.9" y="75.9" width=".9" height=".9" fill-opacity=".7"/><rect x="450.2" y="97.5" width=".9" height=".9" fill-opacity=".5"/><rect x="407.4" y="53.8" width=".9" height=".9" fill-opacity=".7"/><rect x="445.5" y="83.6" width=".9" height=".9" fill-opacity=".5"/><rect x="419.1" y="83.1" width=".9" height=".9" fill-opacity=".3"/><rect x="448.9" y="77.5" width=".9" height=".9" fill-opacity=".7"/><rect x="442.7" y="106.8" width=".9" height=".9" fill-opacity=".4"/><rect x="418.4" y="73.9" width=".9" height=".9" fill-opacity=".7"/><rect x="417.3" y="95.1" width=".9" height=".9" fill-opacity=".5"/><rect x="420.1" y="81.5" width=".9" height=".9" fill-opacity=".5"/><rect x="433.3" y="71.6" width=".9" height=".9" fill-opacity=".6"/><rect x="471.6" y="67.9" width=".9" height=".9" fill-opacity=".5"/><rect x="464.3" y="90.0" width=".9" height=".9" fill-opacity=".7"/><rect x="461.9" y="66.0" width=".9" height=".9" fill-opacity=".7"/><rect x="452.5" y="88.3" width=".9" height=".9" fill-opacity=".6"/><rect x="415.1" y="76.5" width=".9" height=".9" fill-opacity=".7"/><rect x="426.9" y="69.1" width=".9" height=".9" fill-opacity=".4"/><rect x="461.5" y="52.6" width=".9" height=".9" fill-opacity=".4"/><rect x="419.1" y="54.4" width=".9" height=".9" fill-opacity=".3"/><rect x="430.3" y="83.7" width=".9" height=".9" fill-opacity=".7"/><rect x="472.5" y="77.5" width=".9" height=".9" fill-opacity=".5"/><rect x="441.2" y="52.3" width=".9" height=".9" fill-opacity=".7"/><rect x="444.0" y="102.8" width=".9" height=".9" fill-opacity=".4"/><rect x="451.5" y="108.2" width=".9" height=".9" fill-opacity=".7"/><rect x="449.9" y="34.0" width=".9" height=".9" fill-opacity=".4"/><rect x="422.6" y="84.2" width=".9" height=".9" fill-opacity=".5"/><rect x="440.0" y="50.5" width=".9" height=".9" fill-opacity=".4"/><rect x="408.6" y="93.3" width=".9" height=".9" fill-opacity=".4"/><rect x="397.9" y="104.5" width=".9" height=".9" fill-opacity=".4"/><rect x="430.5" y="77.2" width=".9" height=".9" fill-opacity=".6"/><rect x="397.9" y="55.7" width=".9" height=".9" fill-opacity=".4"/><rect x="446.6" y="34.6" width=".9" height=".9" fill-opacity=".3"/><rect x="400.6" y="71.0" width=".9" height=".9" fill-opacity=".5"/><rect x="441.6" y="87.6" width=".9" height=".9" fill-opacity=".6"/><rect x="421.1" y="65.0" width=".9" height=".9" fill-opacity=".5"/><rect x="424.3" y="56.2" width=".9" height=".9" fill-opacity=".6"/><rect x="436.0" y="73.8" width=".9" height=".9" fill-opacity=".3"/><rect x="414.9" y="76.0" width=".9" height=".9" fill-opacity=".6"/><rect x="429.7" y="68.2" width=".9" height=".9" fill-opacity=".4"/><rect x="436.1" y="44.4" width=".9" height=".9" fill-opacity=".5"/><rect x="422.4" y="106.0" width=".9" height=".9" fill-opacity=".6"/><rect x="404.0" y="67.6" width=".9" height=".9" fill-opacity=".3"/><rect x="415.8" y="92.8" width=".9" height=".9" fill-opacity=".5"/><rect x="442.3" y="61.5" width=".9" height=".9" fill-opacity=".5"/><rect x="422.3" y="95.9" width=".9" height=".9" fill-opacity=".7"/><rect x="408.7" y="61.0" width=".9" height=".9" fill-opacity=".7"/><rect x="433.5" y="79.9" width=".9" height=".9" fill-opacity=".5"/><rect x="417.6" y="94.8" width=".9" height=".9" fill-opacity=".6"/><rect x="463.8" y="61.7" width=".9" height=".9" fill-opacity=".3"/><rect x="433.3" y="61.8" width=".9" height=".9" fill-opacity=".5"/><rect x="414.7" y="39.3" width=".9" height=".9" fill-opacity=".6"/><rect x="420.5" y="101.1" width=".9" height=".9" fill-opacity=".5"/><rect x="457.4" y="61.6" width=".9" height=".9" fill-opacity=".6"/><rect x="417.3" y="53.1" width=".9" height=".9" fill-opacity=".3"/><rect x="401.2" y="113.3" width=".9" height=".9" fill-opacity=".6"/><rect x="445.9" y="72.8" width=".9" height=".9" fill-opacity=".6"/><rect x="418.2" y="45.5" width=".9" height=".9" fill-opacity=".4"/><rect x="461.6" y="88.7" width=".9" height=".9" fill-opacity=".7"/><rect x="407.1" y="93.7" width=".9" height=".9" fill-opacity=".4"/><rect x="403.4" y="85.4" width=".9" height=".9" fill-opacity=".3"/><rect x="406.9" y="60.1" width=".9" height=".9" fill-opacity=".4"/><rect x="441.9" y="80.4" width=".9" height=".9" fill-opacity=".5"/><rect x="454.3" y="49.9" width=".9" height=".9" fill-opacity=".6"/><rect x="467.9" y="102.3" width=".9" height=".9" fill-opacity=".7"/><rect x="429.8" y="81.2" width=".9" height=".9" fill-opacity=".4"/><rect x="411.3" y="66.3" width=".9" height=".9" fill-opacity=".7"/><rect x="398.3" y="72.1" width=".9" height=".9" fill-opacity=".5"/><rect x="434.8" y="102.2" width=".9" height=".9" fill-opacity=".7"/><rect x="452.7" y="89.6" width=".9" height=".9" fill-opacity=".5"/><rect x="421.3" y="64.6" width=".9" height=".9" fill-opacity=".6"/><rect x="421.8" y="75.3" width=".9" height=".9" fill-opacity=".5"/><rect x="383.7" y="88.5" width=".9" height=".9" fill-opacity=".3"/><rect x="392.4" y="57.6" width=".9" height=".9" fill-opacity=".7"/><rect x="430.5" y="57.7" width=".9" height=".9" fill-opacity=".4"/><rect x="469.9" y="67.7" width=".9" height=".9" fill-opacity=".3"/><rect x="467.7" y="98.2" width=".9" height=".9" fill-opacity=".7"/><rect x="418.1" y="79.6" width=".9" height=".9" fill-opacity=".5"/><rect x="461.2" y="62.0" width=".9" height=".9" fill-opacity=".3"/><rect x="432.1" y="56.6" width=".9" height=".9" fill-opacity=".7"/><rect x="431.4" y="61.5" width=".9" height=".9" fill-opacity=".4"/><rect x="432.0" y="94.0" width=".9" height=".9" fill-opacity=".5"/><rect x="463.4" y="73.2" width=".9" height=".9" fill-opacity=".7"/><rect x="434.8" y="90.5" width=".9" height=".9" fill-opacity=".5"/><rect x="423.0" y="44.6" width=".9" height=".9" fill-opacity=".5"/><rect x="456.6" y="47.6" width=".9" height=".9" fill-opacity=".5"/><rect x="452.3" y="46.8" width=".9" height=".9" fill-opacity=".4"/><rect x="450.4" y="106.0" width=".9" height=".9" fill-opacity=".5"/><rect x="406.9" y="105.6" width=".9" height=".9" fill-opacity=".6"/><rect x="447.3" y="86.8" width=".9" height=".9" fill-opacity=".3"/><rect x="428.7" y="62.7" width=".9" height=".9" fill-opacity=".7"/><rect x="420.9" y="63.0" width=".9" height=".9" fill-opacity=".6"/><rect x="387.0" y="56.4" width=".9" height=".9" fill-opacity=".3"/></g>
<path d="M440,93.6 L398,94 Q394.5,99.2 398,104.4 L440,104.8 Z" fill="#c8c8c8" opacity="0.7"/>
<linearGradient id="gh" x1="0" x2="1" y1="0" y2="0"><stop offset="0" stop-color="#999" stop-opacity="0.1"/><stop offset="1" stop-color="#333" stop-opacity="0.9"/></linearGradient>
<path d="M410,94.5 L438,92 L438,106.5 L410,104 Z" fill="url(#gh)" filter="url(#b1)"/>
<path d="M440,94.00 L398.00,94.00 Q395.00,94.00 395.00,99.2 Q395.00,104.40 398.00,104.40 L440,104.40" fill="none" stroke="#4a4a4a" stroke-width="0.5"/>
<path d="M440,94.90 L401.50,94.90 Q398.50,94.90 398.50,99.2 Q398.50,103.50 401.50,103.50 L440,103.50" fill="none" stroke="#4a4a4a" stroke-width="0.5"/>
<path d="M440,95.70 L405.00,95.70 Q402.00,95.70 402.00,99.2 Q402.00,102.70 405.00,102.70 L440,102.70" fill="none" stroke="#4a4a4a" stroke-width="0.5"/>
<path d="M440,96.40 L409.00,96.40 Q406.00,96.40 406.00,99.2 Q406.00,102.00 409.00,102.00 L440,102.00" fill="none" stroke="#4a4a4a" stroke-width="0.5"/>
<path d="M440,97.10 L413.00,97.10 Q410.00,97.10 410.00,99.2 Q410.00,101.30 413.00,101.30 L440,101.30" fill="none" stroke="#4a4a4a" stroke-width="0.5"/>
<path d="M440,97.70 L417.00,97.70 Q414.00,97.70 414.00,99.2 Q414.00,100.70 417.00,100.70 L440,100.70" fill="none" stroke="#4a4a4a" stroke-width="0.5"/>
<path d="M421.5,95.4 Q419,99.2 421.5,103.0" fill="none" stroke="#3a3a3a" stroke-width="0.45"/>
<path d="M425.5,95.4 Q423,99.2 425.5,103.0" fill="none" stroke="#3a3a3a" stroke-width="0.45"/>
<path d="M429.5,95.4 Q427,99.2 429.5,103.0" fill="none" stroke="#3a3a3a" stroke-width="0.45"/>
<path d="M433.0,95.4 Q430.5,99.2 433.0,103.0" fill="none" stroke="#3a3a3a" stroke-width="0.45"/>
<path d="M436.5,95.4 Q434,99.2 436.5,103.0" fill="none" stroke="#3a3a3a" stroke-width="0.45"/>
<path d="M437.0,68 C437.3,78 437,86 435.5,93 L452,93 C451.5,86 451.3,78 451.2,68 Z" fill="#7a7a7a" filter="url(#b1)"/>
<path d="M447.5,68 C448,78 448.5,86 449,93 L452,93 C451.5,86 451.3,78 451.2,68 Z" fill="#333" filter="url(#b1)"/>
<path d="M439.0,72 L438.4,92" fill="none" stroke="#aaa" stroke-width="0.4" stroke-dasharray="2 1"/>
<path d="M441.0,72 L440.4,92" fill="none" stroke="#aaa" stroke-width="0.4" stroke-dasharray="2 1"/>
<path d="M443.0,72 L442.4,92" fill="none" stroke="#aaa" stroke-width="0.4" stroke-dasharray="2 1"/>
<path d="M445.2,72 L444.59999999999997,92" fill="none" stroke="#aaa" stroke-width="0.4" stroke-dasharray="2 1"/>
<path d="M436.00,58.30 A7.60,7.60 0 0 1 451.20,58.30 C451.20,67.42 450.00,75.00 450.00,78.00 L437.20,78.00 C437.20,75.00 436.00,67.42 436.00,58.30 Z" fill="#333" filter="url(#b1)"/>
<path d="M439.30,58.20 A4.60,4.60 0 0 1 448.50,58.20 C448.50,63.72 447.50,73.00 447.50,76.00 L440.30,76.00 C440.30,73.00 439.30,63.72 439.30,58.20 Z" fill="#7c7c7c" filter="url(#b1)"/>
<ellipse cx="444.20" cy="59.50" rx="1.00" ry="3.20" fill="#c8c8c8" stroke="none" stroke-width="0.5" filter="url(#b1)"/>
<ellipse cx="443.80" cy="99.00" rx="8.40" ry="9.00" fill="#2a2a2a" stroke="none" stroke-width="0.5" filter="url(#b1)"/>
<ellipse cx="443.60" cy="99.10" rx="5.00" ry="5.20" fill="#1e1e1e" stroke="none" stroke-width="0.5" filter="url(#b1)"/>
<ellipse cx="443.40" cy="99.10" rx="2.20" ry="2.00" fill="#fbfbfb" stroke="none" stroke-width="0.5" filter="url(#b1)"/>
</svg>
<rect x="380.5" y="30.5" width="93.00" height="92.00" fill="none" stroke="#222" stroke-width="1"/>
<line x1="413.50" y1="30.50" x2="413.50" y2="122.50" stroke="#222" stroke-width="1" />
<line x1="380.50" y1="82.50" x2="473.50" y2="82.50" stroke="#222" stroke-width="1" />
<line x1="379.00" y1="32.50" x2="380.50" y2="32.50" stroke="#222" stroke-width="0.8" />
<line x1="379.00" y1="51.50" x2="380.50" y2="51.50" stroke="#222" stroke-width="0.8" />
<line x1="379.00" y1="83.50" x2="380.50" y2="83.50" stroke="#222" stroke-width="0.8" />
<line x1="379.00" y1="102.50" x2="380.50" y2="102.50" stroke="#222" stroke-width="0.8" />
<line x1="379.00" y1="106.00" x2="380.50" y2="106.00" stroke="#222" stroke-width="0.8" />
<line x1="379.00" y1="107.50" x2="380.50" y2="107.50" stroke="#222" stroke-width="0.8" />
<line x1="379.00" y1="108.50" x2="380.50" y2="108.50" stroke="#222" stroke-width="0.8" />
<line x1="383.50" y1="122.50" x2="383.50" y2="124.00" stroke="#222" stroke-width="0.8" />
<line x1="389.50" y1="122.50" x2="389.50" y2="124.00" stroke="#222" stroke-width="0.8" />
<line x1="392.50" y1="122.50" x2="392.50" y2="124.00" stroke="#222" stroke-width="0.8" />
<line x1="393.50" y1="122.50" x2="393.50" y2="124.00" stroke="#222" stroke-width="0.8" />
<line x1="394.50" y1="122.50" x2="394.50" y2="124.00" stroke="#222" stroke-width="0.8" />
<line x1="404.50" y1="122.50" x2="404.50" y2="124.00" stroke="#222" stroke-width="0.8" />
<line x1="413.50" y1="122.50" x2="413.50" y2="124.00" stroke="#222" stroke-width="0.8" />
<line x1="425.50" y1="122.50" x2="425.50" y2="124.00" stroke="#222" stroke-width="0.8" />
<line x1="432.50" y1="122.50" x2="432.50" y2="124.00" stroke="#222" stroke-width="0.8" />
<line x1="440.50" y1="122.50" x2="440.50" y2="124.00" stroke="#222" stroke-width="0.8" />
<line x1="450.50" y1="122.50" x2="450.50" y2="124.00" stroke="#222" stroke-width="0.8" />
<line x1="460.50" y1="122.50" x2="460.50" y2="124.00" stroke="#222" stroke-width="0.8" />
<line x1="468.50" y1="122.50" x2="468.50" y2="124.00" stroke="#222" stroke-width="0.8" />
<text x="381.60" y="42.86" font-size="7.6" fill="#222" stroke="#222" stroke-width="0.2" textLength="22.20" lengthAdjust="spacingAndGlyphs" >0.24%</text>
<text x="446.60" y="42.86" font-size="7.6" fill="#222" stroke="#222" stroke-width="0.2" textLength="21.80" lengthAdjust="spacingAndGlyphs" >34.2%</text>
<text x="381.60" y="120.06" font-size="7.6" fill="#222" stroke="#222" stroke-width="0.2" textLength="22.20" lengthAdjust="spacingAndGlyphs" >5.39%</text>
<text x="446.60" y="120.06" font-size="7.6" fill="#222" stroke="#222" stroke-width="0.2" textLength="21.80" lengthAdjust="spacingAndGlyphs" >60.1%</text>
<line x1="267.50" y1="33.00" x2="267.50" y2="68.50" stroke="#222" stroke-width="1.0" />
<path d="M267.5,29.8 L265.5,34.2 L269.5,34.2 Z" fill="#222" stroke="none" stroke-width="1" />
<text transform="translate(270,95) rotate(-90)" font-size="9.3" text-anchor="middle" fill="#222" stroke="#222" stroke-width="0.2" textLength="47" lengthAdjust="spacingAndGlyphs">CD45RA BV421</text>
<text x="278.40" y="137.66" font-size="9.3" fill="#222" stroke="#222" stroke-width="0.2" textLength="43.70" lengthAdjust="spacingAndGlyphs" >CD27 BV605</text>
<line x1="325.00" y1="134.50" x2="469.00" y2="134.50" stroke="#222" stroke-width="1.0" />
<path d="M473,134.5 L468.4,132.5 L468.4,136.5 Z" fill="#222" stroke="none" stroke-width="1" />
<text x="480.30" y="36.37" font-size="8.2" fill="#222" stroke="#222" stroke-width="0.2" textLength="22.40" lengthAdjust="spacingAndGlyphs" >EMRA</text>
<text x="508.50" y="36.37" font-size="8.2" fill="#222" stroke="#222" stroke-width="0.2" textLength="5.70" lengthAdjust="spacingAndGlyphs" >N</text>
<text x="490.50" y="47.87" font-size="8.2" fill="#222" stroke="#222" stroke-width="0.2" textLength="12.20" lengthAdjust="spacingAndGlyphs" >EM</text>
<text x="506.80" y="47.87" font-size="8.2" fill="#222" stroke="#222" stroke-width="0.2" textLength="13.70" lengthAdjust="spacingAndGlyphs" >CM</text>
<line x1="505.00" y1="28.80" x2="505.00" y2="49.60" stroke="#222" stroke-width="0.8" />
<line x1="490.00" y1="39.20" x2="521.00" y2="39.20" stroke="#222" stroke-width="0.8" />
<text x="269.90" y="201.60" font-size="11" font-weight="bold" fill="#111" textLength="9.40" lengthAdjust="spacingAndGlyphs" stroke="#111" stroke-width="0.35">D</text>
<line x1="301.80" y1="207.30" x2="301.80" y2="293.40" stroke="#222" stroke-width="1.2" />
<line x1="301.20" y1="292.90" x2="492.00" y2="292.90" stroke="#222" stroke-width="1.3" />
<line x1="298.60" y1="210.23" x2="301.80" y2="210.23" stroke="#222" stroke-width="1" />
<text x="282.40" y="213.27" font-size="8.7" fill="#2a2a2a" stroke="#2a2a2a" stroke-width="0.2" textLength="12.90" lengthAdjust="spacingAndGlyphs" >100</text>
<line x1="298.60" y1="226.76" x2="301.80" y2="226.76" stroke="#222" stroke-width="1" />
<text x="286.70" y="229.81" font-size="8.7" fill="#2a2a2a" stroke="#2a2a2a" stroke-width="0.2" textLength="8.60" lengthAdjust="spacingAndGlyphs" >80</text>
<line x1="298.60" y1="243.30" x2="301.80" y2="243.30" stroke="#222" stroke-width="1" />
<text x="286.70" y="246.34" font-size="8.7" fill="#2a2a2a" stroke="#2a2a2a" stroke-width="0.2" textLength="8.60" lengthAdjust="spacingAndGlyphs" >60</text>
<line x1="298.60" y1="259.83" x2="301.80" y2="259.83" stroke="#222" stroke-width="1" />
<text x="286.70" y="262.88" font-size="8.7" fill="#2a2a2a" stroke="#2a2a2a" stroke-width="0.2" textLength="8.60" lengthAdjust="spacingAndGlyphs" >40</text>
<line x1="298.60" y1="276.37" x2="301.80" y2="276.37" stroke="#222" stroke-width="1" />
<text x="286.70" y="279.41" font-size="8.7" fill="#2a2a2a" stroke="#2a2a2a" stroke-width="0.2" textLength="8.60" lengthAdjust="spacingAndGlyphs" >20</text>
<line x1="298.60" y1="292.90" x2="301.80" y2="292.90" stroke="#222" stroke-width="1" />
<text x="291.00" y="295.94" font-size="8.7" fill="#2a2a2a" stroke="#2a2a2a" stroke-width="0.2" textLength="4.30" lengthAdjust="spacingAndGlyphs" >0</text>
<text transform="translate(276.2,252.4) rotate(-90)" font-size="8.8" text-anchor="middle" fill="#2a2a2a" stroke="#2a2a2a" stroke-width="0.2" textLength="64" lengthAdjust="spacingAndGlyphs">% (in CD4<tspan font-size="5.5" dy="-3">+</tspan><tspan dy="3"> T cells)</tspan></text>
<line x1="322.50" y1="292.90" x2="322.50" y2="295.40" stroke="#222" stroke-width="1" />
<line x1="372.60" y1="292.90" x2="372.60" y2="295.40" stroke="#222" stroke-width="1" />
<line x1="420.80" y1="292.90" x2="420.80" y2="295.40" stroke="#222" stroke-width="1" />
<line x1="472.20" y1="292.90" x2="472.20" y2="295.40" stroke="#222" stroke-width="1" />
<text x="312.90" y="305.91" font-size="8.6" fill="#222" stroke="#222" stroke-width="0.2" textLength="20.30" lengthAdjust="spacingAndGlyphs" >Naive</text>
<text x="365.40" y="305.91" font-size="8.6" fill="#222" stroke="#222" stroke-width="0.2" textLength="4.40" lengthAdjust="spacingAndGlyphs" >T</text>
<text x="369.60" y="307.76" font-size="5.6" fill="#222" stroke="#222" stroke-width="0.2" textLength="9.80" lengthAdjust="spacingAndGlyphs" >CM</text>
<text x="415.60" y="305.91" font-size="8.6" fill="#222" stroke="#222" stroke-width="0.2" textLength="4.40" lengthAdjust="spacingAndGlyphs" >T</text>
<text x="419.80" y="306.56" font-size="5.6" fill="#222" stroke="#222" stroke-width="0.2" textLength="9.40" lengthAdjust="spacingAndGlyphs" >EM</text>
<text x="459.60" y="305.91" font-size="8.6" fill="#222" stroke="#222" stroke-width="0.2" textLength="26.90" lengthAdjust="spacingAndGlyphs" >TEMRA</text>
<circle cx="309.40" cy="232.55" r="1.55" fill="#3cb54a" />
<circle cx="310.40" cy="235.03" r="1.55" fill="#3cb54a" />
<circle cx="311.40" cy="237.51" r="1.55" fill="#3cb54a" />
<circle cx="309.40" cy="239.99" r="1.55" fill="#3cb54a" />
<circle cx="310.40" cy="241.64" r="1.55" fill="#3cb54a" />
<circle cx="311.40" cy="242.47" r="1.55" fill="#3cb54a" />
<circle cx="309.40" cy="244.12" r="1.55" fill="#3cb54a" />
<circle cx="310.40" cy="246.60" r="1.55" fill="#3cb54a" />
<circle cx="311.40" cy="247.43" r="1.55" fill="#3cb54a" />
<line x1="307.60" y1="241.64" x2="313.20" y2="241.64" stroke="#333" stroke-width="0.8" />
<path d="M321.70,225.06 L320.00,228.16 L323.40,228.16 Z" fill="#1b4f85" stroke="none" stroke-width="1" />
<rect x="321.11" y="227.85" width="2.79" height="2.79" fill="#1b4f85"/>
<circle cx="323.30" cy="236.68" r="1.55" fill="#1b4f85" />
<path d="M321.70,265.67 L320.00,262.57 L323.40,262.57 Z" fill="#1b4f85" stroke="none" stroke-width="1" />
<line x1="319.70" y1="233.38" x2="325.30" y2="233.38" stroke="#333" stroke-width="0.8" />
<circle cx="333.20" cy="263.97" r="1.55" fill="#c8143c" />
<path d="M334.40,262.93 L332.54,264.79 L334.40,266.65 L336.26,264.79 Z" fill="#c8143c" stroke="none" stroke-width="1" />
<rect x="334.20" y="263.81" width="2.79" height="2.79" fill="#c8143c"/>
<path d="M333.20,267.89 L331.34,269.75 L333.20,271.61 L335.06,269.75 Z" fill="#c8143c" stroke="none" stroke-width="1" />
<line x1="331.60" y1="264.38" x2="337.20" y2="264.38" stroke="#333" stroke-width="0.8" />
<circle cx="359.80" cy="263.97" r="1.55" fill="#3cb54a" />
<circle cx="360.80" cy="265.62" r="1.55" fill="#3cb54a" />
<circle cx="361.80" cy="267.27" r="1.55" fill="#3cb54a" />
<circle cx="359.80" cy="268.93" r="1.55" fill="#3cb54a" />
<circle cx="360.80" cy="270.17" r="1.55" fill="#3cb54a" />
<circle cx="361.80" cy="271.41" r="1.55" fill="#3cb54a" />
<circle cx="359.80" cy="273.06" r="1.55" fill="#3cb54a" />
<circle cx="360.80" cy="278.02" r="1.55" fill="#3cb54a" />
<line x1="358.00" y1="269.75" x2="363.60" y2="269.75" stroke="#333" stroke-width="0.8" />
<path d="M372.30,250.79 L370.60,247.69 L374.00,247.69 Z" fill="#1b4f85" stroke="none" stroke-width="1" />
<circle cx="372.60" cy="270.58" r="1.55" fill="#1b4f85" />
<rect x="371.51" y="274.97" width="2.79" height="2.79" fill="#1b4f85"/>
<path d="M372.30,279.62 L370.60,282.72 L374.00,282.72 Z" fill="#1b4f85" stroke="none" stroke-width="1" />
<line x1="369.80" y1="273.47" x2="375.40" y2="273.47" stroke="#333" stroke-width="0.8" />
<path d="M382.30,237.30 L380.44,239.16 L382.30,241.02 L384.16,239.16 Z" fill="#c8143c" stroke="none" stroke-width="1" />
<circle cx="383.50" cy="241.64" r="1.55" fill="#c8143c" />
<rect x="383.31" y="241.90" width="2.79" height="2.79" fill="#c8143c"/>
<path d="M382.30,242.26 L380.44,244.12 L382.30,245.98 L384.16,244.12 Z" fill="#c8143c" stroke="none" stroke-width="1" />
<line x1="380.70" y1="242.47" x2="386.30" y2="242.47" stroke="#333" stroke-width="0.8" />
<circle cx="408.10" cy="283.81" r="1.55" fill="#3cb54a" />
<circle cx="409.40" cy="285.46" r="1.55" fill="#3cb54a" />
<circle cx="410.70" cy="287.11" r="1.55" fill="#3cb54a" />
<circle cx="408.10" cy="288.77" r="1.55" fill="#3cb54a" />
<circle cx="409.40" cy="289.59" r="1.55" fill="#3cb54a" />
<circle cx="410.70" cy="290.42" r="1.55" fill="#3cb54a" />
<path d="M420.20,284.68 L418.50,281.58 L421.90,281.58 Z" fill="#1b4f85" stroke="none" stroke-width="1" />
<circle cx="420.80" cy="287.94" r="1.55" fill="#1b4f85" />
<rect x="420.01" y="288.20" width="2.79" height="2.79" fill="#1b4f85"/>
<path d="M420.20,289.54 L418.50,292.64 L421.90,292.64 Z" fill="#1b4f85" stroke="none" stroke-width="1" />
<path d="M432.30,284.43 L430.44,286.29 L432.30,288.15 L434.16,286.29 Z" fill="#c8143c" stroke="none" stroke-width="1" />
<circle cx="433.50" cy="287.94" r="1.55" fill="#c8143c" />
<rect x="433.31" y="287.37" width="2.79" height="2.79" fill="#c8143c"/>
<path d="M432.30,287.73 L430.44,289.59 L432.30,291.45 L434.16,289.59 Z" fill="#c8143c" stroke="none" stroke-width="1" />
<circle cx="459.50" cy="290.42" r="1.55" fill="#3cb54a" />
<circle cx="460.80" cy="291.25" r="1.55" fill="#3cb54a" />
<circle cx="462.10" cy="291.66" r="1.55" fill="#3cb54a" />
<circle cx="459.50" cy="292.07" r="1.55" fill="#3cb54a" />
<circle cx="471.00" cy="291.91" r="1.55" fill="#1b4f85" />
<rect x="470.81" y="290.84" width="2.79" height="2.79" fill="#1b4f85"/>
<path d="M473.40,290.78 L471.69,293.88 L475.10,293.88 Z" fill="#1b4f85" stroke="none" stroke-width="1" />
<circle cx="483.50" cy="292.24" r="1.55" fill="#c8143c" />
<path d="M484.70,290.63 L482.84,292.49 L484.70,294.35 L486.56,292.49 Z" fill="#c8143c" stroke="none" stroke-width="1" />
<rect x="484.50" y="291.17" width="2.79" height="2.79" fill="#c8143c"/>
<line x1="310.70" y1="220.30" x2="334.30" y2="220.30" stroke="#222" stroke-width="1.0" />
<circle cx="318.80" cy="216.30" r="1.08" fill="#1a1a1a" />
<line x1="318.80" y1="214.95" x2="318.80" y2="217.65" stroke="#1a1a1a" stroke-width="0.6" />
<line x1="319.97" y1="215.62" x2="317.63" y2="216.98" stroke="#1a1a1a" stroke-width="0.6" />
<line x1="319.97" y1="216.98" x2="317.63" y2="215.62" stroke="#1a1a1a" stroke-width="0.6" />
<circle cx="322.50" cy="216.30" r="1.08" fill="#1a1a1a" />
<line x1="322.50" y1="214.95" x2="322.50" y2="217.65" stroke="#1a1a1a" stroke-width="0.6" />
<line x1="323.67" y1="215.62" x2="321.33" y2="216.98" stroke="#1a1a1a" stroke-width="0.6" />
<line x1="323.67" y1="216.98" x2="321.33" y2="215.62" stroke="#1a1a1a" stroke-width="0.6" />
<circle cx="326.20" cy="216.30" r="1.08" fill="#1a1a1a" />
<line x1="326.20" y1="214.95" x2="326.20" y2="217.65" stroke="#1a1a1a" stroke-width="0.6" />
<line x1="327.37" y1="215.62" x2="325.03" y2="216.98" stroke="#1a1a1a" stroke-width="0.6" />
<line x1="327.37" y1="216.98" x2="325.03" y2="215.62" stroke="#1a1a1a" stroke-width="0.6" />
<line x1="322.80" y1="211.60" x2="333.90" y2="211.60" stroke="#222" stroke-width="1.0" />
<text x="324.20" y="208.74" font-size="6.4" fill="#222" stroke="#222" stroke-width="0.2" textLength="8.40" lengthAdjust="spacingAndGlyphs" >NS</text>
<line x1="360.20" y1="232.30" x2="383.10" y2="232.30" stroke="#222" stroke-width="1.0" />
<circle cx="368.10" cy="228.30" r="0.8800000000000001" fill="#1a1a1a" />
<line x1="368.10" y1="227.20" x2="368.10" y2="229.40" stroke="#1a1a1a" stroke-width="0.6" />
<line x1="369.05" y1="227.75" x2="367.15" y2="228.85" stroke="#1a1a1a" stroke-width="0.6" />
<line x1="369.05" y1="228.85" x2="367.15" y2="227.75" stroke="#1a1a1a" stroke-width="0.6" />
<circle cx="371.60" cy="228.30" r="0.8800000000000001" fill="#1a1a1a" />
<line x1="371.60" y1="227.20" x2="371.60" y2="229.40" stroke="#1a1a1a" stroke-width="0.6" />
<line x1="372.55" y1="227.75" x2="370.65" y2="228.85" stroke="#1a1a1a" stroke-width="0.6" />
<line x1="372.55" y1="228.85" x2="370.65" y2="227.75" stroke="#1a1a1a" stroke-width="0.6" />
<circle cx="375.20" cy="228.30" r="0.8800000000000001" fill="#1a1a1a" />
<line x1="375.20" y1="227.20" x2="375.20" y2="229.40" stroke="#1a1a1a" stroke-width="0.6" />
<line x1="376.15" y1="227.75" x2="374.25" y2="228.85" stroke="#1a1a1a" stroke-width="0.6" />
<line x1="376.15" y1="228.85" x2="374.25" y2="227.75" stroke="#1a1a1a" stroke-width="0.6" />
<line x1="372.80" y1="223.50" x2="382.80" y2="223.50" stroke="#222" stroke-width="1.0" />
<text x="367.70" y="220.84" font-size="6.4" fill="#222" stroke="#222" stroke-width="0.2" textLength="20.40" lengthAdjust="spacingAndGlyphs" >p=0.06</text>
<circle cx="485.10" cy="213.20" r="1.6" fill="#c8143c" />
<text x="489.70" y="215.86" font-size="7.6" fill="#222" stroke="#222" stroke-width="0.2" textLength="9.80" lengthAdjust="spacingAndGlyphs" >II-1</text>
<circle cx="485.10" cy="224.20" r="1.6" fill="#1b4f85" />
<text x="489.70" y="226.86" font-size="7.6" fill="#222" stroke="#222" stroke-width="0.2" textLength="15.00" lengthAdjust="spacingAndGlyphs" >Het.</text>
<circle cx="485.10" cy="234.40" r="1.6" fill="#3cb54a" />
<text x="489.70" y="237.06" font-size="7.6" fill="#222" stroke="#222" stroke-width="0.2" textLength="10.90" lengthAdjust="spacingAndGlyphs" >HC</text>
<text x="270.30" y="321.30" font-size="11" font-weight="bold" fill="#111" textLength="7.60" lengthAdjust="spacingAndGlyphs" stroke="#111" stroke-width="0.35">E</text>
<text x="367.30" y="330.29" font-size="9.4" fill="#1a1a1a" stroke="#1a1a1a" stroke-width="0.2" textLength="24.20" lengthAdjust="spacingAndGlyphs" >Naive</text>
<rect x="301.7" y="333.8" width="155.30" height="77.90" fill="#fff"/>
<path d="M302.30,356.60 L302.30,356.60 L302.80,356.60 L303.30,356.60 L303.80,356.60 L304.30,356.60 L304.80,356.60 L305.30,356.60 L305.80,356.60 L306.30,356.60 L306.80,356.60 L307.30,356.60 L307.80,356.60 L308.30,356.60 L308.80,356.60 L309.30,356.59 L309.80,356.59 L310.30,356.59 L310.80,356.59 L311.30,356.59 L311.80,356.59 L312.30,356.59 L312.80,356.59 L313.30,356.59 L313.80,356.58 L314.30,356.58 L314.80,356.57 L315.30,356.55 L315.80,356.53 L316.30,356.51 L316.80,356.47 L317.30,356.43 L317.80,356.38 L318.30,356.31 L318.80,356.24 L319.30,356.17 L319.80,356.08 L320.30,356.00 L320.80,355.93 L321.30,355.87 L321.80,355.82 L322.30,355.79 L322.80,355.78 L323.30,355.80 L323.80,355.83 L324.30,355.89 L324.80,355.95 L325.30,356.03 L325.80,356.11 L326.30,356.19 L326.80,356.26 L327.30,356.33 L327.80,356.38 L328.30,356.43 L328.80,356.47 L329.30,356.49 L329.80,356.51 L330.30,356.52 L330.80,356.53 L331.30,356.53 L331.80,356.52 L332.30,356.51 L332.80,356.50 L333.30,356.47 L333.80,356.44 L334.30,356.40 L334.80,356.34 L335.30,356.27 L335.80,356.17 L336.30,356.06 L336.80,355.91 L337.30,355.73 L337.80,355.51 L338.30,355.24 L338.80,354.90 L339.30,354.60 L339.80,353.90 L340.30,353.75 L340.80,352.99 L341.30,352.42 L341.80,351.73 L342.30,350.66 L342.80,350.07 L343.30,348.98 L343.80,348.01 L344.30,347.36 L344.80,346.40 L345.30,345.36 L345.80,344.38 L346.30,343.47 L346.80,342.51 L347.30,341.78 L347.80,341.49 L348.30,340.96 L348.80,340.65 L349.30,340.31 L349.80,340.69 L350.30,340.81 L350.80,341.17 L351.30,341.41 L351.80,341.88 L352.30,342.97 L352.80,343.39 L353.30,344.55 L353.80,345.33 L354.30,346.18 L354.80,347.46 L355.30,348.47 L355.80,349.30 L356.30,350.14 L356.80,350.92 L357.30,351.73 L357.80,352.40 L358.30,353.18 L358.80,353.62 L359.30,354.04 L359.80,354.30 L360.30,355.01 L360.80,355.14 L361.30,355.39 L361.80,355.60 L362.30,355.77 L362.80,355.90 L363.30,356.01 L363.80,356.09 L364.30,356.15 L364.80,356.20 L365.30,356.24 L365.80,356.26 L366.30,356.28 L366.80,356.29 L367.30,356.30 L367.80,356.30 L368.30,356.30 L368.80,356.30 L369.30,356.30 L369.80,356.29 L370.30,356.29 L370.80,356.29 L371.30,356.28 L371.80,356.28 L372.30,356.27 L372.80,356.27 L373.30,356.26 L373.80,356.26 L374.30,356.25 L374.80,356.25 L375.30,356.24 L375.80,356.24 L376.30,356.23 L376.80,356.23 L377.30,356.22 L377.80,356.22 L378.30,356.22 L378.80,356.21 L379.30,356.21 L379.80,356.20 L380.30,356.20 L380.80,356.19 L381.30,356.19 L381.80,356.18 L382.30,356.18 L382.80,356.18 L383.30,356.17 L383.80,356.17 L384.30,356.16 L384.80,356.16 L385.30,356.16 L385.80,356.15 L386.30,356.15 L386.80,356.15 L387.30,356.14 L387.80,356.14 L388.30,356.14 L388.80,356.13 L389.30,356.13 L389.80,356.13 L390.30,356.13 L390.80,356.12 L391.30,356.12 L391.80,356.12 L392.30,356.12 L392.80,356.11 L393.30,356.11 L393.80,356.11 L394.30,356.11 L394.80,356.11 L395.30,356.11 L395.80,356.10 L396.30,356.10 L396.80,356.10 L397.30,356.10 L397.80,356.10 L398.30,356.10 L398.80,356.10 L399.30,356.10 L399.80,356.10 L400.30,356.10 L400.80,356.10 L401.30,356.10 L401.80,356.10 L402.30,356.10 L402.80,356.10 L403.30,356.10 L403.80,356.10 L404.30,356.11 L404.80,356.11 L405.30,356.11 L405.80,356.11 L406.30,356.11 L406.80,356.11 L407.30,356.11 L407.80,356.12 L408.30,356.12 L408.80,356.12 L409.30,356.12 L409.80,356.13 L410.30,356.13 L410.80,356.13 L411.30,356.13 L411.80,356.14 L412.30,356.14 L412.80,356.14 L413.30,356.15 L413.80,356.15 L414.30,356.15 L414.80,356.16 L415.30,356.16 L415.80,356.16 L416.30,356.17 L416.80,356.17 L417.30,356.18 L417.80,356.18 L418.30,356.18 L418.80,356.19 L419.30,356.19 L419.80,356.20 L420.30,356.20 L420.80,356.21 L421.30,356.21 L421.80,356.22 L422.30,356.22 L422.80,356.23 L423.30,356.23 L423.80,356.23 L424.30,356.24 L424.80,356.24 L425.30,356.25 L425.80,356.25 L426.30,356.26 L426.80,356.26 L427.30,356.27 L427.80,356.27 L428.30,356.28 L428.80,356.28 L429.30,356.29 L429.80,356.29 L430.30,356.30 L430.80,356.30 L431.30,356.31 L431.80,356.31 L432.30,356.32 L432.80,356.32 L433.30,356.33 L433.80,356.33 L434.30,356.34 L434.80,356.34 L435.30,356.35 L435.80,356.35 L436.30,356.36 L436.80,356.36 L437.30,356.37 L437.80,356.37 L438.30,356.38 L438.80,356.38 L439.30,356.39 L439.80,356.39 L440.30,356.40 L440.80,356.40 L441.30,356.41 L441.80,356.41 L442.30,356.41 L442.80,356.42 L443.30,356.42 L443.80,356.43 L444.30,356.43 L444.80,356.44 L445.30,356.44 L445.80,356.44 L446.30,356.45 L446.80,356.45 L447.30,356.46 L447.80,356.46 L448.30,356.46 L448.80,356.47 L449.30,356.47 L449.80,356.47 L450.30,356.48 L450.80,356.48 L451.30,356.48 L451.80,356.49 L452.30,356.49 L452.80,356.49 L453.30,356.50 L453.80,356.50 L454.30,356.50 L454.80,356.51 L455.30,356.51 L455.80,356.51 L456.30,356.51 L456.40,356.60 Z" fill="#ee9aac" stroke="none" stroke-width="0" fill-opacity="0.6"/>
<path d="M302.30,356.60 L302.80,356.60 L303.30,356.60 L303.80,356.60 L304.30,356.60 L304.80,356.60 L305.30,356.60 L305.80,356.60 L306.30,356.60 L306.80,356.60 L307.30,356.60 L307.80,356.60 L308.30,356.60 L308.80,356.60 L309.30,356.59 L309.80,356.59 L310.30,356.59 L310.80,356.59 L311.30,356.59 L311.80,356.59 L312.30,356.59 L312.80,356.59 L313.30,356.59 L313.80,356.58 L314.30,356.58 L314.80,356.57 L315.30,356.55 L315.80,356.53 L316.30,356.51 L316.80,356.47 L317.30,356.43 L317.80,356.38 L318.30,356.31 L318.80,356.24 L319.30,356.17 L319.80,356.08 L320.30,356.00 L320.80,355.93 L321.30,355.87 L321.80,355.82 L322.30,355.79 L322.80,355.78 L323.30,355.80 L323.80,355.83 L324.30,355.89 L324.80,355.95 L325.30,356.03 L325.80,356.11 L326.30,356.19 L326.80,356.26 L327.30,356.33 L327.80,356.38 L328.30,356.43 L328.80,356.47 L329.30,356.49 L329.80,356.51 L330.30,356.52 L330.80,356.53 L331.30,356.53 L331.80,356.52 L332.30,356.51 L332.80,356.50 L333.30,356.47 L333.80,356.44 L334.30,356.40 L334.80,356.34 L335.30,356.27 L335.80,356.17 L336.30,356.06 L336.80,355.91 L337.30,355.73 L337.80,355.51 L338.30,355.24 L338.80,354.90 L339.30,354.60 L339.80,353.90 L340.30,353.75 L340.80,352.99 L341.30,352.42 L341.80,351.73 L342.30,350.66 L342.80,350.07 L343.30,348.98 L343.80,348.01 L344.30,347.36 L344.80,346.40 L345.30,345.36 L345.80,344.38 L346.30,343.47 L346.80,342.51 L347.30,341.78 L347.80,341.49 L348.30,340.96 L348.80,340.65 L349.30,340.31 L349.80,340.69 L350.30,340.81 L350.80,341.17 L351.30,341.41 L351.80,341.88 L352.30,342.97 L352.80,343.39 L353.30,344.55 L353.80,345.33 L354.30,346.18 L354.80,347.46 L355.30,348.47 L355.80,349.30 L356.30,350.14 L356.80,350.92 L357.30,351.73 L357.80,352.40 L358.30,353.18 L358.80,353.62 L359.30,354.04 L359.80,354.30 L360.30,355.01 L360.80,355.14 L361.30,355.39 L361.80,355.60 L362.30,355.77 L362.80,355.90 L363.30,356.01 L363.80,356.09 L364.30,356.15 L364.80,356.20 L365.30,356.24 L365.80,356.26 L366.30,356.28 L366.80,356.29 L367.30,356.30 L367.80,356.30 L368.30,356.30 L368.80,356.30 L369.30,356.30 L369.80,356.29 L370.30,356.29 L370.80,356.29 L371.30,356.28 L371.80,356.28 L372.30,356.27 L372.80,356.27 L373.30,356.26 L373.80,356.26 L374.30,356.25 L374.80,356.25 L375.30,356.24 L375.80,356.24 L376.30,356.23 L376.80,356.23 L377.30,356.22 L377.80,356.22 L378.30,356.22 L378.80,356.21 L379.30,356.21 L379.80,356.20 L380.30,356.20 L380.80,356.19 L381.30,356.19 L381.80,356.18 L382.30,356.18 L382.80,356.18 L383.30,356.17 L383.80,356.17 L384.30,356.16 L384.80,356.16 L385.30,356.16 L385.80,356.15 L386.30,356.15 L386.80,356.15 L387.30,356.14 L387.80,356.14 L388.30,356.14 L388.80,356.13 L389.30,356.13 L389.80,356.13 L390.30,356.13 L390.80,356.12 L391.30,356.12 L391.80,356.12 L392.30,356.12 L392.80,356.11 L393.30,356.11 L393.80,356.11 L394.30,356.11 L394.80,356.11 L395.30,356.11 L395.80,356.10 L396.30,356.10 L396.80,356.10 L397.30,356.10 L397.80,356.10 L398.30,356.10 L398.80,356.10 L399.30,356.10 L399.80,356.10 L400.30,356.10 L400.80,356.10 L401.30,356.10 L401.80,356.10 L402.30,356.10 L402.80,356.10 L403.30,356.10 L403.80,356.10 L404.30,356.11 L404.80,356.11 L405.30,356.11 L405.80,356.11 L406.30,356.11 L406.80,356.11 L407.30,356.11 L407.80,356.12 L408.30,356.12 L408.80,356.12 L409.30,356.12 L409.80,356.13 L410.30,356.13 L410.80,356.13 L411.30,356.13 L411.80,356.14 L412.30,356.14 L412.80,356.14 L413.30,356.15 L413.80,356.15 L414.30,356.15 L414.80,356.16 L415.30,356.16 L415.80,356.16 L416.30,356.17 L416.80,356.17 L417.30,356.18 L417.80,356.18 L418.30,356.18 L418.80,356.19 L419.30,356.19 L419.80,356.20 L420.30,356.20 L420.80,356.21 L421.30,356.21 L421.80,356.22 L422.30,356.22 L422.80,356.23 L423.30,356.23 L423.80,356.23 L424.30,356.24 L424.80,356.24 L425.30,356.25 L425.80,356.25 L426.30,356.26 L426.80,356.26 L427.30,356.27 L427.80,356.27 L428.30,356.28 L428.80,356.28 L429.30,356.29 L429.80,356.29 L430.30,356.30 L430.80,356.30 L431.30,356.31 L431.80,356.31 L432.30,356.32 L432.80,356.32 L433.30,356.33 L433.80,356.33 L434.30,356.34 L434.80,356.34 L435.30,356.35 L435.80,356.35 L436.30,356.36 L436.80,356.36 L437.30,356.37 L437.80,356.37 L438.30,356.38 L438.80,356.38 L439.30,356.39 L439.80,356.39 L440.30,356.40 L440.80,356.40 L441.30,356.41 L441.80,356.41 L442.30,356.41 L442.80,356.42 L443.30,356.42 L443.80,356.43 L444.30,356.43 L444.80,356.44 L445.30,356.44 L445.80,356.44 L446.30,356.45 L446.80,356.45 L447.30,356.46 L447.80,356.46 L448.30,356.46 L448.80,356.47 L449.30,356.47 L449.80,356.47 L450.30,356.48 L450.80,356.48 L451.30,356.48 L451.80,356.49 L452.30,356.49 L452.80,356.49 L453.30,356.50 L453.80,356.50 L454.30,356.50 L454.80,356.51 L455.30,356.51 L455.80,356.51 L456.30,356.51" fill="none" stroke="#c0304f" stroke-width="1.15" stroke-linejoin="round"/>
<path d="M302.30,367.20 L302.30,367.20 L302.80,367.20 L303.30,367.20 L303.80,367.20 L304.30,367.20 L304.80,367.20 L305.30,367.20 L305.80,367.20 L306.30,367.20 L306.80,367.20 L307.30,367.20 L307.80,367.20 L308.30,367.20 L308.80,367.20 L309.30,367.20 L309.80,367.20 L310.30,367.20 L310.80,367.20 L311.30,367.20 L311.80,367.20 L312.30,367.20 L312.80,367.20 L313.30,367.20 L313.80,367.20 L314.30,367.20 L314.80,367.20 L315.30,367.20 L315.80,367.20 L316.30,367.20 L316.80,367.20 L317.30,367.20 L317.80,367.20 L318.30,367.20 L318.80,367.20 L319.30,367.20 L319.80,367.20 L320.30,367.20 L320.80,367.20 L321.30,367.20 L321.80,367.20 L322.30,367.20 L322.80,367.20 L323.30,367.20 L323.80,367.20 L324.30,367.20 L324.80,367.19 L325.30,367.19 L325.80,367.19 L326.30,367.19 L326.80,367.19 L327.30,367.19 L327.80,367.19 L328.30,367.19 L328.80,367.18 L329.30,367.18 L329.80,367.18 L330.30,367.18 L330.80,367.17 L331.30,367.17 L331.80,367.17 L332.30,367.16 L332.80,367.16 L333.30,367.15 L333.80,367.15 L334.30,367.14 L334.80,367.13 L335.30,367.12 L335.80,367.11 L336.30,367.10 L336.80,367.08 L337.30,367.06 L337.80,367.04 L338.30,367.01 L338.80,366.97 L339.30,366.92 L339.80,366.87 L340.30,366.79 L340.80,366.70 L341.30,366.60 L341.80,366.47 L342.30,366.32 L342.80,366.14 L343.30,365.94 L343.80,365.73 L344.30,365.32 L344.80,365.21 L345.30,364.81 L345.80,364.73 L346.30,364.49 L346.80,364.24 L347.30,363.83 L347.80,363.86 L348.30,363.44 L348.80,363.34 L349.30,363.40 L349.80,363.24 L350.30,363.34 L350.80,363.54 L351.30,363.55 L351.80,363.83 L352.30,363.98 L352.80,363.86 L353.30,364.33 L353.80,364.29 L354.30,364.59 L354.80,364.71 L355.30,365.14 L355.80,365.16 L356.30,365.48 L356.80,365.27 L357.30,365.64 L357.80,365.53 L358.30,365.44 L358.80,365.79 L359.30,365.77 L359.80,365.71 L360.30,365.72 L360.80,365.72 L361.30,365.72 L361.80,365.70 L362.30,365.88 L362.80,365.68 L363.30,365.75 L363.80,365.65 L364.30,365.40 L364.80,365.33 L365.30,365.36 L365.80,365.34 L366.30,365.09 L366.80,365.15 L367.30,364.73 L367.80,364.38 L368.30,364.04 L368.80,363.70 L369.30,363.27 L369.80,362.51 L370.30,361.88 L370.80,360.82 L371.30,359.71 L371.80,358.68 L372.30,357.68 L372.80,356.74 L373.30,355.24 L373.80,354.26 L374.30,353.04 L374.80,352.11 L375.30,351.06 L375.80,350.02 L376.30,349.47 L376.80,349.26 L377.30,348.68 L377.80,348.91 L378.30,349.02 L378.80,349.46 L379.30,350.47 L379.80,351.08 L380.30,352.15 L380.80,353.32 L381.30,354.37 L381.80,355.86 L382.30,356.90 L382.80,358.17 L383.30,359.33 L383.80,360.49 L384.30,361.54 L384.80,362.46 L385.30,363.25 L385.80,363.93 L386.30,364.55 L386.80,365.13 L387.30,365.72 L387.80,365.90 L388.30,366.18 L388.80,366.40 L389.30,366.58 L389.80,366.71 L390.30,366.81 L390.80,366.89 L391.30,366.95 L391.80,367.00 L392.30,367.04 L392.80,367.06 L393.30,367.08 L393.80,367.10 L394.30,367.11 L394.80,367.13 L395.30,367.13 L395.80,367.14 L396.30,367.15 L396.80,367.15 L397.30,367.16 L397.80,367.16 L398.30,367.17 L398.80,367.17 L399.30,367.17 L399.80,367.18 L400.30,367.18 L400.80,367.18 L401.30,367.18 L401.80,367.19 L402.30,367.19 L402.80,367.19 L403.30,367.19 L403.80,367.19 L404.30,367.19 L404.80,367.19 L405.30,367.19 L405.80,367.20 L406.30,367.20 L406.80,367.20 L407.30,367.20 L407.80,367.20 L408.30,367.20 L408.80,367.20 L409.30,367.20 L409.80,367.20 L410.30,367.20 L410.80,367.20 L411.30,367.20 L411.80,367.20 L412.30,367.20 L412.80,367.20 L413.30,367.20 L413.80,367.20 L414.30,367.20 L414.80,367.20 L415.30,367.20 L415.80,367.20 L416.30,367.20 L416.80,367.20 L417.30,367.20 L417.80,367.20 L418.30,367.20 L418.80,367.20 L419.30,367.20 L419.80,367.20 L420.30,367.20 L420.80,367.20 L421.30,367.20 L421.80,367.20 L422.30,367.20 L422.80,367.20 L423.30,367.20 L423.80,367.20 L424.30,367.20 L424.80,367.20 L425.30,367.20 L425.80,367.20 L426.30,367.20 L426.80,367.20 L427.30,367.20 L427.80,367.20 L428.30,367.20 L428.80,367.20 L429.30,367.20 L429.80,367.20 L430.30,367.20 L430.80,367.20 L431.30,367.20 L431.80,367.20 L432.30,367.20 L432.80,367.20 L433.30,367.20 L433.80,367.20 L434.30,367.20 L434.80,367.20 L435.30,367.20 L435.80,367.20 L436.30,367.20 L436.80,367.20 L437.30,367.20 L437.80,367.20 L438.30,367.20 L438.80,367.20 L439.30,367.20 L439.80,367.20 L440.30,367.20 L440.80,367.20 L441.30,367.20 L441.80,367.20 L442.30,367.20 L442.80,367.20 L443.30,367.20 L443.80,367.20 L444.30,367.20 L444.80,367.20 L445.30,367.20 L445.80,367.20 L446.30,367.20 L446.80,367.20 L447.30,367.20 L447.80,367.20 L448.30,367.20 L448.80,367.20 L449.30,367.20 L449.80,367.20 L450.30,367.20 L450.80,367.20 L451.30,367.20 L451.80,367.20 L452.30,367.20 L452.80,367.20 L453.30,367.20 L453.80,367.20 L454.30,367.20 L454.80,367.20 L455.30,367.20 L455.80,367.20 L456.30,367.20 L456.40,367.20 Z" fill="#bfa0cc" stroke="none" stroke-width="0" fill-opacity="0.6"/>
<path d="M302.30,367.20 L302.80,367.20 L303.30,367.20 L303.80,367.20 L304.30,367.20 L304.80,367.20 L305.30,367.20 L305.80,367.20 L306.30,367.20 L306.80,367.20 L307.30,367.20 L307.80,367.20 L308.30,367.20 L308.80,367.20 L309.30,367.20 L309.80,367.20 L310.30,367.20 L310.80,367.20 L311.30,367.20 L311.80,367.20 L312.30,367.20 L312.80,367.20 L313.30,367.20 L313.80,367.20 L314.30,367.20 L314.80,367.20 L315.30,367.20 L315.80,367.20 L316.30,367.20 L316.80,367.20 L317.30,367.20 L317.80,367.20 L318.30,367.20 L318.80,367.20 L319.30,367.20 L319.80,367.20 L320.30,367.20 L320.80,367.20 L321.30,367.20 L321.80,367.20 L322.30,367.20 L322.80,367.20 L323.30,367.20 L323.80,367.20 L324.30,367.20 L324.80,367.19 L325.30,367.19 L325.80,367.19 L326.30,367.19 L326.80,367.19 L327.30,367.19 L327.80,367.19 L328.30,367.19 L328.80,367.18 L329.30,367.18 L329.80,367.18 L330.30,367.18 L330.80,367.17 L331.30,367.17 L331.80,367.17 L332.30,367.16 L332.80,367.16 L333.30,367.15 L333.80,367.15 L334.30,367.14 L334.80,367.13 L335.30,367.12 L335.80,367.11 L336.30,367.10 L336.80,367.08 L337.30,367.06 L337.80,367.04 L338.30,367.01 L338.80,366.97 L339.30,366.92 L339.80,366.87 L340.30,366.79 L340.80,366.70 L341.30,366.60 L341.80,366.47 L342.30,366.32 L342.80,366.14 L343.30,365.94 L343.80,365.73 L344.30,365.32 L344.80,365.21 L345.30,364.81 L345.80,364.73 L346.30,364.49 L346.80,364.24 L347.30,363.83 L347.80,363.86 L348.30,363.44 L348.80,363.34 L349.30,363.40 L349.80,363.24 L350.30,363.34 L350.80,363.54 L351.30,363.55 L351.80,363.83 L352.30,363.98 L352.80,363.86 L353.30,364.33 L353.80,364.29 L354.30,364.59 L354.80,364.71 L355.30,365.14 L355.80,365.16 L356.30,365.48 L356.80,365.27 L357.30,365.64 L357.80,365.53 L358.30,365.44 L358.80,365.79 L359.30,365.77 L359.80,365.71 L360.30,365.72 L360.80,365.72 L361.30,365.72 L361.80,365.70 L362.30,365.88 L362.80,365.68 L363.30,365.75 L363.80,365.65 L364.30,365.40 L364.80,365.33 L365.30,365.36 L365.80,365.34 L366.30,365.09 L366.80,365.15 L367.30,364.73 L367.80,364.38 L368.30,364.04 L368.80,363.70 L369.30,363.27 L369.80,362.51 L370.30,361.88 L370.80,360.82 L371.30,359.71 L371.80,358.68 L372.30,357.68 L372.80,356.74 L373.30,355.24 L373.80,354.26 L374.30,353.04 L374.80,352.11 L375.30,351.06 L375.80,350.02 L376.30,349.47 L376.80,349.26 L377.30,348.68 L377.80,348.91 L378.30,349.02 L378.80,349.46 L379.30,350.47 L379.80,351.08 L380.30,352.15 L380.80,353.32 L381.30,354.37 L381.80,355.86 L382.30,356.90 L382.80,358.17 L383.30,359.33 L383.80,360.49 L384.30,361.54 L384.80,362.46 L385.30,363.25 L385.80,363.93 L386.30,364.55 L386.80,365.13 L387.30,365.72 L387.80,365.90 L388.30,366.18 L388.80,366.40 L389.30,366.58 L389.80,366.71 L390.30,366.81 L390.80,366.89 L391.30,366.95 L391.80,367.00 L392.30,367.04 L392.80,367.06 L393.30,367.08 L393.80,367.10 L394.30,367.11 L394.80,367.13 L395.30,367.13 L395.80,367.14 L396.30,367.15 L396.80,367.15 L397.30,367.16 L397.80,367.16 L398.30,367.17 L398.80,367.17 L399.30,367.17 L399.80,367.18 L400.30,367.18 L400.80,367.18 L401.30,367.18 L401.80,367.19 L402.30,367.19 L402.80,367.19 L403.30,367.19 L403.80,367.19 L404.30,367.19 L404.80,367.19 L405.30,367.19 L405.80,367.20 L406.30,367.20 L406.80,367.20 L407.30,367.20 L407.80,367.20 L408.30,367.20 L408.80,367.20 L409.30,367.20 L409.80,367.20 L410.30,367.20 L410.80,367.20 L411.30,367.20 L411.80,367.20 L412.30,367.20 L412.80,367.20 L413.30,367.20 L413.80,367.20 L414.30,367.20 L414.80,367.20 L415.30,367.20 L415.80,367.20 L416.30,367.20 L416.80,367.20 L417.30,367.20 L417.80,367.20 L418.30,367.20 L418.80,367.20 L419.30,367.20 L419.80,367.20 L420.30,367.20 L420.80,367.20 L421.30,367.20 L421.80,367.20 L422.30,367.20 L422.80,367.20 L423.30,367.20 L423.80,367.20 L424.30,367.20 L424.80,367.20 L425.30,367.20 L425.80,367.20 L426.30,367.20 L426.80,367.20 L427.30,367.20 L427.80,367.20 L428.30,367.20 L428.80,367.20 L429.30,367.20 L429.80,367.20 L430.30,367.20 L430.80,367.20 L431.30,367.20 L431.80,367.20 L432.30,367.20 L432.80,367.20 L433.30,367.20 L433.80,367.20 L434.30,367.20 L434.80,367.20 L435.30,367.20 L435.80,367.20 L436.30,367.20 L436.80,367.20 L437.30,367.20 L437.80,367.20 L438.30,367.20 L438.80,367.20 L439.30,367.20 L439.80,367.20 L440.30,367.20 L440.80,367.20 L441.30,367.20 L441.80,367.20 L442.30,367.20 L442.80,367.20 L443.30,367.20 L443.80,367.20 L444.30,367.20 L444.80,367.20 L445.30,367.20 L445.80,367.20 L446.30,367.20 L446.80,367.20 L447.30,367.20 L447.80,367.20 L448.30,367.20 L448.80,367.20 L449.30,367.20 L449.80,367.20 L450.30,367.20 L450.80,367.20 L451.30,367.20 L451.80,367.20 L452.30,367.20 L452.80,367.20 L453.30,367.20 L453.80,367.20 L454.30,367.20 L454.80,367.20 L455.30,367.20 L455.80,367.20 L456.30,367.20" fill="none" stroke="#6e3272" stroke-width="1.15" stroke-linejoin="round"/>
<path d="M302.30,378.20 L302.30,378.20 L302.80,378.20 L303.30,378.20 L303.80,378.20 L304.30,378.20 L304.80,378.20 L305.30,378.20 L305.80,378.20 L306.30,378.20 L306.80,378.20 L307.30,378.20 L307.80,378.20 L308.30,378.20 L308.80,378.20 L309.30,378.20 L309.80,378.20 L310.30,378.20 L310.80,378.20 L311.30,378.20 L311.80,378.20 L312.30,378.20 L312.80,378.20 L313.30,378.20 L313.80,378.20 L314.30,378.20 L314.80,378.20 L315.30,378.20 L315.80,378.20 L316.30,378.20 L316.80,378.20 L317.30,378.20 L317.80,378.20 L318.30,378.20 L318.80,378.20 L319.30,378.20 L319.80,378.20 L320.30,378.19 L320.80,378.19 L321.30,378.19 L321.80,378.19 L322.30,378.19 L322.80,378.19 L323.30,378.18 L323.80,378.18 L324.30,378.17 L324.80,378.17 L325.30,378.16 L325.80,378.16 L326.30,378.15 L326.80,378.14 L327.30,378.13 L327.80,378.12 L328.30,378.10 L328.80,378.08 L329.30,378.07 L329.80,378.04 L330.30,378.02 L330.80,377.99 L331.30,377.96 L331.80,377.93 L332.30,377.89 L332.80,377.85 L333.30,377.81 L333.80,377.76 L334.30,377.70 L334.80,377.64 L335.30,377.58 L335.80,377.51 L336.30,377.43 L336.80,377.35 L337.30,377.27 L337.80,377.17 L338.30,377.08 L338.80,376.97 L339.30,376.86 L339.80,376.75 L340.30,376.77 L340.80,376.39 L341.30,376.35 L341.80,376.08 L342.30,375.98 L342.80,375.88 L343.30,375.69 L343.80,375.81 L344.30,375.46 L344.80,375.32 L345.30,375.11 L345.80,374.99 L346.30,374.76 L346.80,374.51 L347.30,374.16 L347.80,374.28 L348.30,374.11 L348.80,373.79 L349.30,373.70 L349.80,373.38 L350.30,373.25 L350.80,373.12 L351.30,372.92 L351.80,372.73 L352.30,372.44 L352.80,372.11 L353.30,372.06 L353.80,371.66 L354.30,371.78 L354.80,371.55 L355.30,371.36 L355.80,371.07 L356.30,371.08 L356.80,370.83 L357.30,370.76 L357.80,370.47 L358.30,370.31 L358.80,369.90 L359.30,369.83 L359.80,369.52 L360.30,369.38 L360.80,368.92 L361.30,368.28 L361.80,367.86 L362.30,367.19 L362.80,366.71 L363.30,365.95 L363.80,365.41 L364.30,364.67 L364.80,363.97 L365.30,362.94 L365.80,362.43 L366.30,361.61 L366.80,360.86 L367.30,360.53 L367.80,359.95 L368.30,359.91 L368.80,359.82 L369.30,359.87 L369.80,360.09 L370.30,360.72 L370.80,360.97 L371.30,361.91 L371.80,362.68 L372.30,364.02 L372.80,364.76 L373.30,366.25 L373.80,367.26 L374.30,368.31 L374.80,369.33 L375.30,370.54 L375.80,371.72 L376.30,372.64 L376.80,373.48 L377.30,374.12 L377.80,374.72 L378.30,375.52 L378.80,376.05 L379.30,376.55 L379.80,376.80 L380.30,377.10 L380.80,377.34 L381.30,377.53 L381.80,377.68 L382.30,377.80 L382.80,377.90 L383.30,377.97 L383.80,378.03 L384.30,378.07 L384.80,378.10 L385.30,378.12 L385.80,378.14 L386.30,378.16 L386.80,378.17 L387.30,378.17 L387.80,378.18 L388.30,378.19 L388.80,378.19 L389.30,378.19 L389.80,378.19 L390.30,378.19 L390.80,378.20 L391.30,378.20 L391.80,378.20 L392.30,378.20 L392.80,378.20 L393.30,378.20 L393.80,378.20 L394.30,378.20 L394.80,378.20 L395.30,378.20 L395.80,378.20 L396.30,378.20 L396.80,378.20 L397.30,378.20 L397.80,378.20 L398.30,378.20 L398.80,378.20 L399.30,378.20 L399.80,378.20 L400.30,378.20 L400.80,378.20 L401.30,378.20 L401.80,378.20 L402.30,378.20 L402.80,378.20 L403.30,378.20 L403.80,378.20 L404.30,378.20 L404.80,378.20 L405.30,378.20 L405.80,378.20 L406.30,378.20 L406.80,378.20 L407.30,378.20 L407.80,378.20 L408.30,378.20 L408.80,378.20 L409.30,378.20 L409.80,378.20 L410.30,378.20 L410.80,378.20 L411.30,378.20 L411.80,378.20 L412.30,378.20 L412.80,378.20 L413.30,378.20 L413.80,378.20 L414.30,378.20 L414.80,378.20 L415.30,378.20 L415.80,378.20 L416.30,378.20 L416.80,378.20 L417.30,378.20 L417.80,378.20 L418.30,378.20 L418.80,378.20 L419.30,378.20 L419.80,378.20 L420.30,378.20 L420.80,378.20 L421.30,378.20 L421.80,378.20 L422.30,378.20 L422.80,378.20 L423.30,378.20 L423.80,378.20 L424.30,378.20 L424.80,378.20 L425.30,378.20 L425.80,378.20 L426.30,378.20 L426.80,378.20 L427.30,378.20 L427.80,378.20 L428.30,378.20 L428.80,378.20 L429.30,378.20 L429.80,378.20 L430.30,378.20 L430.80,378.20 L431.30,378.20 L431.80,378.20 L432.30,378.20 L432.80,378.20 L433.30,378.20 L433.80,378.20 L434.30,378.20 L434.80,378.20 L435.30,378.20 L435.80,378.20 L436.30,378.20 L436.80,378.20 L437.30,378.20 L437.80,378.20 L438.30,378.20 L438.80,378.20 L439.30,378.20 L439.80,378.20 L440.30,378.20 L440.80,378.20 L441.30,378.20 L441.80,378.20 L442.30,378.20 L442.80,378.20 L443.30,378.20 L443.80,378.20 L444.30,378.20 L444.80,378.20 L445.30,378.20 L445.80,378.20 L446.30,378.20 L446.80,378.20 L447.30,378.20 L447.80,378.20 L448.30,378.20 L448.80,378.20 L449.30,378.20 L449.80,378.20 L450.30,378.20 L450.80,378.20 L451.30,378.20 L451.80,378.20 L452.30,378.20 L452.80,378.20 L453.30,378.20 L453.80,378.20 L454.30,378.20 L454.80,378.20 L455.30,378.20 L455.80,378.20 L456.30,378.20 L456.40,378.20 Z" fill="#939dc4" stroke="none" stroke-width="0" fill-opacity="0.6"/>
<path d="M302.30,378.20 L302.80,378.20 L303.30,378.20 L303.80,378.20 L304.30,378.20 L304.80,378.20 L305.30,378.20 L305.80,378.20 L306.30,378.20 L306.80,378.20 L307.30,378.20 L307.80,378.20 L308.30,378.20 L308.80,378.20 L309.30,378.20 L309.80,378.20 L310.30,378.20 L310.80,378.20 L311.30,378.20 L311.80,378.20 L312.30,378.20 L312.80,378.20 L313.30,378.20 L313.80,378.20 L314.30,378.20 L314.80,378.20 L315.30,378.20 L315.80,378.20 L316.30,378.20 L316.80,378.20 L317.30,378.20 L317.80,378.20 L318.30,378.20 L318.80,378.20 L319.30,378.20 L319.80,378.20 L320.30,378.19 L320.80,378.19 L321.30,378.19 L321.80,378.19 L322.30,378.19 L322.80,378.19 L323.30,378.18 L323.80,378.18 L324.30,378.17 L324.80,378.17 L325.30,378.16 L325.80,378.16 L326.30,378.15 L326.80,378.14 L327.30,378.13 L327.80,378.12 L328.30,378.10 L328.80,378.08 L329.30,378.07 L329.80,378.04 L330.30,378.02 L330.80,377.99 L331.30,377.96 L331.80,377.93 L332.30,377.89 L332.80,377.85 L333.30,377.81 L333.80,377.76 L334.30,377.70 L334.80,377.64 L335.30,377.58 L335.80,377.51 L336.30,377.43 L336.80,377.35 L337.30,377.27 L337.80,377.17 L338.30,377.08 L338.80,376.97 L339.30,376.86 L339.80,376.75 L340.30,376.77 L340.80,376.39 L341.30,376.35 L341.80,376.08 L342.30,375.98 L342.80,375.88 L343.30,375.69 L343.80,375.81 L344.30,375.46 L344.80,375.32 L345.30,375.11 L345.80,374.99 L346.30,374.76 L346.80,374.51 L347.30,374.16 L347.80,374.28 L348.30,374.11 L348.80,373.79 L349.30,373.70 L349.80,373.38 L350.30,373.25 L350.80,373.12 L351.30,372.92 L351.80,372.73 L352.30,372.44 L352.80,372.11 L353.30,372.06 L353.80,371.66 L354.30,371.78 L354.80,371.55 L355.30,371.36 L355.80,371.07 L356.30,371.08 L356.80,370.83 L357.30,370.76 L357.80,370.47 L358.30,370.31 L358.80,369.90 L359.30,369.83 L359.80,369.52 L360.30,369.38 L360.80,368.92 L361.30,368.28 L361.80,367.86 L362.30,367.19 L362.80,366.71 L363.30,365.95 L363.80,365.41 L364.30,364.67 L364.80,363.97 L365.30,362.94 L365.80,362.43 L366.30,361.61 L366.80,360.86 L367.30,360.53 L367.80,359.95 L368.30,359.91 L368.80,359.82 L369.30,359.87 L369.80,360.09 L370.30,360.72 L370.80,360.97 L371.30,361.91 L371.80,362.68 L372.30,364.02 L372.80,364.76 L373.30,366.25 L373.80,367.26 L374.30,368.31 L374.80,369.33 L375.30,370.54 L375.80,371.72 L376.30,372.64 L376.80,373.48 L377.30,374.12 L377.80,374.72 L378.30,375.52 L378.80,376.05 L379.30,376.55 L379.80,376.80 L380.30,377.10 L380.80,377.34 L381.30,377.53 L381.80,377.68 L382.30,377.80 L382.80,377.90 L383.30,377.97 L383.80,378.03 L384.30,378.07 L384.80,378.10 L385.30,378.12 L385.80,378.14 L386.30,378.16 L386.80,378.17 L387.30,378.17 L387.80,378.18 L388.30,378.19 L388.80,378.19 L389.30,378.19 L389.80,378.19 L390.30,378.19 L390.80,378.20 L391.30,378.20 L391.80,378.20 L392.30,378.20 L392.80,378.20 L393.30,378.20 L393.80,378.20 L394.30,378.20 L394.80,378.20 L395.30,378.20 L395.80,378.20 L396.30,378.20 L396.80,378.20 L397.30,378.20 L397.80,378.20 L398.30,378.20 L398.80,378.20 L399.30,378.20 L399.80,378.20 L400.30,378.20 L400.80,378.20 L401.30,378.20 L401.80,378.20 L402.30,378.20 L402.80,378.20 L403.30,378.20 L403.80,378.20 L404.30,378.20 L404.80,378.20 L405.30,378.20 L405.80,378.20 L406.30,378.20 L406.80,378.20 L407.30,378.20 L407.80,378.20 L408.30,378.20 L408.80,378.20 L409.30,378.20 L409.80,378.20 L410.30,378.20 L410.80,378.20 L411.30,378.20 L411.80,378.20 L412.30,378.20 L412.80,378.20 L413.30,378.20 L413.80,378.20 L414.30,378.20 L414.80,378.20 L415.30,378.20 L415.80,378.20 L416.30,378.20 L416.80,378.20 L417.30,378.20 L417.80,378.20 L418.30,378.20 L418.80,378.20 L419.30,378.20 L419.80,378.20 L420.30,378.20 L420.80,378.20 L421.30,378.20 L421.80,378.20 L422.30,378.20 L422.80,378.20 L423.30,378.20 L423.80,378.20 L424.30,378.20 L424.80,378.20 L425.30,378.20 L425.80,378.20 L426.30,378.20 L426.80,378.20 L427.30,378.20 L427.80,378.20 L428.30,378.20 L428.80,378.20 L429.30,378.20 L429.80,378.20 L430.30,378.20 L430.80,378.20 L431.30,378.20 L431.80,378.20 L432.30,378.20 L432.80,378.20 L433.30,378.20 L433.80,378.20 L434.30,378.20 L434.80,378.20 L435.30,378.20 L435.80,378.20 L436.30,378.20 L436.80,378.20 L437.30,378.20 L437.80,378.20 L438.30,378.20 L438.80,378.20 L439.30,378.20 L439.80,378.20 L440.30,378.20 L440.80,378.20 L441.30,378.20 L441.80,378.20 L442.30,378.20 L442.80,378.20 L443.30,378.20 L443.80,378.20 L444.30,378.20 L444.80,378.20 L445.30,378.20 L445.80,378.20 L446.30,378.20 L446.80,378.20 L447.30,378.20 L447.80,378.20 L448.30,378.20 L448.80,378.20 L449.30,378.20 L449.80,378.20 L450.30,378.20 L450.80,378.20 L451.30,378.20 L451.80,378.20 L452.30,378.20 L452.80,378.20 L453.30,378.20 L453.80,378.20 L454.30,378.20 L454.80,378.20 L455.30,378.20 L455.80,378.20 L456.30,378.20" fill="none" stroke="#27365f" stroke-width="1.15" stroke-linejoin="round"/>
<path d="M302.30,389.20 L302.30,389.20 L302.80,389.20 L303.30,389.20 L303.80,389.20 L304.30,389.20 L304.80,389.20 L305.30,389.20 L305.80,389.20 L306.30,389.20 L306.80,389.20 L307.30,389.20 L307.80,389.20 L308.30,389.20 L308.80,389.20 L309.30,389.20 L309.80,389.20 L310.30,389.20 L310.80,389.20 L311.30,389.20 L311.80,389.20 L312.30,389.20 L312.80,389.20 L313.30,389.20 L313.80,389.20 L314.30,389.20 L314.80,389.20 L315.30,389.20 L315.80,389.20 L316.30,389.20 L316.80,389.20 L317.30,389.20 L317.80,389.20 L318.30,389.20 L318.80,389.20 L319.30,389.20 L319.80,389.20 L320.30,389.20 L320.80,389.20 L321.30,389.20 L321.80,389.20 L322.30,389.20 L322.80,389.19 L323.30,389.19 L323.80,389.19 L324.30,389.19 L324.80,389.19 L325.30,389.18 L325.80,389.18 L326.30,389.18 L326.80,389.17 L327.30,389.17 L327.80,389.16 L328.30,389.16 L328.80,389.15 L329.30,389.14 L329.80,389.13 L330.30,389.12 L330.80,389.11 L331.30,389.09 L331.80,389.07 L332.30,389.05 L332.80,389.03 L333.30,389.01 L333.80,388.98 L334.30,388.95 L334.80,388.92 L335.30,388.88 L335.80,388.84 L336.30,388.80 L336.80,388.75 L337.30,388.69 L337.80,388.64 L338.30,388.57 L338.80,388.51 L339.30,388.43 L339.80,388.36 L340.30,388.28 L340.80,388.19 L341.30,388.10 L341.80,388.00 L342.30,387.90 L342.80,387.80 L343.30,388.18 L343.80,387.32 L344.30,387.04 L344.80,387.69 L345.30,387.35 L345.80,386.61 L346.30,386.60 L346.80,386.47 L347.30,386.49 L347.80,386.58 L348.30,386.60 L348.80,386.05 L349.30,386.60 L349.80,386.12 L350.30,385.63 L350.80,386.11 L351.30,385.28 L351.80,385.04 L352.30,385.55 L352.80,385.56 L353.30,385.09 L353.80,384.85 L354.30,385.09 L354.80,384.20 L355.30,384.63 L355.80,384.41 L356.30,384.20 L356.80,384.15 L357.30,383.94 L357.80,383.37 L358.30,383.22 L358.80,383.66 L359.30,382.72 L359.80,382.82 L360.30,382.63 L360.80,382.01 L361.30,382.08 L361.80,381.57 L362.30,381.91 L362.80,381.49 L363.30,381.42 L363.80,381.19 L364.30,380.76 L364.80,380.59 L365.30,379.83 L365.80,379.75 L366.30,379.77 L366.80,379.56 L367.30,379.10 L367.80,378.93 L368.30,378.43 L368.80,377.84 L369.30,377.20 L369.80,376.36 L370.30,375.86 L370.80,375.16 L371.30,374.38 L371.80,372.93 L372.30,371.59 L372.80,371.52 L373.30,370.39 L373.80,369.95 L374.30,368.87 L374.80,369.01 L375.30,369.48 L375.80,369.30 L376.30,370.31 L376.80,370.68 L377.30,372.28 L377.80,373.72 L378.30,374.94 L378.80,376.56 L379.30,378.01 L379.80,379.63 L380.30,381.52 L380.80,382.43 L381.30,383.81 L381.80,384.91 L382.30,385.62 L382.80,386.83 L383.30,387.14 L383.80,387.82 L384.30,387.83 L384.80,388.13 L385.30,388.37 L385.80,388.55 L386.30,388.69 L386.80,388.80 L387.30,388.88 L387.80,388.95 L388.30,389.00 L388.80,389.04 L389.30,389.07 L389.80,389.10 L390.30,389.12 L390.80,389.14 L391.30,389.15 L391.80,389.16 L392.30,389.17 L392.80,389.17 L393.30,389.18 L393.80,389.18 L394.30,389.19 L394.80,389.19 L395.30,389.19 L395.80,389.19 L396.30,389.20 L396.80,389.20 L397.30,389.20 L397.80,389.20 L398.30,389.20 L398.80,389.20 L399.30,389.20 L399.80,389.20 L400.30,389.20 L400.80,389.20 L401.30,389.20 L401.80,389.20 L402.30,389.20 L402.80,389.20 L403.30,389.20 L403.80,389.20 L404.30,389.20 L404.80,389.20 L405.30,389.20 L405.80,389.20 L406.30,389.20 L406.80,389.20 L407.30,389.20 L407.80,389.20 L408.30,389.20 L408.80,389.20 L409.30,389.20 L409.80,389.20 L410.30,389.20 L410.80,389.20 L411.30,389.20 L411.80,389.20 L412.30,389.20 L412.80,389.20 L413.30,389.20 L413.80,389.20 L414.30,389.20 L414.80,389.20 L415.30,389.20 L415.80,389.20 L416.30,389.20 L416.80,389.20 L417.30,389.20 L417.80,389.20 L418.30,389.20 L418.80,389.20 L419.30,389.20 L419.80,389.20 L420.30,389.20 L420.80,389.20 L421.30,389.20 L421.80,389.20 L422.30,389.20 L422.80,389.20 L423.30,389.20 L423.80,389.20 L424.30,389.20 L424.80,389.20 L425.30,389.20 L425.80,389.20 L426.30,389.20 L426.80,389.20 L427.30,389.20 L427.80,389.20 L428.30,389.20 L428.80,389.20 L429.30,389.20 L429.80,389.20 L430.30,389.20 L430.80,389.20 L431.30,389.20 L431.80,389.20 L432.30,389.20 L432.80,389.20 L433.30,389.20 L433.80,389.20 L434.30,389.20 L434.80,389.20 L435.30,389.20 L435.80,389.20 L436.30,389.20 L436.80,389.20 L437.30,389.20 L437.80,389.20 L438.30,389.20 L438.80,389.20 L439.30,389.20 L439.80,389.20 L440.30,389.20 L440.80,389.20 L441.30,389.20 L441.80,389.20 L442.30,389.20 L442.80,389.20 L443.30,389.20 L443.80,389.20 L444.30,389.20 L444.80,389.20 L445.30,389.20 L445.80,389.20 L446.30,389.20 L446.80,389.20 L447.30,389.20 L447.80,389.20 L448.30,389.20 L448.80,389.20 L449.30,389.20 L449.80,389.20 L450.30,389.20 L450.80,389.20 L451.30,389.20 L451.80,389.20 L452.30,389.20 L452.80,389.20 L453.30,389.20 L453.80,389.20 L454.30,389.20 L454.80,389.20 L455.30,389.20 L455.80,389.20 L456.30,389.20 L456.40,389.20 Z" fill="#98cdee" stroke="none" stroke-width="0" fill-opacity="0.6"/>
<path d="M302.30,389.20 L302.80,389.20 L303.30,389.20 L303.80,389.20 L304.30,389.20 L304.80,389.20 L305.30,389.20 L305.80,389.20 L306.30,389.20 L306.80,389.20 L307.30,389.20 L307.80,389.20 L308.30,389.20 L308.80,389.20 L309.30,389.20 L309.80,389.20 L310.30,389.20 L310.80,389.20 L311.30,389.20 L311.80,389.20 L312.30,389.20 L312.80,389.20 L313.30,389.20 L313.80,389.20 L314.30,389.20 L314.80,389.20 L315.30,389.20 L315.80,389.20 L316.30,389.20 L316.80,389.20 L317.30,389.20 L317.80,389.20 L318.30,389.20 L318.80,389.20 L319.30,389.20 L319.80,389.20 L320.30,389.20 L320.80,389.20 L321.30,389.20 L321.80,389.20 L322.30,389.20 L322.80,389.19 L323.30,389.19 L323.80,389.19 L324.30,389.19 L324.80,389.19 L325.30,389.18 L325.80,389.18 L326.30,389.18 L326.80,389.17 L327.30,389.17 L327.80,389.16 L328.30,389.16 L328.80,389.15 L329.30,389.14 L329.80,389.13 L330.30,389.12 L330.80,389.11 L331.30,389.09 L331.80,389.07 L332.30,389.05 L332.80,389.03 L333.30,389.01 L333.80,388.98 L334.30,388.95 L334.80,388.92 L335.30,388.88 L335.80,388.84 L336.30,388.80 L336.80,388.75 L337.30,388.69 L337.80,388.64 L338.30,388.57 L338.80,388.51 L339.30,388.43 L339.80,388.36 L340.30,388.28 L340.80,388.19 L341.30,388.10 L341.80,388.00 L342.30,387.90 L342.80,387.80 L343.30,388.18 L343.80,387.32 L344.30,387.04 L344.80,387.69 L345.30,387.35 L345.80,386.61 L346.30,386.60 L346.80,386.47 L347.30,386.49 L347.80,386.58 L348.30,386.60 L348.80,386.05 L349.30,386.60 L349.80,386.12 L350.30,385.63 L350.80,386.11 L351.30,385.28 L351.80,385.04 L352.30,385.55 L352.80,385.56 L353.30,385.09 L353.80,384.85 L354.30,385.09 L354.80,384.20 L355.30,384.63 L355.80,384.41 L356.30,384.20 L356.80,384.15 L357.30,383.94 L357.80,383.37 L358.30,383.22 L358.80,383.66 L359.30,382.72 L359.80,382.82 L360.30,382.63 L360.80,382.01 L361.30,382.08 L361.80,381.57 L362.30,381.91 L362.80,381.49 L363.30,381.42 L363.80,381.19 L364.30,380.76 L364.80,380.59 L365.30,379.83 L365.80,379.75 L366.30,379.77 L366.80,379.56 L367.30,379.10 L367.80,378.93 L368.30,378.43 L368.80,377.84 L369.30,377.20 L369.80,376.36 L370.30,375.86 L370.80,375.16 L371.30,374.38 L371.80,372.93 L372.30,371.59 L372.80,371.52 L373.30,370.39 L373.80,369.95 L374.30,368.87 L374.80,369.01 L375.30,369.48 L375.80,369.30 L376.30,370.31 L376.80,370.68 L377.30,372.28 L377.80,373.72 L378.30,374.94 L378.80,376.56 L379.30,378.01 L379.80,379.63 L380.30,381.52 L380.80,382.43 L381.30,383.81 L381.80,384.91 L382.30,385.62 L382.80,386.83 L383.30,387.14 L383.80,387.82 L384.30,387.83 L384.80,388.13 L385.30,388.37 L385.80,388.55 L386.30,388.69 L386.80,388.80 L387.30,388.88 L387.80,388.95 L388.30,389.00 L388.80,389.04 L389.30,389.07 L389.80,389.10 L390.30,389.12 L390.80,389.14 L391.30,389.15 L391.80,389.16 L392.30,389.17 L392.80,389.17 L393.30,389.18 L393.80,389.18 L394.30,389.19 L394.80,389.19 L395.30,389.19 L395.80,389.19 L396.30,389.20 L396.80,389.20 L397.30,389.20 L397.80,389.20 L398.30,389.20 L398.80,389.20 L399.30,389.20 L399.80,389.20 L400.30,389.20 L400.80,389.20 L401.30,389.20 L401.80,389.20 L402.30,389.20 L402.80,389.20 L403.30,389.20 L403.80,389.20 L404.30,389.20 L404.80,389.20 L405.30,389.20 L405.80,389.20 L406.30,389.20 L406.80,389.20 L407.30,389.20 L407.80,389.20 L408.30,389.20 L408.80,389.20 L409.30,389.20 L409.80,389.20 L410.30,389.20 L410.80,389.20 L411.30,389.20 L411.80,389.20 L412.30,389.20 L412.80,389.20 L413.30,389.20 L413.80,389.20 L414.30,389.20 L414.80,389.20 L415.30,389.20 L415.80,389.20 L416.30,389.20 L416.80,389.20 L417.30,389.20 L417.80,389.20 L418.30,389.20 L418.80,389.20 L419.30,389.20 L419.80,389.20 L420.30,389.20 L420.80,389.20 L421.30,389.20 L421.80,389.20 L422.30,389.20 L422.80,389.20 L423.30,389.20 L423.80,389.20 L424.30,389.20 L424.80,389.20 L425.30,389.20 L425.80,389.20 L426.30,389.20 L426.80,389.20 L427.30,389.20 L427.80,389.20 L428.30,389.20 L428.80,389.20 L429.30,389.20 L429.80,389.20 L430.30,389.20 L430.80,389.20 L431.30,389.20 L431.80,389.20 L432.30,389.20 L432.80,389.20 L433.30,389.20 L433.80,389.20 L434.30,389.20 L434.80,389.20 L435.30,389.20 L435.80,389.20 L436.30,389.20 L436.80,389.20 L437.30,389.20 L437.80,389.20 L438.30,389.20 L438.80,389.20 L439.30,389.20 L439.80,389.20 L440.30,389.20 L440.80,389.20 L441.30,389.20 L441.80,389.20 L442.30,389.20 L442.80,389.20 L443.30,389.20 L443.80,389.20 L444.30,389.20 L444.80,389.20 L445.30,389.20 L445.80,389.20 L446.30,389.20 L446.80,389.20 L447.30,389.20 L447.80,389.20 L448.30,389.20 L448.80,389.20 L449.30,389.20 L449.80,389.20 L450.30,389.20 L450.80,389.20 L451.30,389.20 L451.80,389.20 L452.30,389.20 L452.80,389.20 L453.30,389.20 L453.80,389.20 L454.30,389.20 L454.80,389.20 L455.30,389.20 L455.80,389.20 L456.30,389.20" fill="none" stroke="#2f8fc4" stroke-width="1.15" stroke-linejoin="round"/>
<path d="M302.30,400.60 L302.30,400.60 L302.80,400.60 L303.30,400.60 L303.80,400.60 L304.30,400.60 L304.80,400.60 L305.30,400.60 L305.80,400.60 L306.30,400.60 L306.80,400.60 L307.30,400.60 L307.80,400.60 L308.30,400.60 L308.80,400.60 L309.30,400.60 L309.80,400.60 L310.30,400.60 L310.80,400.60 L311.30,400.60 L311.80,400.60 L312.30,400.60 L312.80,400.60 L313.30,400.60 L313.80,400.60 L314.30,400.60 L314.80,400.60 L315.30,400.60 L315.80,400.60 L316.30,400.60 L316.80,400.60 L317.30,400.60 L317.80,400.60 L318.30,400.60 L318.80,400.60 L319.30,400.60 L319.80,400.60 L320.30,400.60 L320.80,400.60 L321.30,400.60 L321.80,400.60 L322.30,400.60 L322.80,400.60 L323.30,400.60 L323.80,400.60 L324.30,400.60 L324.80,400.60 L325.30,400.60 L325.80,400.60 L326.30,400.60 L326.80,400.60 L327.30,400.60 L327.80,400.60 L328.30,400.60 L328.80,400.60 L329.30,400.60 L329.80,400.60 L330.30,400.60 L330.80,400.60 L331.30,400.60 L331.80,400.60 L332.30,400.60 L332.80,400.60 L333.30,400.60 L333.80,400.60 L334.30,400.60 L334.80,400.60 L335.30,400.60 L335.80,400.60 L336.30,400.60 L336.80,400.60 L337.30,400.60 L337.80,400.60 L338.30,400.60 L338.80,400.60 L339.30,400.60 L339.80,400.60 L340.30,400.60 L340.80,400.60 L341.30,400.60 L341.80,400.59 L342.30,400.59 L342.80,400.59 L343.30,400.59 L343.80,400.59 L344.30,400.59 L344.80,400.58 L345.30,400.58 L345.80,400.58 L346.30,400.57 L346.80,400.57 L347.30,400.56 L347.80,400.56 L348.30,400.55 L348.80,400.54 L349.30,400.53 L349.80,400.52 L350.30,400.50 L350.80,400.49 L351.30,400.47 L351.80,400.45 L352.30,400.43 L352.80,400.40 L353.30,400.37 L353.80,400.34 L354.30,400.31 L354.80,400.27 L355.30,400.22 L355.80,400.17 L356.30,400.12 L356.80,400.06 L357.30,399.99 L357.80,399.92 L358.30,399.84 L358.80,399.75 L359.30,399.66 L359.80,399.56 L360.30,399.45 L360.80,399.33 L361.30,399.21 L361.80,399.37 L362.30,398.59 L362.80,398.92 L363.30,399.10 L363.80,398.42 L364.30,398.52 L364.80,398.14 L365.30,398.01 L365.80,397.32 L366.30,397.27 L366.80,397.51 L367.30,397.43 L367.80,396.39 L368.30,396.91 L368.80,396.24 L369.30,395.84 L369.80,395.75 L370.30,395.43 L370.80,395.24 L371.30,395.40 L371.80,394.90 L372.30,394.63 L372.80,394.31 L373.30,394.00 L373.80,393.36 L374.30,393.47 L374.80,393.02 L375.30,392.87 L375.80,392.46 L376.30,391.20 L376.80,390.74 L377.30,390.33 L377.80,389.86 L378.30,388.54 L378.80,388.52 L379.30,387.09 L379.80,386.85 L380.30,386.42 L380.80,386.08 L381.30,384.92 L381.80,384.69 L382.30,384.83 L382.80,385.31 L383.30,384.95 L383.80,385.04 L384.30,385.08 L384.80,384.84 L385.30,384.05 L385.80,384.26 L386.30,383.63 L386.80,383.56 L387.30,383.38 L387.80,383.52 L388.30,383.66 L388.80,384.20 L389.30,384.63 L389.80,386.03 L390.30,386.56 L390.80,387.81 L391.30,388.81 L391.80,390.06 L392.30,392.11 L392.80,393.04 L393.30,393.45 L393.80,394.62 L394.30,395.84 L394.80,396.76 L395.30,397.45 L395.80,397.58 L396.30,398.00 L396.80,398.32 L397.30,398.89 L397.80,398.75 L398.30,398.79 L398.80,399.17 L399.30,399.32 L399.80,399.45 L400.30,399.57 L400.80,399.67 L401.30,399.77 L401.80,399.85 L402.30,399.93 L402.80,400.00 L403.30,400.07 L403.80,400.13 L404.30,400.18 L404.80,400.23 L405.30,400.27 L405.80,400.31 L406.30,400.35 L406.80,400.38 L407.30,400.41 L407.80,400.43 L408.30,400.45 L408.80,400.47 L409.30,400.49 L409.80,400.51 L410.30,400.52 L410.80,400.53 L411.30,400.54 L411.80,400.55 L412.30,400.56 L412.80,400.56 L413.30,400.57 L413.80,400.57 L414.30,400.58 L414.80,400.58 L415.30,400.58 L415.80,400.59 L416.30,400.59 L416.80,400.59 L417.30,400.59 L417.80,400.59 L418.30,400.59 L418.80,400.60 L419.30,400.60 L419.80,400.60 L420.30,400.60 L420.80,400.60 L421.30,400.60 L421.80,400.60 L422.30,400.60 L422.80,400.60 L423.30,400.60 L423.80,400.60 L424.30,400.60 L424.80,400.60 L425.30,400.60 L425.80,400.60 L426.30,400.60 L426.80,400.60 L427.30,400.60 L427.80,400.60 L428.30,400.60 L428.80,400.60 L429.30,400.60 L429.80,400.60 L430.30,400.60 L430.80,400.60 L431.30,400.60 L431.80,400.60 L432.30,400.60 L432.80,400.60 L433.30,400.60 L433.80,400.60 L434.30,400.60 L434.80,400.60 L435.30,400.60 L435.80,400.60 L436.30,400.60 L436.80,400.60 L437.30,400.60 L437.80,400.60 L438.30,400.60 L438.80,400.60 L439.30,400.60 L439.80,400.60 L440.30,400.60 L440.80,400.60 L441.30,400.60 L441.80,400.60 L442.30,400.60 L442.80,400.60 L443.30,400.60 L443.80,400.60 L444.30,400.60 L444.80,400.60 L445.30,400.60 L445.80,400.60 L446.30,400.60 L446.80,400.60 L447.30,400.60 L447.80,400.60 L448.30,400.60 L448.80,400.60 L449.30,400.60 L449.80,400.60 L450.30,400.60 L450.80,400.60 L451.30,400.60 L451.80,400.60 L452.30,400.60 L452.80,400.60 L453.30,400.60 L453.80,400.60 L454.30,400.60 L454.80,400.60 L455.30,400.60 L455.80,400.60 L456.30,400.60 L456.40,400.60 Z" fill="#96c4aa" stroke="none" stroke-width="0" fill-opacity="0.6"/>
<path d="M302.30,400.60 L302.80,400.60 L303.30,400.60 L303.80,400.60 L304.30,400.60 L304.80,400.60 L305.30,400.60 L305.80,400.60 L306.30,400.60 L306.80,400.60 L307.30,400.60 L307.80,400.60 L308.30,400.60 L308.80,400.60 L309.30,400.60 L309.80,400.60 L310.30,400.60 L310.80,400.60 L311.30,400.60 L311.80,400.60 L312.30,400.60 L312.80,400.60 L313.30,400.60 L313.80,400.60 L314.30,400.60 L314.80,400.60 L315.30,400.60 L315.80,400.60 L316.30,400.60 L316.80,400.60 L317.30,400.60 L317.80,400.60 L318.30,400.60 L318.80,400.60 L319.30,400.60 L319.80,400.60 L320.30,400.60 L320.80,400.60 L321.30,400.60 L321.80,400.60 L322.30,400.60 L322.80,400.60 L323.30,400.60 L323.80,400.60 L324.30,400.60 L324.80,400.60 L325.30,400.60 L325.80,400.60 L326.30,400.60 L326.80,400.60 L327.30,400.60 L327.80,400.60 L328.30,400.60 L328.80,400.60 L329.30,400.60 L329.80,400.60 L330.30,400.60 L330.80,400.60 L331.30,400.60 L331.80,400.60 L332.30,400.60 L332.80,400.60 L333.30,400.60 L333.80,400.60 L334.30,400.60 L334.80,400.60 L335.30,400.60 L335.80,400.60 L336.30,400.60 L336.80,400.60 L337.30,400.60 L337.80,400.60 L338.30,400.60 L338.80,400.60 L339.30,400.60 L339.80,400.60 L340.30,400.60 L340.80,400.60 L341.30,400.60 L341.80,400.59 L342.30,400.59 L342.80,400.59 L343.30,400.59 L343.80,400.59 L344.30,400.59 L344.80,400.58 L345.30,400.58 L345.80,400.58 L346.30,400.57 L346.80,400.57 L347.30,400.56 L347.80,400.56 L348.30,400.55 L348.80,400.54 L349.30,400.53 L349.80,400.52 L350.30,400.50 L350.80,400.49 L351.30,400.47 L351.80,400.45 L352.30,400.43 L352.80,400.40 L353.30,400.37 L353.80,400.34 L354.30,400.31 L354.80,400.27 L355.30,400.22 L355.80,400.17 L356.30,400.12 L356.80,400.06 L357.30,399.99 L357.80,399.92 L358.30,399.84 L358.80,399.75 L359.30,399.66 L359.80,399.56 L360.30,399.45 L360.80,399.33 L361.30,399.21 L361.80,399.37 L362.30,398.59 L362.80,398.92 L363.30,399.10 L363.80,398.42 L364.30,398.52 L364.80,398.14 L365.30,398.01 L365.80,397.32 L366.30,397.27 L366.80,397.51 L367.30,397.43 L367.80,396.39 L368.30,396.91 L368.80,396.24 L369.30,395.84 L369.80,395.75 L370.30,395.43 L370.80,395.24 L371.30,395.40 L371.80,394.90 L372.30,394.63 L372.80,394.31 L373.30,394.00 L373.80,393.36 L374.30,393.47 L374.80,393.02 L375.30,392.87 L375.80,392.46 L376.30,391.20 L376.80,390.74 L377.30,390.33 L377.80,389.86 L378.30,388.54 L378.80,388.52 L379.30,387.09 L379.80,386.85 L380.30,386.42 L380.80,386.08 L381.30,384.92 L381.80,384.69 L382.30,384.83 L382.80,385.31 L383.30,384.95 L383.80,385.04 L384.30,385.08 L384.80,384.84 L385.30,384.05 L385.80,384.26 L386.30,383.63 L386.80,383.56 L387.30,383.38 L387.80,383.52 L388.30,383.66 L388.80,384.20 L389.30,384.63 L389.80,386.03 L390.30,386.56 L390.80,387.81 L391.30,388.81 L391.80,390.06 L392.30,392.11 L392.80,393.04 L393.30,393.45 L393.80,394.62 L394.30,395.84 L394.80,396.76 L395.30,397.45 L395.80,397.58 L396.30,398.00 L396.80,398.32 L397.30,398.89 L397.80,398.75 L398.30,398.79 L398.80,399.17 L399.30,399.32 L399.80,399.45 L400.30,399.57 L400.80,399.67 L401.30,399.77 L401.80,399.85 L402.30,399.93 L402.80,400.00 L403.30,400.07 L403.80,400.13 L404.30,400.18 L404.80,400.23 L405.30,400.27 L405.80,400.31 L406.30,400.35 L406.80,400.38 L407.30,400.41 L407.80,400.43 L408.30,400.45 L408.80,400.47 L409.30,400.49 L409.80,400.51 L410.30,400.52 L410.80,400.53 L411.30,400.54 L411.80,400.55 L412.30,400.56 L412.80,400.56 L413.30,400.57 L413.80,400.57 L414.30,400.58 L414.80,400.58 L415.30,400.58 L415.80,400.59 L416.30,400.59 L416.80,400.59 L417.30,400.59 L417.80,400.59 L418.30,400.59 L418.80,400.60 L419.30,400.60 L419.80,400.60 L420.30,400.60 L420.80,400.60 L421.30,400.60 L421.80,400.60 L422.30,400.60 L422.80,400.60 L423.30,400.60 L423.80,400.60 L424.30,400.60 L424.80,400.60 L425.30,400.60 L425.80,400.60 L426.30,400.60 L426.80,400.60 L427.30,400.60 L427.80,400.60 L428.30,400.60 L428.80,400.60 L429.30,400.60 L429.80,400.60 L430.30,400.60 L430.80,400.60 L431.30,400.60 L431.80,400.60 L432.30,400.60 L432.80,400.60 L433.30,400.60 L433.80,400.60 L434.30,400.60 L434.80,400.60 L435.30,400.60 L435.80,400.60 L436.30,400.60 L436.80,400.60 L437.30,400.60 L437.80,400.60 L438.30,400.60 L438.80,400.60 L439.30,400.60 L439.80,400.60 L440.30,400.60 L440.80,400.60 L441.30,400.60 L441.80,400.60 L442.30,400.60 L442.80,400.60 L443.30,400.60 L443.80,400.60 L444.30,400.60 L444.80,400.60 L445.30,400.60 L445.80,400.60 L446.30,400.60 L446.80,400.60 L447.30,400.60 L447.80,400.60 L448.30,400.60 L448.80,400.60 L449.30,400.60 L449.80,400.60 L450.30,400.60 L450.80,400.60 L451.30,400.60 L451.80,400.60 L452.30,400.60 L452.80,400.60 L453.30,400.60 L453.80,400.60 L454.30,400.60 L454.80,400.60 L455.30,400.60 L455.80,400.60 L456.30,400.60" fill="none" stroke="#1b5242" stroke-width="1.15" stroke-linejoin="round"/>
<path d="M302.30,411.60 L302.30,411.60 L302.80,411.60 L303.30,411.60 L303.80,411.60 L304.30,411.60 L304.80,411.60 L305.30,411.60 L305.80,411.60 L306.30,411.60 L306.80,411.60 L307.30,411.60 L307.80,411.60 L308.30,411.60 L308.80,411.60 L309.30,411.60 L309.80,411.60 L310.30,411.60 L310.80,411.60 L311.30,411.60 L311.80,411.60 L312.30,411.60 L312.80,411.60 L313.30,411.60 L313.80,411.60 L314.30,411.60 L314.80,411.60 L315.30,411.60 L315.80,411.60 L316.30,411.60 L316.80,411.60 L317.30,411.60 L317.80,411.60 L318.30,411.60 L318.80,411.60 L319.30,411.60 L319.80,411.60 L320.30,411.60 L320.80,411.60 L321.30,411.60 L321.80,411.60 L322.30,411.60 L322.80,411.60 L323.30,411.60 L323.80,411.60 L324.30,411.60 L324.80,411.60 L325.30,411.60 L325.80,411.60 L326.30,411.60 L326.80,411.60 L327.30,411.60 L327.80,411.60 L328.30,411.60 L328.80,411.60 L329.30,411.60 L329.80,411.60 L330.30,411.60 L330.80,411.60 L331.30,411.60 L331.80,411.60 L332.30,411.60 L332.80,411.60 L333.30,411.60 L333.80,411.60 L334.30,411.60 L334.80,411.60 L335.30,411.60 L335.80,411.60 L336.30,411.60 L336.80,411.60 L337.30,411.59 L337.80,411.59 L338.30,411.59 L338.80,411.59 L339.30,411.59 L339.80,411.59 L340.30,411.58 L340.80,411.58 L341.30,411.58 L341.80,411.57 L342.30,411.57 L342.80,411.56 L343.30,411.56 L343.80,411.55 L344.30,411.54 L344.80,411.53 L345.30,411.52 L345.80,411.51 L346.30,411.49 L346.80,411.47 L347.30,411.45 L347.80,411.43 L348.30,411.41 L348.80,411.38 L349.30,411.35 L349.80,411.31 L350.30,411.27 L350.80,411.22 L351.30,411.17 L351.80,411.12 L352.30,411.06 L352.80,410.99 L353.30,410.92 L353.80,410.83 L354.30,410.75 L354.80,410.65 L355.30,410.54 L355.80,410.43 L356.30,410.31 L356.80,410.18 L357.30,410.42 L357.80,410.10 L358.30,409.72 L358.80,409.22 L359.30,409.26 L359.80,408.94 L360.30,408.77 L360.80,408.31 L361.30,408.65 L361.80,408.09 L362.30,408.39 L362.80,407.71 L363.30,408.04 L363.80,407.27 L364.30,406.88 L364.80,407.01 L365.30,406.84 L365.80,405.98 L366.30,405.48 L366.80,405.88 L367.30,405.70 L367.80,405.05 L368.30,405.40 L368.80,404.83 L369.30,404.41 L369.80,404.24 L370.30,404.20 L370.80,404.00 L371.30,403.48 L371.80,403.33 L372.30,402.94 L372.80,402.84 L373.30,402.75 L373.80,401.95 L374.30,402.22 L374.80,402.32 L375.30,401.59 L375.80,401.32 L376.30,400.66 L376.80,400.84 L377.30,399.78 L377.80,399.77 L378.30,399.49 L378.80,398.55 L379.30,397.72 L379.80,397.16 L380.30,396.88 L380.80,395.91 L381.30,395.07 L381.80,394.62 L382.30,394.35 L382.80,393.62 L383.30,393.44 L383.80,393.04 L384.30,392.24 L384.80,392.97 L385.30,393.09 L385.80,393.41 L386.30,393.05 L386.80,394.58 L387.30,394.59 L387.80,395.35 L388.30,397.00 L388.80,397.33 L389.30,398.75 L389.80,399.61 L390.30,400.68 L390.80,402.35 L391.30,403.51 L391.80,404.62 L392.30,405.09 L392.80,405.59 L393.30,406.34 L393.80,407.13 L394.30,407.99 L394.80,408.66 L395.30,409.13 L395.80,408.91 L396.30,409.54 L396.80,410.14 L397.30,410.25 L397.80,410.45 L398.30,410.62 L398.80,410.77 L399.30,410.89 L399.80,410.99 L400.30,411.07 L400.80,411.14 L401.30,411.21 L401.80,411.26 L402.30,411.30 L402.80,411.34 L403.30,411.38 L403.80,411.41 L404.30,411.43 L404.80,411.46 L405.30,411.48 L405.80,411.49 L406.30,411.51 L406.80,411.52 L407.30,411.53 L407.80,411.54 L408.30,411.55 L408.80,411.56 L409.30,411.56 L409.80,411.57 L410.30,411.57 L410.80,411.58 L411.30,411.58 L411.80,411.59 L412.30,411.59 L412.80,411.59 L413.30,411.59 L413.80,411.59 L414.30,411.59 L414.80,411.60 L415.30,411.60 L415.80,411.60 L416.30,411.60 L416.80,411.60 L417.30,411.60 L417.80,411.60 L418.30,411.60 L418.80,411.60 L419.30,411.60 L419.80,411.60 L420.30,411.60 L420.80,411.60 L421.30,411.60 L421.80,411.60 L422.30,411.60 L422.80,411.60 L423.30,411.60 L423.80,411.60 L424.30,411.60 L424.80,411.60 L425.30,411.60 L425.80,411.60 L426.30,411.60 L426.80,411.60 L427.30,411.60 L427.80,411.60 L428.30,411.60 L428.80,411.60 L429.30,411.60 L429.80,411.60 L430.30,411.60 L430.80,411.60 L431.30,411.60 L431.80,411.60 L432.30,411.60 L432.80,411.60 L433.30,411.60 L433.80,411.60 L434.30,411.60 L434.80,411.60 L435.30,411.60 L435.80,411.60 L436.30,411.60 L436.80,411.60 L437.30,411.60 L437.80,411.60 L438.30,411.60 L438.80,411.60 L439.30,411.60 L439.80,411.60 L440.30,411.60 L440.80,411.60 L441.30,411.60 L441.80,411.60 L442.30,411.60 L442.80,411.60 L443.30,411.60 L443.80,411.60 L444.30,411.60 L444.80,411.60 L445.30,411.60 L445.80,411.60 L446.30,411.60 L446.80,411.60 L447.30,411.60 L447.80,411.60 L448.30,411.60 L448.80,411.60 L449.30,411.60 L449.80,411.60 L450.30,411.60 L450.80,411.60 L451.30,411.60 L451.80,411.60 L452.30,411.60 L452.80,411.60 L453.30,411.60 L453.80,411.60 L454.30,411.60 L454.80,411.60 L455.30,411.60 L455.80,411.60 L456.30,411.60 L456.40,411.60 Z" fill="#9ed89e" stroke="none" stroke-width="0" fill-opacity="0.6"/>
<path d="M302.30,411.60 L302.80,411.60 L303.30,411.60 L303.80,411.60 L304.30,411.60 L304.80,411.60 L305.30,411.60 L305.80,411.60 L306.30,411.60 L306.80,411.60 L307.30,411.60 L307.80,411.60 L308.30,411.60 L308.80,411.60 L309.30,411.60 L309.80,411.60 L310.30,411.60 L310.80,411.60 L311.30,411.60 L311.80,411.60 L312.30,411.60 L312.80,411.60 L313.30,411.60 L313.80,411.60 L314.30,411.60 L314.80,411.60 L315.30,411.60 L315.80,411.60 L316.30,411.60 L316.80,411.60 L317.30,411.60 L317.80,411.60 L318.30,411.60 L318.80,411.60 L319.30,411.60 L319.80,411.60 L320.30,411.60 L320.80,411.60 L321.30,411.60 L321.80,411.60 L322.30,411.60 L322.80,411.60 L323.30,411.60 L323.80,411.60 L324.30,411.60 L324.80,411.60 L325.30,411.60 L325.80,411.60 L326.30,411.60 L326.80,411.60 L327.30,411.60 L327.80,411.60 L328.30,411.60 L328.80,411.60 L329.30,411.60 L329.80,411.60 L330.30,411.60 L330.80,411.60 L331.30,411.60 L331.80,411.60 L332.30,411.60 L332.80,411.60 L333.30,411.60 L333.80,411.60 L334.30,411.60 L334.80,411.60 L335.30,411.60 L335.80,411.60 L336.30,411.60 L336.80,411.60 L337.30,411.59 L337.80,411.59 L338.30,411.59 L338.80,411.59 L339.30,411.59 L339.80,411.59 L340.30,411.58 L340.80,411.58 L341.30,411.58 L341.80,411.57 L342.30,411.57 L342.80,411.56 L343.30,411.56 L343.80,411.55 L344.30,411.54 L344.80,411.53 L345.30,411.52 L345.80,411.51 L346.30,411.49 L346.80,411.47 L347.30,411.45 L347.80,411.43 L348.30,411.41 L348.80,411.38 L349.30,411.35 L349.80,411.31 L350.30,411.27 L350.80,411.22 L351.30,411.17 L351.80,411.12 L352.30,411.06 L352.80,410.99 L353.30,410.92 L353.80,410.83 L354.30,410.75 L354.80,410.65 L355.30,410.54 L355.80,410.43 L356.30,410.31 L356.80,410.18 L357.30,410.42 L357.80,410.10 L358.30,409.72 L358.80,409.22 L359.30,409.26 L359.80,408.94 L360.30,408.77 L360.80,408.31 L361.30,408.65 L361.80,408.09 L362.30,408.39 L362.80,407.71 L363.30,408.04 L363.80,407.27 L364.30,406.88 L364.80,407.01 L365.30,406.84 L365.80,405.98 L366.30,405.48 L366.80,405.88 L367.30,405.70 L367.80,405.05 L368.30,405.40 L368.80,404.83 L369.30,404.41 L369.80,404.24 L370.30,404.20 L370.80,404.00 L371.30,403.48 L371.80,403.33 L372.30,402.94 L372.80,402.84 L373.30,402.75 L373.80,401.95 L374.30,402.22 L374.80,402.32 L375.30,401.59 L375.80,401.32 L376.30,400.66 L376.80,400.84 L377.30,399.78 L377.80,399.77 L378.30,399.49 L378.80,398.55 L379.30,397.72 L379.80,397.16 L380.30,396.88 L380.80,395.91 L381.30,395.07 L381.80,394.62 L382.30,394.35 L382.80,393.62 L383.30,393.44 L383.80,393.04 L384.30,392.24 L384.80,392.97 L385.30,393.09 L385.80,393.41 L386.30,393.05 L386.80,394.58 L387.30,394.59 L387.80,395.35 L388.30,397.00 L388.80,397.33 L389.30,398.75 L389.80,399.61 L390.30,400.68 L390.80,402.35 L391.30,403.51 L391.80,404.62 L392.30,405.09 L392.80,405.59 L393.30,406.34 L393.80,407.13 L394.30,407.99 L394.80,408.66 L395.30,409.13 L395.80,408.91 L396.30,409.54 L396.80,410.14 L397.30,410.25 L397.80,410.45 L398.30,410.62 L398.80,410.77 L399.30,410.89 L399.80,410.99 L400.30,411.07 L400.80,411.14 L401.30,411.21 L401.80,411.26 L402.30,411.30 L402.80,411.34 L403.30,411.38 L403.80,411.41 L404.30,411.43 L404.80,411.46 L405.30,411.48 L405.80,411.49 L406.30,411.51 L406.80,411.52 L407.30,411.53 L407.80,411.54 L408.30,411.55 L408.80,411.56 L409.30,411.56 L409.80,411.57 L410.30,411.57 L410.80,411.58 L411.30,411.58 L411.80,411.59 L412.30,411.59 L412.80,411.59 L413.30,411.59 L413.80,411.59 L414.30,411.59 L414.80,411.60 L415.30,411.60 L415.80,411.60 L416.30,411.60 L416.80,411.60 L417.30,411.60 L417.80,411.60 L418.30,411.60 L418.80,411.60 L419.30,411.60 L419.80,411.60 L420.30,411.60 L420.80,411.60 L421.30,411.60 L421.80,411.60 L422.30,411.60 L422.80,411.60 L423.30,411.60 L423.80,411.60 L424.30,411.60 L424.80,411.60 L425.30,411.60 L425.80,411.60 L426.30,411.60 L426.80,411.60 L427.30,411.60 L427.80,411.60 L428.30,411.60 L428.80,411.60 L429.30,411.60 L429.80,411.60 L430.30,411.60 L430.80,411.60 L431.30,411.60 L431.80,411.60 L432.30,411.60 L432.80,411.60 L433.30,411.60 L433.80,411.60 L434.30,411.60 L434.80,411.60 L435.30,411.60 L435.80,411.60 L436.30,411.60 L436.80,411.60 L437.30,411.60 L437.80,411.60 L438.30,411.60 L438.80,411.60 L439.30,411.60 L439.80,411.60 L440.30,411.60 L440.80,411.60 L441.30,411.60 L441.80,411.60 L442.30,411.60 L442.80,411.60 L443.30,411.60 L443.80,411.60 L444.30,411.60 L444.80,411.60 L445.30,411.60 L445.80,411.60 L446.30,411.60 L446.80,411.60 L447.30,411.60 L447.80,411.60 L448.30,411.60 L448.80,411.60 L449.30,411.60 L449.80,411.60 L450.30,411.60 L450.80,411.60 L451.30,411.60 L451.80,411.60 L452.30,411.60 L452.80,411.60 L453.30,411.60 L453.80,411.60 L454.30,411.60 L454.80,411.60 L455.30,411.60 L455.80,411.60 L456.30,411.60" fill="none" stroke="#43a052" stroke-width="1.15" stroke-linejoin="round"/>
<rect x="301.7" y="333.8" width="155.30" height="77.90" fill="none" stroke="#222" stroke-width="1.1"/>
<text x="298.40" y="358.00" font-size="8" text-anchor="end" fill="#333" stroke="#333" stroke-width="0.2" >II-1</text>
<text x="298.40" y="368.40" font-size="8" text-anchor="end" fill="#333" stroke="#333" stroke-width="0.2" >I-1</text>
<text x="298.40" y="379.20" font-size="8" text-anchor="end" fill="#333" stroke="#333" stroke-width="0.2" >I-2</text>
<text x="298.40" y="390.40" font-size="8" text-anchor="end" fill="#333" stroke="#333" stroke-width="0.2" >II-2</text>
<text x="298.40" y="401.40" font-size="8" text-anchor="end" fill="#333" stroke="#333" stroke-width="0.2" >HC1</text>
<text x="298.40" y="412.20" font-size="8" text-anchor="end" fill="#333" stroke="#333" stroke-width="0.2" >HC2</text>
<text x="438.70" y="355.17" font-size="7.9" fill="#222" stroke="#222" stroke-width="0.2" textLength="16.20" lengthAdjust="spacingAndGlyphs" >3962</text>
<text x="438.70" y="365.56" font-size="7.9" fill="#222" stroke="#222" stroke-width="0.2" textLength="16.20" lengthAdjust="spacingAndGlyphs" >7682</text>
<text x="438.70" y="376.56" font-size="7.9" fill="#222" stroke="#222" stroke-width="0.2" textLength="16.20" lengthAdjust="spacingAndGlyphs" >6799</text>
<text x="438.70" y="387.47" font-size="7.9" fill="#222" stroke="#222" stroke-width="0.2" textLength="16.20" lengthAdjust="spacingAndGlyphs" >7251</text>
<text x="438.70" y="398.06" font-size="7.9" fill="#222" stroke="#222" stroke-width="0.2" textLength="16.20" lengthAdjust="spacingAndGlyphs" >9866</text>
<text x="438.70" y="409.37" font-size="7.9" fill="#222" stroke="#222" stroke-width="0.2" textLength="16.20" lengthAdjust="spacingAndGlyphs" >9306</text>
<text x="361.50" y="425.99" font-size="9.4" fill="#1a1a1a" stroke="#1a1a1a" stroke-width="0.2" textLength="35.70" lengthAdjust="spacingAndGlyphs" >Memory</text>
<rect x="301.8" y="429.4" width="155.00" height="78.60" fill="#fff"/>
<path d="M302.40,451.50 L302.40,451.44 L302.90,451.44 L303.40,451.44 L303.90,451.43 L304.40,451.43 L304.90,451.43 L305.40,451.42 L305.90,451.42 L306.40,451.41 L306.90,451.41 L307.40,451.40 L307.90,451.40 L308.40,451.39 L308.90,451.39 L309.40,451.38 L309.90,451.38 L310.40,451.37 L310.90,451.37 L311.40,451.36 L311.90,451.36 L312.40,451.35 L312.90,451.34 L313.40,451.34 L313.90,451.33 L314.40,451.33 L314.90,451.32 L315.40,451.31 L315.90,451.31 L316.40,451.30 L316.90,451.30 L317.40,451.29 L317.90,451.28 L318.40,451.28 L318.90,451.27 L319.40,451.27 L319.90,451.26 L320.40,451.26 L320.90,451.25 L321.40,451.25 L321.90,451.24 L322.40,451.24 L322.90,451.23 L323.40,451.23 L323.90,451.22 L324.40,451.22 L324.90,451.22 L325.40,451.21 L325.90,451.21 L326.40,451.21 L326.90,451.21 L327.40,451.20 L327.90,451.20 L328.40,451.20 L328.90,451.20 L329.40,451.20 L329.90,451.20 L330.40,451.20 L330.90,451.20 L331.40,451.20 L331.90,451.20 L332.40,451.20 L332.90,451.21 L333.40,451.21 L333.90,451.21 L334.40,451.21 L334.90,451.21 L335.40,451.22 L335.90,451.22 L336.40,451.22 L336.90,451.22 L337.40,451.21 L337.90,451.21 L338.40,451.20 L338.90,451.18 L339.40,451.16 L339.90,451.12 L340.40,451.07 L340.90,451.00 L341.40,450.91 L341.90,450.78 L342.40,450.61 L342.90,450.40 L343.40,450.12 L343.90,449.74 L344.40,449.50 L344.90,449.03 L345.40,448.41 L345.90,447.50 L346.40,446.79 L346.90,445.57 L347.40,444.68 L347.90,443.30 L348.40,442.19 L348.90,440.96 L349.40,439.46 L349.90,438.15 L350.40,436.77 L350.90,435.23 L351.40,433.97 L351.90,433.10 L352.40,432.08 L352.90,431.32 L353.40,430.68 L353.90,430.58 L354.40,430.58 L354.90,430.65 L355.40,431.17 L355.90,431.86 L356.40,432.75 L356.90,433.75 L357.40,435.15 L357.90,436.36 L358.40,437.85 L358.90,439.22 L359.40,440.82 L359.90,442.21 L360.40,443.17 L360.90,444.44 L361.40,445.63 L361.90,446.42 L362.40,447.49 L362.90,448.34 L363.40,448.78 L363.90,449.24 L364.40,450.06 L364.90,450.24 L365.40,450.53 L365.90,450.77 L366.40,450.95 L366.90,451.09 L367.40,451.20 L367.90,451.28 L368.40,451.34 L368.90,451.39 L369.40,451.42 L369.90,451.44 L370.40,451.46 L370.90,451.47 L371.40,451.48 L371.90,451.48 L372.40,451.49 L372.90,451.49 L373.40,451.49 L373.90,451.49 L374.40,451.50 L374.90,451.50 L375.40,451.50 L375.90,451.50 L376.40,451.50 L376.90,451.50 L377.40,451.50 L377.90,451.50 L378.40,451.50 L378.90,451.50 L379.40,451.50 L379.90,451.50 L380.40,451.50 L380.90,451.50 L381.40,451.50 L381.90,451.50 L382.40,451.50 L382.90,451.50 L383.40,451.50 L383.90,451.50 L384.40,451.50 L384.90,451.50 L385.40,451.50 L385.90,451.50 L386.40,451.50 L386.90,451.50 L387.40,451.50 L387.90,451.50 L388.40,451.50 L388.90,451.50 L389.40,451.50 L389.90,451.50 L390.40,451.50 L390.90,451.50 L391.40,451.50 L391.90,451.50 L392.40,451.50 L392.90,451.50 L393.40,451.50 L393.90,451.50 L394.40,451.50 L394.90,451.50 L395.40,451.50 L395.90,451.50 L396.40,451.50 L396.90,451.50 L397.40,451.50 L397.90,451.50 L398.40,451.50 L398.90,451.50 L399.40,451.50 L399.90,451.50 L400.40,451.50 L400.90,451.50 L401.40,451.50 L401.90,451.50 L402.40,451.50 L402.90,451.50 L403.40,451.50 L403.90,451.50 L404.40,451.50 L404.90,451.50 L405.40,451.50 L405.90,451.50 L406.40,451.50 L406.90,451.50 L407.40,451.50 L407.90,451.50 L408.40,451.50 L408.90,451.50 L409.40,451.50 L409.90,451.50 L410.40,451.50 L410.90,451.50 L411.40,451.50 L411.90,451.50 L412.40,451.50 L412.90,451.50 L413.40,451.50 L413.90,451.50 L414.40,451.50 L414.90,451.50 L415.40,451.50 L415.90,451.50 L416.40,451.50 L416.90,451.50 L417.40,451.50 L417.90,451.50 L418.40,451.50 L418.90,451.50 L419.40,451.50 L419.90,451.50 L420.40,451.50 L420.90,451.50 L421.40,451.50 L421.90,451.50 L422.40,451.50 L422.90,451.50 L423.40,451.50 L423.90,451.50 L424.40,451.50 L424.90,451.50 L425.40,451.50 L425.90,451.50 L426.40,451.50 L426.90,451.50 L427.40,451.50 L427.90,451.50 L428.40,451.50 L428.90,451.50 L429.40,451.50 L429.90,451.50 L430.40,451.50 L430.90,451.50 L431.40,451.50 L431.90,451.50 L432.40,451.50 L432.90,451.50 L433.40,451.50 L433.90,451.50 L434.40,451.50 L434.90,451.50 L435.40,451.50 L435.90,451.50 L436.40,451.50 L436.90,451.50 L437.40,451.50 L437.90,451.50 L438.40,451.50 L438.90,451.50 L439.40,451.50 L439.90,451.50 L440.40,451.50 L440.90,451.50 L441.40,451.50 L441.90,451.50 L442.40,451.50 L442.90,451.50 L443.40,451.50 L443.90,451.50 L444.40,451.50 L444.90,451.50 L445.40,451.50 L445.90,451.50 L446.40,451.50 L446.90,451.50 L447.40,451.50 L447.90,451.50 L448.40,451.50 L448.90,451.50 L449.40,451.50 L449.90,451.50 L450.40,451.50 L450.90,451.50 L451.40,451.50 L451.90,451.50 L452.40,451.50 L452.90,451.50 L453.40,451.50 L453.90,451.50 L454.40,451.50 L454.90,451.50 L455.40,451.50 L455.90,451.50 L456.20,451.50 Z" fill="#ee9aac" stroke="none" stroke-width="0" fill-opacity="0.6"/>
<path d="M302.40,451.44 L302.90,451.44 L303.40,451.44 L303.90,451.43 L304.40,451.43 L304.90,451.43 L305.40,451.42 L305.90,451.42 L306.40,451.41 L306.90,451.41 L307.40,451.40 L307.90,451.40 L308.40,451.39 L308.90,451.39 L309.40,451.38 L309.90,451.38 L310.40,451.37 L310.90,451.37 L311.40,451.36 L311.90,451.36 L312.40,451.35 L312.90,451.34 L313.40,451.34 L313.90,451.33 L314.40,451.33 L314.90,451.32 L315.40,451.31 L315.90,451.31 L316.40,451.30 L316.90,451.30 L317.40,451.29 L317.90,451.28 L318.40,451.28 L318.90,451.27 L319.40,451.27 L319.90,451.26 L320.40,451.26 L320.90,451.25 L321.40,451.25 L321.90,451.24 L322.40,451.24 L322.90,451.23 L323.40,451.23 L323.90,451.22 L324.40,451.22 L324.90,451.22 L325.40,451.21 L325.90,451.21 L326.40,451.21 L326.90,451.21 L327.40,451.20 L327.90,451.20 L328.40,451.20 L328.90,451.20 L329.40,451.20 L329.90,451.20 L330.40,451.20 L330.90,451.20 L331.40,451.20 L331.90,451.20 L332.40,451.20 L332.90,451.21 L333.40,451.21 L333.90,451.21 L334.40,451.21 L334.90,451.21 L335.40,451.22 L335.90,451.22 L336.40,451.22 L336.90,451.22 L337.40,451.21 L337.90,451.21 L338.40,451.20 L338.90,451.18 L339.40,451.16 L339.90,451.12 L340.40,451.07 L340.90,451.00 L341.40,450.91 L341.90,450.78 L342.40,450.61 L342.90,450.40 L343.40,450.12 L343.90,449.74 L344.40,449.50 L344.90,449.03 L345.40,448.41 L345.90,447.50 L346.40,446.79 L346.90,445.57 L347.40,444.68 L347.90,443.30 L348.40,442.19 L348.90,440.96 L349.40,439.46 L349.90,438.15 L350.40,436.77 L350.90,435.23 L351.40,433.97 L351.90,433.10 L352.40,432.08 L352.90,431.32 L353.40,430.68 L353.90,430.58 L354.40,430.58 L354.90,430.65 L355.40,431.17 L355.90,431.86 L356.40,432.75 L356.90,433.75 L357.40,435.15 L357.90,436.36 L358.40,437.85 L358.90,439.22 L359.40,440.82 L359.90,442.21 L360.40,443.17 L360.90,444.44 L361.40,445.63 L361.90,446.42 L362.40,447.49 L362.90,448.34 L363.40,448.78 L363.90,449.24 L364.40,450.06 L364.90,450.24 L365.40,450.53 L365.90,450.77 L366.40,450.95 L366.90,451.09 L367.40,451.20 L367.90,451.28 L368.40,451.34 L368.90,451.39 L369.40,451.42 L369.90,451.44 L370.40,451.46 L370.90,451.47 L371.40,451.48 L371.90,451.48 L372.40,451.49 L372.90,451.49 L373.40,451.49 L373.90,451.49 L374.40,451.50 L374.90,451.50 L375.40,451.50 L375.90,451.50 L376.40,451.50 L376.90,451.50 L377.40,451.50 L377.90,451.50 L378.40,451.50 L378.90,451.50 L379.40,451.50 L379.90,451.50 L380.40,451.50 L380.90,451.50 L381.40,451.50 L381.90,451.50 L382.40,451.50 L382.90,451.50 L383.40,451.50 L383.90,451.50 L384.40,451.50 L384.90,451.50 L385.40,451.50 L385.90,451.50 L386.40,451.50 L386.90,451.50 L387.40,451.50 L387.90,451.50 L388.40,451.50 L388.90,451.50 L389.40,451.50 L389.90,451.50 L390.40,451.50 L390.90,451.50 L391.40,451.50 L391.90,451.50 L392.40,451.50 L392.90,451.50 L393.40,451.50 L393.90,451.50 L394.40,451.50 L394.90,451.50 L395.40,451.50 L395.90,451.50 L396.40,451.50 L396.90,451.50 L397.40,451.50 L397.90,451.50 L398.40,451.50 L398.90,451.50 L399.40,451.50 L399.90,451.50 L400.40,451.50 L400.90,451.50 L401.40,451.50 L401.90,451.50 L402.40,451.50 L402.90,451.50 L403.40,451.50 L403.90,451.50 L404.40,451.50 L404.90,451.50 L405.40,451.50 L405.90,451.50 L406.40,451.50 L406.90,451.50 L407.40,451.50 L407.90,451.50 L408.40,451.50 L408.90,451.50 L409.40,451.50 L409.90,451.50 L410.40,451.50 L410.90,451.50 L411.40,451.50 L411.90,451.50 L412.40,451.50 L412.90,451.50 L413.40,451.50 L413.90,451.50 L414.40,451.50 L414.90,451.50 L415.40,451.50 L415.90,451.50 L416.40,451.50 L416.90,451.50 L417.40,451.50 L417.90,451.50 L418.40,451.50 L418.90,451.50 L419.40,451.50 L419.90,451.50 L420.40,451.50 L420.90,451.50 L421.40,451.50 L421.90,451.50 L422.40,451.50 L422.90,451.50 L423.40,451.50 L423.90,451.50 L424.40,451.50 L424.90,451.50 L425.40,451.50 L425.90,451.50 L426.40,451.50 L426.90,451.50 L427.40,451.50 L427.90,451.50 L428.40,451.50 L428.90,451.50 L429.40,451.50 L429.90,451.50 L430.40,451.50 L430.90,451.50 L431.40,451.50 L431.90,451.50 L432.40,451.50 L432.90,451.50 L433.40,451.50 L433.90,451.50 L434.40,451.50 L434.90,451.50 L435.40,451.50 L435.90,451.50 L436.40,451.50 L436.90,451.50 L437.40,451.50 L437.90,451.50 L438.40,451.50 L438.90,451.50 L439.40,451.50 L439.90,451.50 L440.40,451.50 L440.90,451.50 L441.40,451.50 L441.90,451.50 L442.40,451.50 L442.90,451.50 L443.40,451.50 L443.90,451.50 L444.40,451.50 L444.90,451.50 L445.40,451.50 L445.90,451.50 L446.40,451.50 L446.90,451.50 L447.40,451.50 L447.90,451.50 L448.40,451.50 L448.90,451.50 L449.40,451.50 L449.90,451.50 L450.40,451.50 L450.90,451.50 L451.40,451.50 L451.90,451.50 L452.40,451.50 L452.90,451.50 L453.40,451.50 L453.90,451.50 L454.40,451.50 L454.90,451.50 L455.40,451.50 L455.90,451.50" fill="none" stroke="#c0304f" stroke-width="1.15" stroke-linejoin="round"/>
<path d="M302.40,462.60 L302.40,462.48 L302.90,462.47 L303.40,462.46 L303.90,462.45 L304.40,462.45 L304.90,462.44 L305.40,462.43 L305.90,462.42 L306.40,462.41 L306.90,462.40 L307.40,462.40 L307.90,462.39 L308.40,462.38 L308.90,462.36 L309.40,462.35 L309.90,462.34 L310.40,462.33 L310.90,462.32 L311.40,462.31 L311.90,462.29 L312.40,462.28 L312.90,462.27 L313.40,462.26 L313.90,462.24 L314.40,462.23 L314.90,462.21 L315.40,462.20 L315.90,462.18 L316.40,462.17 L316.90,462.15 L317.40,462.14 L317.90,462.12 L318.40,462.10 L318.90,462.09 L319.40,462.07 L319.90,462.05 L320.40,462.04 L320.90,462.02 L321.40,462.00 L321.90,461.98 L322.40,461.97 L322.90,461.95 L323.40,461.93 L323.90,461.91 L324.40,461.89 L324.90,461.88 L325.40,461.86 L325.90,461.84 L326.40,461.82 L326.90,461.80 L327.40,461.78 L327.90,461.77 L328.40,461.75 L328.90,461.73 L329.40,461.71 L329.90,461.70 L330.40,461.68 L330.90,461.66 L331.40,461.65 L331.90,461.63 L332.40,461.61 L332.90,461.60 L333.40,461.58 L333.90,461.57 L334.40,461.55 L334.90,461.54 L335.40,461.52 L335.90,461.51 L336.40,461.50 L336.90,461.48 L337.40,461.47 L337.90,461.46 L338.40,461.45 L338.90,461.43 L339.40,461.42 L339.90,461.41 L340.40,461.40 L340.90,461.39 L341.40,461.38 L341.90,461.37 L342.40,461.36 L342.90,461.35 L343.40,461.34 L343.90,461.33 L344.40,461.32 L344.90,461.31 L345.40,461.30 L345.90,461.29 L346.40,461.28 L346.90,461.27 L347.40,461.25 L347.90,461.24 L348.40,461.23 L348.90,461.21 L349.40,461.20 L349.90,461.18 L350.40,461.16 L350.90,461.14 L351.40,461.12 L351.90,461.18 L352.40,461.21 L352.90,461.18 L353.40,461.13 L353.90,461.05 L354.40,460.82 L354.90,460.76 L355.40,461.00 L355.90,460.95 L356.40,460.63 L356.90,460.58 L357.40,460.73 L357.90,460.47 L358.40,460.70 L358.90,460.44 L359.40,460.34 L359.90,460.51 L360.40,460.37 L360.90,460.39 L361.40,460.34 L361.90,459.97 L362.40,459.91 L362.90,459.93 L363.40,459.93 L363.90,459.81 L364.40,459.72 L364.90,459.85 L365.40,459.51 L365.90,459.57 L366.40,459.50 L366.90,459.17 L367.40,459.21 L367.90,459.21 L368.40,458.93 L368.90,459.20 L369.40,458.90 L369.90,458.80 L370.40,458.80 L370.90,458.64 L371.40,458.75 L371.90,458.58 L372.40,458.48 L372.90,458.64 L373.40,458.42 L373.90,458.36 L374.40,458.43 L374.90,458.16 L375.40,458.38 L375.90,457.97 L376.40,458.14 L376.90,458.01 L377.40,457.89 L377.90,457.53 L378.40,457.43 L378.90,457.05 L379.40,456.81 L379.90,456.47 L380.40,456.09 L380.90,455.57 L381.40,454.86 L381.90,454.08 L382.40,453.08 L382.90,452.25 L383.40,450.97 L383.90,449.78 L384.40,448.97 L384.90,447.52 L385.40,446.72 L385.90,445.50 L386.40,444.40 L386.90,443.72 L387.40,443.20 L387.90,442.46 L388.40,442.49 L388.90,442.37 L389.40,442.70 L389.90,442.95 L390.40,443.84 L390.90,444.45 L391.40,445.67 L391.90,446.77 L392.40,447.92 L392.90,449.22 L393.40,450.71 L393.90,451.78 L394.40,453.17 L394.90,454.53 L395.40,455.73 L395.90,456.68 L396.40,457.37 L396.90,458.43 L397.40,458.80 L397.90,459.72 L398.40,460.00 L398.90,460.59 L399.40,461.00 L399.90,461.15 L400.40,461.38 L400.90,461.57 L401.40,461.72 L401.90,461.85 L402.40,461.95 L402.90,462.03 L403.40,462.10 L403.90,462.15 L404.40,462.20 L404.90,462.24 L405.40,462.28 L405.90,462.31 L406.40,462.34 L406.90,462.37 L407.40,462.39 L407.90,462.41 L408.40,462.43 L408.90,462.45 L409.40,462.46 L409.90,462.48 L410.40,462.49 L410.90,462.50 L411.40,462.51 L411.90,462.52 L412.40,462.53 L412.90,462.54 L413.40,462.54 L413.90,462.55 L414.40,462.56 L414.90,462.56 L415.40,462.57 L415.90,462.57 L416.40,462.57 L416.90,462.58 L417.40,462.58 L417.90,462.58 L418.40,462.58 L418.90,462.59 L419.40,462.59 L419.90,462.59 L420.40,462.59 L420.90,462.59 L421.40,462.59 L421.90,462.59 L422.40,462.60 L422.90,462.60 L423.40,462.60 L423.90,462.60 L424.40,462.60 L424.90,462.60 L425.40,462.60 L425.90,462.60 L426.40,462.60 L426.90,462.60 L427.40,462.60 L427.90,462.60 L428.40,462.60 L428.90,462.60 L429.40,462.60 L429.90,462.60 L430.40,462.60 L430.90,462.60 L431.40,462.60 L431.90,462.60 L432.40,462.60 L432.90,462.60 L433.40,462.60 L433.90,462.60 L434.40,462.60 L434.90,462.60 L435.40,462.60 L435.90,462.60 L436.40,462.60 L436.90,462.60 L437.40,462.60 L437.90,462.60 L438.40,462.60 L438.90,462.60 L439.40,462.60 L439.90,462.60 L440.40,462.60 L440.90,462.60 L441.40,462.60 L441.90,462.60 L442.40,462.60 L442.90,462.60 L443.40,462.60 L443.90,462.60 L444.40,462.60 L444.90,462.60 L445.40,462.60 L445.90,462.60 L446.40,462.60 L446.90,462.60 L447.40,462.60 L447.90,462.60 L448.40,462.60 L448.90,462.60 L449.40,462.60 L449.90,462.60 L450.40,462.60 L450.90,462.60 L451.40,462.60 L451.90,462.60 L452.40,462.60 L452.90,462.60 L453.40,462.60 L453.90,462.60 L454.40,462.60 L454.90,462.60 L455.40,462.60 L455.90,462.60 L456.20,462.60 Z" fill="#bfa0cc" stroke="none" stroke-width="0" fill-opacity="0.6"/>
<path d="M302.40,462.48 L302.90,462.47 L303.40,462.46 L303.90,462.45 L304.40,462.45 L304.90,462.44 L305.40,462.43 L305.90,462.42 L306.40,462.41 L306.90,462.40 L307.40,462.40 L307.90,462.39 L308.40,462.38 L308.90,462.36 L309.40,462.35 L309.90,462.34 L310.40,462.33 L310.90,462.32 L311.40,462.31 L311.90,462.29 L312.40,462.28 L312.90,462.27 L313.40,462.26 L313.90,462.24 L314.40,462.23 L314.90,462.21 L315.40,462.20 L315.90,462.18 L316.40,462.17 L316.90,462.15 L317.40,462.14 L317.90,462.12 L318.40,462.10 L318.90,462.09 L319.40,462.07 L319.90,462.05 L320.40,462.04 L320.90,462.02 L321.40,462.00 L321.90,461.98 L322.40,461.97 L322.90,461.95 L323.40,461.93 L323.90,461.91 L324.40,461.89 L324.90,461.88 L325.40,461.86 L325.90,461.84 L326.40,461.82 L326.90,461.80 L327.40,461.78 L327.90,461.77 L328.40,461.75 L328.90,461.73 L329.40,461.71 L329.90,461.70 L330.40,461.68 L330.90,461.66 L331.40,461.65 L331.90,461.63 L332.40,461.61 L332.90,461.60 L333.40,461.58 L333.90,461.57 L334.40,461.55 L334.90,461.54 L335.40,461.52 L335.90,461.51 L336.40,461.50 L336.90,461.48 L337.40,461.47 L337.90,461.46 L338.40,461.45 L338.90,461.43 L339.40,461.42 L339.90,461.41 L340.40,461.40 L340.90,461.39 L341.40,461.38 L341.90,461.37 L342.40,461.36 L342.90,461.35 L343.40,461.34 L343.90,461.33 L344.40,461.32 L344.90,461.31 L345.40,461.30 L345.90,461.29 L346.40,461.28 L346.90,461.27 L347.40,461.25 L347.90,461.24 L348.40,461.23 L348.90,461.21 L349.40,461.20 L349.90,461.18 L350.40,461.16 L350.90,461.14 L351.40,461.12 L351.90,461.18 L352.40,461.21 L352.90,461.18 L353.40,461.13 L353.90,461.05 L354.40,460.82 L354.90,460.76 L355.40,461.00 L355.90,460.95 L356.40,460.63 L356.90,460.58 L357.40,460.73 L357.90,460.47 L358.40,460.70 L358.90,460.44 L359.40,460.34 L359.90,460.51 L360.40,460.37 L360.90,460.39 L361.40,460.34 L361.90,459.97 L362.40,459.91 L362.90,459.93 L363.40,459.93 L363.90,459.81 L364.40,459.72 L364.90,459.85 L365.40,459.51 L365.90,459.57 L366.40,459.50 L366.90,459.17 L367.40,459.21 L367.90,459.21 L368.40,458.93 L368.90,459.20 L369.40,458.90 L369.90,458.80 L370.40,458.80 L370.90,458.64 L371.40,458.75 L371.90,458.58 L372.40,458.48 L372.90,458.64 L373.40,458.42 L373.90,458.36 L374.40,458.43 L374.90,458.16 L375.40,458.38 L375.90,457.97 L376.40,458.14 L376.90,458.01 L377.40,457.89 L377.90,457.53 L378.40,457.43 L378.90,457.05 L379.40,456.81 L379.90,456.47 L380.40,456.09 L380.90,455.57 L381.40,454.86 L381.90,454.08 L382.40,453.08 L382.90,452.25 L383.40,450.97 L383.90,449.78 L384.40,448.97 L384.90,447.52 L385.40,446.72 L385.90,445.50 L386.40,444.40 L386.90,443.72 L387.40,443.20 L387.90,442.46 L388.40,442.49 L388.90,442.37 L389.40,442.70 L389.90,442.95 L390.40,443.84 L390.90,444.45 L391.40,445.67 L391.90,446.77 L392.40,447.92 L392.90,449.22 L393.40,450.71 L393.90,451.78 L394.40,453.17 L394.90,454.53 L395.40,455.73 L395.90,456.68 L396.40,457.37 L396.90,458.43 L397.40,458.80 L397.90,459.72 L398.40,460.00 L398.90,460.59 L399.40,461.00 L399.90,461.15 L400.40,461.38 L400.90,461.57 L401.40,461.72 L401.90,461.85 L402.40,461.95 L402.90,462.03 L403.40,462.10 L403.90,462.15 L404.40,462.20 L404.90,462.24 L405.40,462.28 L405.90,462.31 L406.40,462.34 L406.90,462.37 L407.40,462.39 L407.90,462.41 L408.40,462.43 L408.90,462.45 L409.40,462.46 L409.90,462.48 L410.40,462.49 L410.90,462.50 L411.40,462.51 L411.90,462.52 L412.40,462.53 L412.90,462.54 L413.40,462.54 L413.90,462.55 L414.40,462.56 L414.90,462.56 L415.40,462.57 L415.90,462.57 L416.40,462.57 L416.90,462.58 L417.40,462.58 L417.90,462.58 L418.40,462.58 L418.90,462.59 L419.40,462.59 L419.90,462.59 L420.40,462.59 L420.90,462.59 L421.40,462.59 L421.90,462.59 L422.40,462.60 L422.90,462.60 L423.40,462.60 L423.90,462.60 L424.40,462.60 L424.90,462.60 L425.40,462.60 L425.90,462.60 L426.40,462.60 L426.90,462.60 L427.40,462.60 L427.90,462.60 L428.40,462.60 L428.90,462.60 L429.40,462.60 L429.90,462.60 L430.40,462.60 L430.90,462.60 L431.40,462.60 L431.90,462.60 L432.40,462.60 L432.90,462.60 L433.40,462.60 L433.90,462.60 L434.40,462.60 L434.90,462.60 L435.40,462.60 L435.90,462.60 L436.40,462.60 L436.90,462.60 L437.40,462.60 L437.90,462.60 L438.40,462.60 L438.90,462.60 L439.40,462.60 L439.90,462.60 L440.40,462.60 L440.90,462.60 L441.40,462.60 L441.90,462.60 L442.40,462.60 L442.90,462.60 L443.40,462.60 L443.90,462.60 L444.40,462.60 L444.90,462.60 L445.40,462.60 L445.90,462.60 L446.40,462.60 L446.90,462.60 L447.40,462.60 L447.90,462.60 L448.40,462.60 L448.90,462.60 L449.40,462.60 L449.90,462.60 L450.40,462.60 L450.90,462.60 L451.40,462.60 L451.90,462.60 L452.40,462.60 L452.90,462.60 L453.40,462.60 L453.90,462.60 L454.40,462.60 L454.90,462.60 L455.40,462.60 L455.90,462.60" fill="none" stroke="#6e3272" stroke-width="1.15" stroke-linejoin="round"/>
<path d="M302.40,473.50 L302.40,473.48 L302.90,473.48 L303.40,473.48 L303.90,473.48 L304.40,473.48 L304.90,473.47 L305.40,473.47 L305.90,473.47 L306.40,473.46 L306.90,473.46 L307.40,473.46 L307.90,473.45 L308.40,473.45 L308.90,473.44 L309.40,473.44 L309.90,473.43 L310.40,473.42 L310.90,473.42 L311.40,473.41 L311.90,473.40 L312.40,473.39 L312.90,473.38 L313.40,473.37 L313.90,473.36 L314.40,473.35 L314.90,473.34 L315.40,473.33 L315.90,473.31 L316.40,473.30 L316.90,473.28 L317.40,473.26 L317.90,473.25 L318.40,473.23 L318.90,473.21 L319.40,473.19 L319.90,473.17 L320.40,473.14 L320.90,473.12 L321.40,473.09 L321.90,473.07 L322.40,473.04 L322.90,473.01 L323.40,472.98 L323.90,472.95 L324.40,472.92 L324.90,472.88 L325.40,472.85 L325.90,472.81 L326.40,472.77 L326.90,472.74 L327.40,472.70 L327.90,472.66 L328.40,472.61 L328.90,472.57 L329.40,472.53 L329.90,472.48 L330.40,472.44 L330.90,472.39 L331.40,472.34 L331.90,472.29 L332.40,472.24 L332.90,472.19 L333.40,472.14 L333.90,472.09 L334.40,472.04 L334.90,471.81 L335.40,471.83 L335.90,471.72 L336.40,471.73 L336.90,471.99 L337.40,471.77 L337.90,471.83 L338.40,471.63 L338.90,471.71 L339.40,471.53 L339.90,471.56 L340.40,471.32 L340.90,471.45 L341.40,471.26 L341.90,471.27 L342.40,471.19 L342.90,471.05 L343.40,471.25 L343.90,471.30 L344.40,471.06 L344.90,470.96 L345.40,471.07 L345.90,471.15 L346.40,470.95 L346.90,470.86 L347.40,470.74 L347.90,470.76 L348.40,470.87 L348.90,470.90 L349.40,470.63 L349.90,470.67 L350.40,470.78 L350.90,470.55 L351.40,470.68 L351.90,470.47 L352.40,470.78 L352.90,470.57 L353.40,470.50 L353.90,470.44 L354.40,470.63 L354.90,470.31 L355.40,470.28 L355.90,470.28 L356.40,470.23 L356.90,470.09 L357.40,470.01 L357.90,470.13 L358.40,469.84 L358.90,469.83 L359.40,469.74 L359.90,469.32 L360.40,469.30 L360.90,469.07 L361.40,469.22 L361.90,469.05 L362.40,468.75 L362.90,468.61 L363.40,468.56 L363.90,468.46 L364.40,468.12 L364.90,467.81 L365.40,467.78 L365.90,467.60 L366.40,467.41 L366.90,467.08 L367.40,467.02 L367.90,466.46 L368.40,466.49 L368.90,466.24 L369.40,466.10 L369.90,465.75 L370.40,465.73 L370.90,465.24 L371.40,465.07 L371.90,464.99 L372.40,464.74 L372.90,464.36 L373.40,464.25 L373.90,464.03 L374.40,463.59 L374.90,463.43 L375.40,462.96 L375.90,462.51 L376.40,461.90 L376.90,461.52 L377.40,461.30 L377.90,460.71 L378.40,460.05 L378.90,459.67 L379.40,458.80 L379.90,458.52 L380.40,457.79 L380.90,457.48 L381.40,457.15 L381.90,456.69 L382.40,456.52 L382.90,456.35 L383.40,456.65 L383.90,456.76 L384.40,456.95 L384.90,457.16 L385.40,457.86 L385.90,458.39 L386.40,459.41 L386.90,460.18 L387.40,461.04 L387.90,461.93 L388.40,462.96 L388.90,463.70 L389.40,464.49 L389.90,465.42 L390.40,466.13 L390.90,467.03 L391.40,467.98 L391.90,468.52 L392.40,468.97 L392.90,469.58 L393.40,470.13 L393.90,470.57 L394.40,470.90 L394.90,471.27 L395.40,471.43 L395.90,471.61 L396.40,472.05 L396.90,472.14 L397.40,472.30 L397.90,472.44 L398.40,472.57 L398.90,472.67 L399.40,472.77 L399.90,472.85 L400.40,472.93 L400.90,472.99 L401.40,473.05 L401.90,473.11 L402.40,473.15 L402.90,473.20 L403.40,473.23 L403.90,473.27 L404.40,473.30 L404.90,473.32 L405.40,473.35 L405.90,473.37 L406.40,473.38 L406.90,473.40 L407.40,473.41 L407.90,473.43 L408.40,473.44 L408.90,473.45 L409.40,473.45 L409.90,473.46 L410.40,473.47 L410.90,473.47 L411.40,473.48 L411.90,473.48 L412.40,473.48 L412.90,473.49 L413.40,473.49 L413.90,473.49 L414.40,473.49 L414.90,473.49 L415.40,473.49 L415.90,473.50 L416.40,473.50 L416.90,473.50 L417.40,473.50 L417.90,473.50 L418.40,473.50 L418.90,473.50 L419.40,473.50 L419.90,473.50 L420.40,473.50 L420.90,473.50 L421.40,473.50 L421.90,473.50 L422.40,473.50 L422.90,473.50 L423.40,473.50 L423.90,473.50 L424.40,473.50 L424.90,473.50 L425.40,473.50 L425.90,473.50 L426.40,473.50 L426.90,473.50 L427.40,473.50 L427.90,473.50 L428.40,473.50 L428.90,473.50 L429.40,473.50 L429.90,473.50 L430.40,473.50 L430.90,473.50 L431.40,473.50 L431.90,473.50 L432.40,473.50 L432.90,473.50 L433.40,473.50 L433.90,473.50 L434.40,473.50 L434.90,473.50 L435.40,473.50 L435.90,473.50 L436.40,473.50 L436.90,473.50 L437.40,473.50 L437.90,473.50 L438.40,473.50 L438.90,473.50 L439.40,473.50 L439.90,473.50 L440.40,473.50 L440.90,473.50 L441.40,473.50 L441.90,473.50 L442.40,473.50 L442.90,473.50 L443.40,473.50 L443.90,473.50 L444.40,473.50 L444.90,473.50 L445.40,473.50 L445.90,473.50 L446.40,473.50 L446.90,473.50 L447.40,473.50 L447.90,473.50 L448.40,473.50 L448.90,473.50 L449.40,473.50 L449.90,473.50 L450.40,473.50 L450.90,473.50 L451.40,473.50 L451.90,473.50 L452.40,473.50 L452.90,473.50 L453.40,473.50 L453.90,473.50 L454.40,473.50 L454.90,473.50 L455.40,473.50 L455.90,473.50 L456.20,473.50 Z" fill="#939dc4" stroke="none" stroke-width="0" fill-opacity="0.6"/>
<path d="M302.40,473.48 L302.90,473.48 L303.40,473.48 L303.90,473.48 L304.40,473.48 L304.90,473.47 L305.40,473.47 L305.90,473.47 L306.40,473.46 L306.90,473.46 L307.40,473.46 L307.90,473.45 L308.40,473.45 L308.90,473.44 L309.40,473.44 L309.90,473.43 L310.40,473.42 L310.90,473.42 L311.40,473.41 L311.90,473.40 L312.40,473.39 L312.90,473.38 L313.40,473.37 L313.90,473.36 L314.40,473.35 L314.90,473.34 L315.40,473.33 L315.90,473.31 L316.40,473.30 L316.90,473.28 L317.40,473.26 L317.90,473.25 L318.40,473.23 L318.90,473.21 L319.40,473.19 L319.90,473.17 L320.40,473.14 L320.90,473.12 L321.40,473.09 L321.90,473.07 L322.40,473.04 L322.90,473.01 L323.40,472.98 L323.90,472.95 L324.40,472.92 L324.90,472.88 L325.40,472.85 L325.90,472.81 L326.40,472.77 L326.90,472.74 L327.40,472.70 L327.90,472.66 L328.40,472.61 L328.90,472.57 L329.40,472.53 L329.90,472.48 L330.40,472.44 L330.90,472.39 L331.40,472.34 L331.90,472.29 L332.40,472.24 L332.90,472.19 L333.40,472.14 L333.90,472.09 L334.40,472.04 L334.90,471.81 L335.40,471.83 L335.90,471.72 L336.40,471.73 L336.90,471.99 L337.40,471.77 L337.90,471.83 L338.40,471.63 L338.90,471.71 L339.40,471.53 L339.90,471.56 L340.40,471.32 L340.90,471.45 L341.40,471.26 L341.90,471.27 L342.40,471.19 L342.90,471.05 L343.40,471.25 L343.90,471.30 L344.40,471.06 L344.90,470.96 L345.40,471.07 L345.90,471.15 L346.40,470.95 L346.90,470.86 L347.40,470.74 L347.90,470.76 L348.40,470.87 L348.90,470.90 L349.40,470.63 L349.90,470.67 L350.40,470.78 L350.90,470.55 L351.40,470.68 L351.90,470.47 L352.40,470.78 L352.90,470.57 L353.40,470.50 L353.90,470.44 L354.40,470.63 L354.90,470.31 L355.40,470.28 L355.90,470.28 L356.40,470.23 L356.90,470.09 L357.40,470.01 L357.90,470.13 L358.40,469.84 L358.90,469.83 L359.40,469.74 L359.90,469.32 L360.40,469.30 L360.90,469.07 L361.40,469.22 L361.90,469.05 L362.40,468.75 L362.90,468.61 L363.40,468.56 L363.90,468.46 L364.40,468.12 L364.90,467.81 L365.40,467.78 L365.90,467.60 L366.40,467.41 L366.90,467.08 L367.40,467.02 L367.90,466.46 L368.40,466.49 L368.90,466.24 L369.40,466.10 L369.90,465.75 L370.40,465.73 L370.90,465.24 L371.40,465.07 L371.90,464.99 L372.40,464.74 L372.90,464.36 L373.40,464.25 L373.90,464.03 L374.40,463.59 L374.90,463.43 L375.40,462.96 L375.90,462.51 L376.40,461.90 L376.90,461.52 L377.40,461.30 L377.90,460.71 L378.40,460.05 L378.90,459.67 L379.40,458.80 L379.90,458.52 L380.40,457.79 L380.90,457.48 L381.40,457.15 L381.90,456.69 L382.40,456.52 L382.90,456.35 L383.40,456.65 L383.90,456.76 L384.40,456.95 L384.90,457.16 L385.40,457.86 L385.90,458.39 L386.40,459.41 L386.90,460.18 L387.40,461.04 L387.90,461.93 L388.40,462.96 L388.90,463.70 L389.40,464.49 L389.90,465.42 L390.40,466.13 L390.90,467.03 L391.40,467.98 L391.90,468.52 L392.40,468.97 L392.90,469.58 L393.40,470.13 L393.90,470.57 L394.40,470.90 L394.90,471.27 L395.40,471.43 L395.90,471.61 L396.40,472.05 L396.90,472.14 L397.40,472.30 L397.90,472.44 L398.40,472.57 L398.90,472.67 L399.40,472.77 L399.90,472.85 L400.40,472.93 L400.90,472.99 L401.40,473.05 L401.90,473.11 L402.40,473.15 L402.90,473.20 L403.40,473.23 L403.90,473.27 L404.40,473.30 L404.90,473.32 L405.40,473.35 L405.90,473.37 L406.40,473.38 L406.90,473.40 L407.40,473.41 L407.90,473.43 L408.40,473.44 L408.90,473.45 L409.40,473.45 L409.90,473.46 L410.40,473.47 L410.90,473.47 L411.40,473.48 L411.90,473.48 L412.40,473.48 L412.90,473.49 L413.40,473.49 L413.90,473.49 L414.40,473.49 L414.90,473.49 L415.40,473.49 L415.90,473.50 L416.40,473.50 L416.90,473.50 L417.40,473.50 L417.90,473.50 L418.40,473.50 L418.90,473.50 L419.40,473.50 L419.90,473.50 L420.40,473.50 L420.90,473.50 L421.40,473.50 L421.90,473.50 L422.40,473.50 L422.90,473.50 L423.40,473.50 L423.90,473.50 L424.40,473.50 L424.90,473.50 L425.40,473.50 L425.90,473.50 L426.40,473.50 L426.90,473.50 L427.40,473.50 L427.90,473.50 L428.40,473.50 L428.90,473.50 L429.40,473.50 L429.90,473.50 L430.40,473.50 L430.90,473.50 L431.40,473.50 L431.90,473.50 L432.40,473.50 L432.90,473.50 L433.40,473.50 L433.90,473.50 L434.40,473.50 L434.90,473.50 L435.40,473.50 L435.90,473.50 L436.40,473.50 L436.90,473.50 L437.40,473.50 L437.90,473.50 L438.40,473.50 L438.90,473.50 L439.40,473.50 L439.90,473.50 L440.40,473.50 L440.90,473.50 L441.40,473.50 L441.90,473.50 L442.40,473.50 L442.90,473.50 L443.40,473.50 L443.90,473.50 L444.40,473.50 L444.90,473.50 L445.40,473.50 L445.90,473.50 L446.40,473.50 L446.90,473.50 L447.40,473.50 L447.90,473.50 L448.40,473.50 L448.90,473.50 L449.40,473.50 L449.90,473.50 L450.40,473.50 L450.90,473.50 L451.40,473.50 L451.90,473.50 L452.40,473.50 L452.90,473.50 L453.40,473.50 L453.90,473.50 L454.40,473.50 L454.90,473.50 L455.40,473.50 L455.90,473.50" fill="none" stroke="#27365f" stroke-width="1.15" stroke-linejoin="round"/>
<path d="M302.40,485.00 L302.40,485.00 L302.90,485.00 L303.40,485.00 L303.90,485.00 L304.40,485.00 L304.90,485.00 L305.40,485.00 L305.90,485.00 L306.40,485.00 L306.90,485.00 L307.40,485.00 L307.90,485.00 L308.40,485.00 L308.90,485.00 L309.40,485.00 L309.90,485.00 L310.40,485.00 L310.90,485.00 L311.40,485.00 L311.90,485.00 L312.40,485.00 L312.90,485.00 L313.40,485.00 L313.90,484.99 L314.40,484.99 L314.90,484.99 L315.40,484.99 L315.90,484.99 L316.40,484.99 L316.90,484.99 L317.40,484.99 L317.90,484.98 L318.40,484.98 L318.90,484.98 L319.40,484.98 L319.90,484.97 L320.40,484.97 L320.90,484.96 L321.40,484.96 L321.90,484.96 L322.40,484.95 L322.90,484.94 L323.40,484.94 L323.90,484.93 L324.40,484.92 L324.90,484.91 L325.40,484.90 L325.90,484.89 L326.40,484.88 L326.90,484.87 L327.40,484.86 L327.90,484.84 L328.40,484.83 L328.90,484.81 L329.40,484.79 L329.90,484.78 L330.40,484.76 L330.90,484.73 L331.40,484.71 L331.90,484.69 L332.40,484.66 L332.90,484.63 L333.40,484.60 L333.90,484.57 L334.40,484.54 L334.90,484.51 L335.40,484.47 L335.90,484.44 L336.40,484.40 L336.90,484.36 L337.40,484.32 L337.90,484.28 L338.40,484.23 L338.90,484.19 L339.40,484.14 L339.90,484.09 L340.40,484.04 L340.90,484.00 L341.40,483.95 L341.90,483.90 L342.40,483.84 L342.90,483.79 L343.40,483.74 L343.90,483.69 L344.40,483.64 L344.90,483.59 L345.40,483.54 L345.90,483.40 L346.40,483.27 L346.90,483.83 L347.40,483.04 L347.90,483.41 L348.40,483.04 L348.90,483.52 L349.40,482.86 L349.90,482.98 L350.40,482.90 L350.90,483.02 L351.40,482.58 L351.90,483.24 L352.40,483.07 L352.90,483.09 L353.40,482.62 L353.90,483.07 L354.40,482.59 L354.90,482.39 L355.40,482.21 L355.90,482.95 L356.40,482.76 L356.90,482.28 L357.40,482.64 L357.90,481.98 L358.40,482.59 L358.90,481.94 L359.40,482.01 L359.90,482.44 L360.40,482.13 L360.90,481.45 L361.40,481.23 L361.90,481.73 L362.40,481.02 L362.90,481.25 L363.40,481.20 L363.90,480.75 L364.40,480.91 L364.90,480.22 L365.40,479.98 L365.90,479.82 L366.40,479.70 L366.90,479.60 L367.40,478.83 L367.90,479.42 L368.40,478.90 L368.90,478.30 L369.40,477.76 L369.90,478.14 L370.40,477.58 L370.90,476.82 L371.40,477.16 L371.90,476.25 L372.40,476.55 L372.90,475.93 L373.40,475.20 L373.90,475.58 L374.40,474.99 L374.90,474.38 L375.40,474.35 L375.90,474.14 L376.40,474.01 L376.90,473.29 L377.40,472.95 L377.90,472.60 L378.40,472.37 L378.90,471.92 L379.40,470.91 L379.90,470.29 L380.40,470.77 L380.90,470.40 L381.40,469.81 L381.90,469.21 L382.40,469.36 L382.90,469.38 L383.40,469.31 L383.90,469.47 L384.40,470.61 L384.90,471.34 L385.40,471.91 L385.90,472.38 L386.40,473.36 L386.90,474.39 L387.40,474.47 L387.90,475.58 L388.40,476.83 L388.90,477.89 L389.40,477.85 L389.90,478.71 L390.40,479.05 L390.90,480.18 L391.40,480.45 L391.90,481.03 L392.40,481.64 L392.90,481.43 L393.40,482.05 L393.90,481.88 L394.40,482.41 L394.90,482.97 L395.40,482.63 L395.90,483.53 L396.40,483.73 L396.90,483.54 L397.40,483.69 L397.90,483.84 L398.40,483.97 L398.90,484.09 L399.40,484.19 L399.90,484.29 L400.40,484.38 L400.90,484.45 L401.40,484.52 L401.90,484.59 L402.40,484.64 L402.90,484.69 L403.40,484.73 L403.90,484.77 L404.40,484.80 L404.90,484.83 L405.40,484.86 L405.90,484.88 L406.40,484.90 L406.90,484.91 L407.40,484.93 L407.90,484.94 L408.40,484.95 L408.90,484.96 L409.40,484.96 L409.90,484.97 L410.40,484.98 L410.90,484.98 L411.40,484.98 L411.90,484.99 L412.40,484.99 L412.90,484.99 L413.40,484.99 L413.90,484.99 L414.40,485.00 L414.90,485.00 L415.40,485.00 L415.90,485.00 L416.40,485.00 L416.90,485.00 L417.40,485.00 L417.90,485.00 L418.40,485.00 L418.90,485.00 L419.40,485.00 L419.90,485.00 L420.40,485.00 L420.90,485.00 L421.40,485.00 L421.90,485.00 L422.40,485.00 L422.90,485.00 L423.40,485.00 L423.90,485.00 L424.40,485.00 L424.90,485.00 L425.40,485.00 L425.90,485.00 L426.40,485.00 L426.90,485.00 L427.40,485.00 L427.90,485.00 L428.40,485.00 L428.90,485.00 L429.40,485.00 L429.90,485.00 L430.40,485.00 L430.90,485.00 L431.40,485.00 L431.90,485.00 L432.40,485.00 L432.90,485.00 L433.40,485.00 L433.90,485.00 L434.40,485.00 L434.90,485.00 L435.40,485.00 L435.90,485.00 L436.40,485.00 L436.90,485.00 L437.40,485.00 L437.90,485.00 L438.40,485.00 L438.90,485.00 L439.40,485.00 L439.90,485.00 L440.40,485.00 L440.90,485.00 L441.40,485.00 L441.90,485.00 L442.40,485.00 L442.90,485.00 L443.40,485.00 L443.90,485.00 L444.40,485.00 L444.90,485.00 L445.40,485.00 L445.90,485.00 L446.40,485.00 L446.90,485.00 L447.40,485.00 L447.90,485.00 L448.40,485.00 L448.90,485.00 L449.40,485.00 L449.90,485.00 L450.40,485.00 L450.90,485.00 L451.40,485.00 L451.90,485.00 L452.40,485.00 L452.90,485.00 L453.40,485.00 L453.90,485.00 L454.40,485.00 L454.90,485.00 L455.40,485.00 L455.90,485.00 L456.20,485.00 Z" fill="#98cdee" stroke="none" stroke-width="0" fill-opacity="0.6"/>
<path d="M302.40,485.00 L302.90,485.00 L303.40,485.00 L303.90,485.00 L304.40,485.00 L304.90,485.00 L305.40,485.00 L305.90,485.00 L306.40,485.00 L306.90,485.00 L307.40,485.00 L307.90,485.00 L308.40,485.00 L308.90,485.00 L309.40,485.00 L309.90,485.00 L310.40,485.00 L310.90,485.00 L311.40,485.00 L311.90,485.00 L312.40,485.00 L312.90,485.00 L313.40,485.00 L313.90,484.99 L314.40,484.99 L314.90,484.99 L315.40,484.99 L315.90,484.99 L316.40,484.99 L316.90,484.99 L317.40,484.99 L317.90,484.98 L318.40,484.98 L318.90,484.98 L319.40,484.98 L319.90,484.97 L320.40,484.97 L320.90,484.96 L321.40,484.96 L321.90,484.96 L322.40,484.95 L322.90,484.94 L323.40,484.94 L323.90,484.93 L324.40,484.92 L324.90,484.91 L325.40,484.90 L325.90,484.89 L326.40,484.88 L326.90,484.87 L327.40,484.86 L327.90,484.84 L328.40,484.83 L328.90,484.81 L329.40,484.79 L329.90,484.78 L330.40,484.76 L330.90,484.73 L331.40,484.71 L331.90,484.69 L332.40,484.66 L332.90,484.63 L333.40,484.60 L333.90,484.57 L334.40,484.54 L334.90,484.51 L335.40,484.47 L335.90,484.44 L336.40,484.40 L336.90,484.36 L337.40,484.32 L337.90,484.28 L338.40,484.23 L338.90,484.19 L339.40,484.14 L339.90,484.09 L340.40,484.04 L340.90,484.00 L341.40,483.95 L341.90,483.90 L342.40,483.84 L342.90,483.79 L343.40,483.74 L343.90,483.69 L344.40,483.64 L344.90,483.59 L345.40,483.54 L345.90,483.40 L346.40,483.27 L346.90,483.83 L347.40,483.04 L347.90,483.41 L348.40,483.04 L348.90,483.52 L349.40,482.86 L349.90,482.98 L350.40,482.90 L350.90,483.02 L351.40,482.58 L351.90,483.24 L352.40,483.07 L352.90,483.09 L353.40,482.62 L353.90,483.07 L354.40,482.59 L354.90,482.39 L355.40,482.21 L355.90,482.95 L356.40,482.76 L356.90,482.28 L357.40,482.64 L357.90,481.98 L358.40,482.59 L358.90,481.94 L359.40,482.01 L359.90,482.44 L360.40,482.13 L360.90,481.45 L361.40,481.23 L361.90,481.73 L362.40,481.02 L362.90,481.25 L363.40,481.20 L363.90,480.75 L364.40,480.91 L364.90,480.22 L365.40,479.98 L365.90,479.82 L366.40,479.70 L366.90,479.60 L367.40,478.83 L367.90,479.42 L368.40,478.90 L368.90,478.30 L369.40,477.76 L369.90,478.14 L370.40,477.58 L370.90,476.82 L371.40,477.16 L371.90,476.25 L372.40,476.55 L372.90,475.93 L373.40,475.20 L373.90,475.58 L374.40,474.99 L374.90,474.38 L375.40,474.35 L375.90,474.14 L376.40,474.01 L376.90,473.29 L377.40,472.95 L377.90,472.60 L378.40,472.37 L378.90,471.92 L379.40,470.91 L379.90,470.29 L380.40,470.77 L380.90,470.40 L381.40,469.81 L381.90,469.21 L382.40,469.36 L382.90,469.38 L383.40,469.31 L383.90,469.47 L384.40,470.61 L384.90,471.34 L385.40,471.91 L385.90,472.38 L386.40,473.36 L386.90,474.39 L387.40,474.47 L387.90,475.58 L388.40,476.83 L388.90,477.89 L389.40,477.85 L389.90,478.71 L390.40,479.05 L390.90,480.18 L391.40,480.45 L391.90,481.03 L392.40,481.64 L392.90,481.43 L393.40,482.05 L393.90,481.88 L394.40,482.41 L394.90,482.97 L395.40,482.63 L395.90,483.53 L396.40,483.73 L396.90,483.54 L397.40,483.69 L397.90,483.84 L398.40,483.97 L398.90,484.09 L399.40,484.19 L399.90,484.29 L400.40,484.38 L400.90,484.45 L401.40,484.52 L401.90,484.59 L402.40,484.64 L402.90,484.69 L403.40,484.73 L403.90,484.77 L404.40,484.80 L404.90,484.83 L405.40,484.86 L405.90,484.88 L406.40,484.90 L406.90,484.91 L407.40,484.93 L407.90,484.94 L408.40,484.95 L408.90,484.96 L409.40,484.96 L409.90,484.97 L410.40,484.98 L410.90,484.98 L411.40,484.98 L411.90,484.99 L412.40,484.99 L412.90,484.99 L413.40,484.99 L413.90,484.99 L414.40,485.00 L414.90,485.00 L415.40,485.00 L415.90,485.00 L416.40,485.00 L416.90,485.00 L417.40,485.00 L417.90,485.00 L418.40,485.00 L418.90,485.00 L419.40,485.00 L419.90,485.00 L420.40,485.00 L420.90,485.00 L421.40,485.00 L421.90,485.00 L422.40,485.00 L422.90,485.00 L423.40,485.00 L423.90,485.00 L424.40,485.00 L424.90,485.00 L425.40,485.00 L425.90,485.00 L426.40,485.00 L426.90,485.00 L427.40,485.00 L427.90,485.00 L428.40,485.00 L428.90,485.00 L429.40,485.00 L429.90,485.00 L430.40,485.00 L430.90,485.00 L431.40,485.00 L431.90,485.00 L432.40,485.00 L432.90,485.00 L433.40,485.00 L433.90,485.00 L434.40,485.00 L434.90,485.00 L435.40,485.00 L435.90,485.00 L436.40,485.00 L436.90,485.00 L437.40,485.00 L437.90,485.00 L438.40,485.00 L438.90,485.00 L439.40,485.00 L439.90,485.00 L440.40,485.00 L440.90,485.00 L441.40,485.00 L441.90,485.00 L442.40,485.00 L442.90,485.00 L443.40,485.00 L443.90,485.00 L444.40,485.00 L444.90,485.00 L445.40,485.00 L445.90,485.00 L446.40,485.00 L446.90,485.00 L447.40,485.00 L447.90,485.00 L448.40,485.00 L448.90,485.00 L449.40,485.00 L449.90,485.00 L450.40,485.00 L450.90,485.00 L451.40,485.00 L451.90,485.00 L452.40,485.00 L452.90,485.00 L453.40,485.00 L453.90,485.00 L454.40,485.00 L454.90,485.00 L455.40,485.00 L455.90,485.00" fill="none" stroke="#2f8fc4" stroke-width="1.15" stroke-linejoin="round"/>
<path d="M302.40,495.90 L302.40,495.90 L302.90,495.90 L303.40,495.90 L303.90,495.90 L304.40,495.90 L304.90,495.90 L305.40,495.90 L305.90,495.90 L306.40,495.90 L306.90,495.90 L307.40,495.90 L307.90,495.90 L308.40,495.90 L308.90,495.90 L309.40,495.90 L309.90,495.90 L310.40,495.90 L310.90,495.90 L311.40,495.90 L311.90,495.90 L312.40,495.90 L312.90,495.90 L313.40,495.90 L313.90,495.90 L314.40,495.90 L314.90,495.90 L315.40,495.90 L315.90,495.90 L316.40,495.90 L316.90,495.90 L317.40,495.90 L317.90,495.90 L318.40,495.90 L318.90,495.89 L319.40,495.89 L319.90,495.89 L320.40,495.89 L320.90,495.89 L321.40,495.89 L321.90,495.89 L322.40,495.89 L322.90,495.89 L323.40,495.89 L323.90,495.88 L324.40,495.88 L324.90,495.88 L325.40,495.88 L325.90,495.88 L326.40,495.87 L326.90,495.87 L327.40,495.87 L327.90,495.86 L328.40,495.86 L328.90,495.86 L329.40,495.85 L329.90,495.85 L330.40,495.84 L330.90,495.84 L331.40,495.83 L331.90,495.83 L332.40,495.82 L332.90,495.81 L333.40,495.81 L333.90,495.80 L334.40,495.79 L334.90,495.78 L335.40,495.77 L335.90,495.76 L336.40,495.75 L336.90,495.74 L337.40,495.73 L337.90,495.72 L338.40,495.70 L338.90,495.69 L339.40,495.67 L339.90,495.66 L340.40,495.64 L340.90,495.63 L341.40,495.61 L341.90,495.59 L342.40,495.57 L342.90,495.55 L343.40,495.53 L343.90,495.51 L344.40,495.49 L344.90,495.47 L345.40,495.45 L345.90,495.42 L346.40,495.40 L346.90,495.37 L347.40,495.35 L347.90,495.32 L348.40,495.30 L348.90,495.27 L349.40,495.24 L349.90,495.22 L350.40,495.19 L350.90,495.16 L351.40,495.13 L351.90,495.10 L352.40,495.07 L352.90,495.04 L353.40,495.01 L353.90,494.98 L354.40,494.95 L354.90,494.92 L355.40,494.89 L355.90,494.86 L356.40,494.83 L356.90,494.80 L357.40,494.77 L357.90,494.73 L358.40,494.70 L358.90,494.67 L359.40,494.63 L359.90,494.60 L360.40,494.56 L360.90,494.53 L361.40,494.49 L361.90,494.45 L362.40,494.41 L362.90,494.67 L363.40,494.33 L363.90,494.74 L364.40,494.12 L364.90,493.80 L365.40,493.69 L365.90,493.78 L366.40,494.40 L366.90,494.23 L367.40,494.20 L367.90,493.64 L368.40,493.94 L368.90,494.17 L369.40,493.37 L369.90,493.91 L370.40,492.99 L370.90,493.70 L371.40,493.73 L371.90,492.99 L372.40,492.59 L372.90,492.85 L373.40,493.19 L373.90,492.54 L374.40,492.93 L374.90,492.32 L375.40,492.60 L375.90,492.15 L376.40,492.08 L376.90,491.63 L377.40,491.15 L377.90,491.33 L378.40,491.72 L378.90,490.70 L379.40,490.90 L379.90,490.62 L380.40,490.63 L380.90,490.24 L381.40,489.97 L381.90,490.24 L382.40,490.14 L382.90,489.73 L383.40,489.83 L383.90,489.09 L384.40,488.89 L384.90,489.35 L385.40,488.99 L385.90,488.80 L386.40,488.81 L386.90,488.85 L387.40,488.45 L387.90,488.27 L388.40,488.31 L388.90,488.24 L389.40,487.89 L389.90,487.60 L390.40,488.03 L390.90,487.99 L391.40,487.90 L391.90,487.93 L392.40,487.02 L392.90,487.35 L393.40,487.18 L393.90,486.60 L394.40,486.19 L394.90,486.69 L395.40,486.32 L395.90,485.53 L396.40,485.09 L396.90,484.31 L397.40,484.00 L397.90,483.14 L398.40,482.39 L398.90,481.78 L399.40,481.03 L399.90,480.10 L400.40,479.39 L400.90,478.74 L401.40,478.72 L401.90,478.16 L402.40,478.79 L402.90,478.91 L403.40,479.17 L403.90,479.76 L404.40,480.66 L404.90,480.61 L405.40,482.11 L405.90,482.49 L406.40,483.61 L406.90,484.65 L407.40,486.41 L407.90,487.30 L408.40,487.88 L408.90,489.03 L409.40,489.30 L409.90,490.82 L410.40,491.32 L410.90,491.50 L411.40,492.39 L411.90,493.13 L412.40,492.75 L412.90,493.03 L413.40,493.72 L413.90,493.50 L414.40,493.95 L414.90,493.93 L415.40,494.42 L415.90,494.55 L416.40,494.67 L416.90,494.77 L417.40,494.87 L417.90,494.96 L418.40,495.04 L418.90,495.12 L419.40,495.19 L419.90,495.25 L420.40,495.31 L420.90,495.36 L421.40,495.41 L421.90,495.46 L422.40,495.50 L422.90,495.54 L423.40,495.58 L423.90,495.61 L424.40,495.64 L424.90,495.67 L425.40,495.69 L425.90,495.71 L426.40,495.73 L426.90,495.75 L427.40,495.77 L427.90,495.78 L428.40,495.80 L428.90,495.81 L429.40,495.82 L429.90,495.83 L430.40,495.84 L430.90,495.85 L431.40,495.85 L431.90,495.86 L432.40,495.86 L432.90,495.87 L433.40,495.87 L433.90,495.88 L434.40,495.88 L434.90,495.88 L435.40,495.88 L435.90,495.89 L436.40,495.89 L436.90,495.89 L437.40,495.89 L437.90,495.89 L438.40,495.89 L438.90,495.89 L439.40,495.90 L439.90,495.90 L440.40,495.90 L440.90,495.90 L441.40,495.90 L441.90,495.90 L442.40,495.90 L442.90,495.90 L443.40,495.90 L443.90,495.90 L444.40,495.90 L444.90,495.90 L445.40,495.90 L445.90,495.90 L446.40,495.90 L446.90,495.90 L447.40,495.90 L447.90,495.90 L448.40,495.90 L448.90,495.90 L449.40,495.90 L449.90,495.90 L450.40,495.90 L450.90,495.90 L451.40,495.90 L451.90,495.90 L452.40,495.90 L452.90,495.90 L453.40,495.90 L453.90,495.90 L454.40,495.90 L454.90,495.90 L455.40,495.90 L455.90,495.90 L456.20,495.90 Z" fill="#96c4aa" stroke="none" stroke-width="0" fill-opacity="0.6"/>
<path d="M302.40,495.90 L302.90,495.90 L303.40,495.90 L303.90,495.90 L304.40,495.90 L304.90,495.90 L305.40,495.90 L305.90,495.90 L306.40,495.90 L306.90,495.90 L307.40,495.90 L307.90,495.90 L308.40,495.90 L308.90,495.90 L309.40,495.90 L309.90,495.90 L310.40,495.90 L310.90,495.90 L311.40,495.90 L311.90,495.90 L312.40,495.90 L312.90,495.90 L313.40,495.90 L313.90,495.90 L314.40,495.90 L314.90,495.90 L315.40,495.90 L315.90,495.90 L316.40,495.90 L316.90,495.90 L317.40,495.90 L317.90,495.90 L318.40,495.90 L318.90,495.89 L319.40,495.89 L319.90,495.89 L320.40,495.89 L320.90,495.89 L321.40,495.89 L321.90,495.89 L322.40,495.89 L322.90,495.89 L323.40,495.89 L323.90,495.88 L324.40,495.88 L324.90,495.88 L325.40,495.88 L325.90,495.88 L326.40,495.87 L326.90,495.87 L327.40,495.87 L327.90,495.86 L328.40,495.86 L328.90,495.86 L329.40,495.85 L329.90,495.85 L330.40,495.84 L330.90,495.84 L331.40,495.83 L331.90,495.83 L332.40,495.82 L332.90,495.81 L333.40,495.81 L333.90,495.80 L334.40,495.79 L334.90,495.78 L335.40,495.77 L335.90,495.76 L336.40,495.75 L336.90,495.74 L337.40,495.73 L337.90,495.72 L338.40,495.70 L338.90,495.69 L339.40,495.67 L339.90,495.66 L340.40,495.64 L340.90,495.63 L341.40,495.61 L341.90,495.59 L342.40,495.57 L342.90,495.55 L343.40,495.53 L343.90,495.51 L344.40,495.49 L344.90,495.47 L345.40,495.45 L345.90,495.42 L346.40,495.40 L346.90,495.37 L347.40,495.35 L347.90,495.32 L348.40,495.30 L348.90,495.27 L349.40,495.24 L349.90,495.22 L350.40,495.19 L350.90,495.16 L351.40,495.13 L351.90,495.10 L352.40,495.07 L352.90,495.04 L353.40,495.01 L353.90,494.98 L354.40,494.95 L354.90,494.92 L355.40,494.89 L355.90,494.86 L356.40,494.83 L356.90,494.80 L357.40,494.77 L357.90,494.73 L358.40,494.70 L358.90,494.67 L359.40,494.63 L359.90,494.60 L360.40,494.56 L360.90,494.53 L361.40,494.49 L361.90,494.45 L362.40,494.41 L362.90,494.67 L363.40,494.33 L363.90,494.74 L364.40,494.12 L364.90,493.80 L365.40,493.69 L365.90,493.78 L366.40,494.40 L366.90,494.23 L367.40,494.20 L367.90,493.64 L368.40,493.94 L368.90,494.17 L369.40,493.37 L369.90,493.91 L370.40,492.99 L370.90,493.70 L371.40,493.73 L371.90,492.99 L372.40,492.59 L372.90,492.85 L373.40,493.19 L373.90,492.54 L374.40,492.93 L374.90,492.32 L375.40,492.60 L375.90,492.15 L376.40,492.08 L376.90,491.63 L377.40,491.15 L377.90,491.33 L378.40,491.72 L378.90,490.70 L379.40,490.90 L379.90,490.62 L380.40,490.63 L380.90,490.24 L381.40,489.97 L381.90,490.24 L382.40,490.14 L382.90,489.73 L383.40,489.83 L383.90,489.09 L384.40,488.89 L384.90,489.35 L385.40,488.99 L385.90,488.80 L386.40,488.81 L386.90,488.85 L387.40,488.45 L387.90,488.27 L388.40,488.31 L388.90,488.24 L389.40,487.89 L389.90,487.60 L390.40,488.03 L390.90,487.99 L391.40,487.90 L391.90,487.93 L392.40,487.02 L392.90,487.35 L393.40,487.18 L393.90,486.60 L394.40,486.19 L394.90,486.69 L395.40,486.32 L395.90,485.53 L396.40,485.09 L396.90,484.31 L397.40,484.00 L397.90,483.14 L398.40,482.39 L398.90,481.78 L399.40,481.03 L399.90,480.10 L400.40,479.39 L400.90,478.74 L401.40,478.72 L401.90,478.16 L402.40,478.79 L402.90,478.91 L403.40,479.17 L403.90,479.76 L404.40,480.66 L404.90,480.61 L405.40,482.11 L405.90,482.49 L406.40,483.61 L406.90,484.65 L407.40,486.41 L407.90,487.30 L408.40,487.88 L408.90,489.03 L409.40,489.30 L409.90,490.82 L410.40,491.32 L410.90,491.50 L411.40,492.39 L411.90,493.13 L412.40,492.75 L412.90,493.03 L413.40,493.72 L413.90,493.50 L414.40,493.95 L414.90,493.93 L415.40,494.42 L415.90,494.55 L416.40,494.67 L416.90,494.77 L417.40,494.87 L417.90,494.96 L418.40,495.04 L418.90,495.12 L419.40,495.19 L419.90,495.25 L420.40,495.31 L420.90,495.36 L421.40,495.41 L421.90,495.46 L422.40,495.50 L422.90,495.54 L423.40,495.58 L423.90,495.61 L424.40,495.64 L424.90,495.67 L425.40,495.69 L425.90,495.71 L426.40,495.73 L426.90,495.75 L427.40,495.77 L427.90,495.78 L428.40,495.80 L428.90,495.81 L429.40,495.82 L429.90,495.83 L430.40,495.84 L430.90,495.85 L431.40,495.85 L431.90,495.86 L432.40,495.86 L432.90,495.87 L433.40,495.87 L433.90,495.88 L434.40,495.88 L434.90,495.88 L435.40,495.88 L435.90,495.89 L436.40,495.89 L436.90,495.89 L437.40,495.89 L437.90,495.89 L438.40,495.89 L438.90,495.89 L439.40,495.90 L439.90,495.90 L440.40,495.90 L440.90,495.90 L441.40,495.90 L441.90,495.90 L442.40,495.90 L442.90,495.90 L443.40,495.90 L443.90,495.90 L444.40,495.90 L444.90,495.90 L445.40,495.90 L445.90,495.90 L446.40,495.90 L446.90,495.90 L447.40,495.90 L447.90,495.90 L448.40,495.90 L448.90,495.90 L449.40,495.90 L449.90,495.90 L450.40,495.90 L450.90,495.90 L451.40,495.90 L451.90,495.90 L452.40,495.90 L452.90,495.90 L453.40,495.90 L453.90,495.90 L454.40,495.90 L454.90,495.90 L455.40,495.90 L455.90,495.90" fill="none" stroke="#1b5242" stroke-width="1.15" stroke-linejoin="round"/>
<path d="M302.40,508.00 L302.40,508.00 L302.90,508.00 L303.40,508.00 L303.90,508.00 L304.40,508.00 L304.90,508.00 L305.40,508.00 L305.90,508.00 L306.40,508.00 L306.90,508.00 L307.40,508.00 L307.90,508.00 L308.40,508.00 L308.90,508.00 L309.40,508.00 L309.90,508.00 L310.40,508.00 L310.90,508.00 L311.40,508.00 L311.90,508.00 L312.40,508.00 L312.90,508.00 L313.40,508.00 L313.90,508.00 L314.40,508.00 L314.90,508.00 L315.40,508.00 L315.90,508.00 L316.40,508.00 L316.90,508.00 L317.40,508.00 L317.90,508.00 L318.40,508.00 L318.90,508.00 L319.40,508.00 L319.90,508.00 L320.40,508.00 L320.90,508.00 L321.40,508.00 L321.90,508.00 L322.40,508.00 L322.90,508.00 L323.40,508.00 L323.90,508.00 L324.40,508.00 L324.90,508.00 L325.40,508.00 L325.90,508.00 L326.40,508.00 L326.90,508.00 L327.40,508.00 L327.90,508.00 L328.40,508.00 L328.90,508.00 L329.40,508.00 L329.90,508.00 L330.40,508.00 L330.90,508.00 L331.40,508.00 L331.90,508.00 L332.40,508.00 L332.90,508.00 L333.40,508.00 L333.90,508.00 L334.40,508.00 L334.90,508.00 L335.40,508.00 L335.90,508.00 L336.40,508.00 L336.90,508.00 L337.40,508.00 L337.90,508.00 L338.40,508.00 L338.90,508.00 L339.40,508.00 L339.90,508.00 L340.40,508.00 L340.90,508.00 L341.40,508.00 L341.90,508.00 L342.40,508.00 L342.90,508.00 L343.40,508.00 L343.90,508.00 L344.40,508.00 L344.90,508.00 L345.40,508.00 L345.90,508.00 L346.40,508.00 L346.90,508.00 L347.40,508.00 L347.90,508.00 L348.40,508.00 L348.90,508.00 L349.40,508.00 L349.90,508.00 L350.40,508.00 L350.90,508.00 L351.40,508.00 L351.90,508.00 L352.40,508.00 L352.90,508.00 L353.40,508.00 L353.90,508.00 L354.40,508.00 L354.90,508.00 L355.40,508.00 L355.90,508.00 L356.40,508.00 L356.90,508.00 L357.40,508.00 L357.90,507.99 L358.40,507.99 L358.90,507.99 L359.40,507.99 L359.90,507.99 L360.40,507.99 L360.90,507.98 L361.40,507.98 L361.90,507.98 L362.40,507.97 L362.90,507.97 L363.40,507.96 L363.90,507.95 L364.40,507.95 L364.90,507.94 L365.40,507.93 L365.90,507.91 L366.40,507.90 L366.90,507.88 L367.40,507.87 L367.90,507.85 L368.40,507.82 L368.90,507.80 L369.40,507.77 L369.90,507.73 L370.40,507.70 L370.90,507.66 L371.40,507.61 L371.90,507.56 L372.40,507.51 L372.90,507.44 L373.40,507.38 L373.90,507.30 L374.40,507.22 L374.90,507.14 L375.40,507.04 L375.90,506.94 L376.40,506.83 L376.90,506.71 L377.40,506.58 L377.90,506.58 L378.40,506.28 L378.90,506.26 L379.40,505.67 L379.90,506.29 L380.40,505.67 L380.90,505.51 L381.40,505.59 L381.90,504.98 L382.40,504.53 L382.90,505.07 L383.40,504.79 L383.90,503.94 L384.40,504.29 L384.90,503.63 L385.40,503.40 L385.90,502.93 L386.40,502.54 L386.90,503.02 L387.40,502.24 L387.90,502.24 L388.40,502.15 L388.90,501.21 L389.40,501.45 L389.90,500.89 L390.40,500.59 L390.90,499.53 L391.40,499.27 L391.90,499.26 L392.40,498.67 L392.90,498.31 L393.40,497.10 L393.90,497.05 L394.40,496.27 L394.90,495.55 L395.40,495.29 L395.90,494.71 L396.40,493.83 L396.90,493.52 L397.40,493.18 L397.90,492.64 L398.40,491.94 L398.90,491.42 L399.40,491.10 L399.90,490.85 L400.40,490.68 L400.90,490.88 L401.40,491.19 L401.90,491.08 L402.40,491.75 L402.90,491.99 L403.40,492.92 L403.90,493.04 L404.40,493.85 L404.90,494.25 L405.40,495.77 L405.90,496.13 L406.40,497.19 L406.90,497.79 L407.40,498.80 L407.90,500.09 L408.40,499.94 L408.90,501.63 L409.40,501.56 L409.90,502.29 L410.40,502.83 L410.90,504.06 L411.40,504.63 L411.90,504.68 L412.40,505.35 L412.90,505.68 L413.40,505.94 L413.90,505.92 L414.40,506.44 L414.90,506.85 L415.40,506.57 L415.90,506.74 L416.40,506.88 L416.90,507.01 L417.40,507.13 L417.90,507.23 L418.40,507.32 L418.90,507.40 L419.40,507.47 L419.90,507.53 L420.40,507.58 L420.90,507.63 L421.40,507.68 L421.90,507.72 L422.40,507.75 L422.90,507.78 L423.40,507.81 L423.90,507.84 L424.40,507.86 L424.90,507.88 L425.40,507.89 L425.90,507.91 L426.40,507.92 L426.90,507.93 L427.40,507.94 L427.90,507.95 L428.40,507.96 L428.90,507.96 L429.40,507.97 L429.90,507.97 L430.40,507.98 L430.90,507.98 L431.40,507.98 L431.90,507.99 L432.40,507.99 L432.90,507.99 L433.40,507.99 L433.90,507.99 L434.40,507.99 L434.90,508.00 L435.40,508.00 L435.90,508.00 L436.40,508.00 L436.90,508.00 L437.40,508.00 L437.90,508.00 L438.40,508.00 L438.90,508.00 L439.40,508.00 L439.90,508.00 L440.40,508.00 L440.90,508.00 L441.40,508.00 L441.90,508.00 L442.40,508.00 L442.90,508.00 L443.40,508.00 L443.90,508.00 L444.40,508.00 L444.90,508.00 L445.40,508.00 L445.90,508.00 L446.40,508.00 L446.90,508.00 L447.40,508.00 L447.90,508.00 L448.40,508.00 L448.90,508.00 L449.40,508.00 L449.90,508.00 L450.40,508.00 L450.90,508.00 L451.40,508.00 L451.90,508.00 L452.40,508.00 L452.90,508.00 L453.40,508.00 L453.90,508.00 L454.40,508.00 L454.90,508.00 L455.40,508.00 L455.90,508.00 L456.20,508.00 Z" fill="#9ed89e" stroke="none" stroke-width="0" fill-opacity="0.6"/>
<path d="M302.40,508.00 L302.90,508.00 L303.40,508.00 L303.90,508.00 L304.40,508.00 L304.90,508.00 L305.40,508.00 L305.90,508.00 L306.40,508.00 L306.90,508.00 L307.40,508.00 L307.90,508.00 L308.40,508.00 L308.90,508.00 L309.40,508.00 L309.90,508.00 L310.40,508.00 L310.90,508.00 L311.40,508.00 L311.90,508.00 L312.40,508.00 L312.90,508.00 L313.40,508.00 L313.90,508.00 L314.40,508.00 L314.90,508.00 L315.40,508.00 L315.90,508.00 L316.40,508.00 L316.90,508.00 L317.40,508.00 L317.90,508.00 L318.40,508.00 L318.90,508.00 L319.40,508.00 L319.90,508.00 L320.40,508.00 L320.90,508.00 L321.40,508.00 L321.90,508.00 L322.40,508.00 L322.90,508.00 L323.40,508.00 L323.90,508.00 L324.40,508.00 L324.90,508.00 L325.40,508.00 L325.90,508.00 L326.40,508.00 L326.90,508.00 L327.40,508.00 L327.90,508.00 L328.40,508.00 L328.90,508.00 L329.40,508.00 L329.90,508.00 L330.40,508.00 L330.90,508.00 L331.40,508.00 L331.90,508.00 L332.40,508.00 L332.90,508.00 L333.40,508.00 L333.90,508.00 L334.40,508.00 L334.90,508.00 L335.40,508.00 L335.90,508.00 L336.40,508.00 L336.90,508.00 L337.40,508.00 L337.90,508.00 L338.40,508.00 L338.90,508.00 L339.40,508.00 L339.90,508.00 L340.40,508.00 L340.90,508.00 L341.40,508.00 L341.90,508.00 L342.40,508.00 L342.90,508.00 L343.40,508.00 L343.90,508.00 L344.40,508.00 L344.90,508.00 L345.40,508.00 L345.90,508.00 L346.40,508.00 L346.90,508.00 L347.40,508.00 L347.90,508.00 L348.40,508.00 L348.90,508.00 L349.40,508.00 L349.90,508.00 L350.40,508.00 L350.90,508.00 L351.40,508.00 L351.90,508.00 L352.40,508.00 L352.90,508.00 L353.40,508.00 L353.90,508.00 L354.40,508.00 L354.90,508.00 L355.40,508.00 L355.90,508.00 L356.40,508.00 L356.90,508.00 L357.40,508.00 L357.90,507.99 L358.40,507.99 L358.90,507.99 L359.40,507.99 L359.90,507.99 L360.40,507.99 L360.90,507.98 L361.40,507.98 L361.90,507.98 L362.40,507.97 L362.90,507.97 L363.40,507.96 L363.90,507.95 L364.40,507.95 L364.90,507.94 L365.40,507.93 L365.90,507.91 L366.40,507.90 L366.90,507.88 L367.40,507.87 L367.90,507.85 L368.40,507.82 L368.90,507.80 L369.40,507.77 L369.90,507.73 L370.40,507.70 L370.90,507.66 L371.40,507.61 L371.90,507.56 L372.40,507.51 L372.90,507.44 L373.40,507.38 L373.90,507.30 L374.40,507.22 L374.90,507.14 L375.40,507.04 L375.90,506.94 L376.40,506.83 L376.90,506.71 L377.40,506.58 L377.90,506.58 L378.40,506.28 L378.90,506.26 L379.40,505.67 L379.90,506.29 L380.40,505.67 L380.90,505.51 L381.40,505.59 L381.90,504.98 L382.40,504.53 L382.90,505.07 L383.40,504.79 L383.90,503.94 L384.40,504.29 L384.90,503.63 L385.40,503.40 L385.90,502.93 L386.40,502.54 L386.90,503.02 L387.40,502.24 L387.90,502.24 L388.40,502.15 L388.90,501.21 L389.40,501.45 L389.90,500.89 L390.40,500.59 L390.90,499.53 L391.40,499.27 L391.90,499.26 L392.40,498.67 L392.90,498.31 L393.40,497.10 L393.90,497.05 L394.40,496.27 L394.90,495.55 L395.40,495.29 L395.90,494.71 L396.40,493.83 L396.90,493.52 L397.40,493.18 L397.90,492.64 L398.40,491.94 L398.90,491.42 L399.40,491.10 L399.90,490.85 L400.40,490.68 L400.90,490.88 L401.40,491.19 L401.90,491.08 L402.40,491.75 L402.90,491.99 L403.40,492.92 L403.90,493.04 L404.40,493.85 L404.90,494.25 L405.40,495.77 L405.90,496.13 L406.40,497.19 L406.90,497.79 L407.40,498.80 L407.90,500.09 L408.40,499.94 L408.90,501.63 L409.40,501.56 L409.90,502.29 L410.40,502.83 L410.90,504.06 L411.40,504.63 L411.90,504.68 L412.40,505.35 L412.90,505.68 L413.40,505.94 L413.90,505.92 L414.40,506.44 L414.90,506.85 L415.40,506.57 L415.90,506.74 L416.40,506.88 L416.90,507.01 L417.40,507.13 L417.90,507.23 L418.40,507.32 L418.90,507.40 L419.40,507.47 L419.90,507.53 L420.40,507.58 L420.90,507.63 L421.40,507.68 L421.90,507.72 L422.40,507.75 L422.90,507.78 L423.40,507.81 L423.90,507.84 L424.40,507.86 L424.90,507.88 L425.40,507.89 L425.90,507.91 L426.40,507.92 L426.90,507.93 L427.40,507.94 L427.90,507.95 L428.40,507.96 L428.90,507.96 L429.40,507.97 L429.90,507.97 L430.40,507.98 L430.90,507.98 L431.40,507.98 L431.90,507.99 L432.40,507.99 L432.90,507.99 L433.40,507.99 L433.90,507.99 L434.40,507.99 L434.90,508.00 L435.40,508.00 L435.90,508.00 L436.40,508.00 L436.90,508.00 L437.40,508.00 L437.90,508.00 L438.40,508.00 L438.90,508.00 L439.40,508.00 L439.90,508.00 L440.40,508.00 L440.90,508.00 L441.40,508.00 L441.90,508.00 L442.40,508.00 L442.90,508.00 L443.40,508.00 L443.90,508.00 L444.40,508.00 L444.90,508.00 L445.40,508.00 L445.90,508.00 L446.40,508.00 L446.90,508.00 L447.40,508.00 L447.90,508.00 L448.40,508.00 L448.90,508.00 L449.40,508.00 L449.90,508.00 L450.40,508.00 L450.90,508.00 L451.40,508.00 L451.90,508.00 L452.40,508.00 L452.90,508.00 L453.40,508.00 L453.90,508.00 L454.40,508.00 L454.90,508.00 L455.40,508.00 L455.90,508.00" fill="none" stroke="#43a052" stroke-width="1.15" stroke-linejoin="round"/>
<rect x="301.8" y="429.4" width="155.00" height="78.60" fill="none" stroke="#222" stroke-width="1.1"/>
<text x="298.40" y="452.50" font-size="8" text-anchor="end" fill="#333" stroke="#333" stroke-width="0.2" >II-1</text>
<text x="298.40" y="463.10" font-size="8" text-anchor="end" fill="#333" stroke="#333" stroke-width="0.2" >I-1</text>
<text x="298.40" y="474.60" font-size="8" text-anchor="end" fill="#333" stroke="#333" stroke-width="0.2" >I-2</text>
<text x="298.40" y="486.20" font-size="8" text-anchor="end" fill="#333" stroke="#333" stroke-width="0.2" >II-2</text>
<text x="298.40" y="496.30" font-size="8" text-anchor="end" fill="#333" stroke="#333" stroke-width="0.2" >HC1</text>
<text x="298.40" y="507.40" font-size="8" text-anchor="end" fill="#333" stroke="#333" stroke-width="0.2" >HC2</text>
<text x="438.70" y="449.26" font-size="7.9" fill="#222" stroke="#222" stroke-width="0.2" textLength="16.20" lengthAdjust="spacingAndGlyphs" >4218</text>
<text x="434.65" y="461.26" font-size="7.9" fill="#222" stroke="#222" stroke-width="0.2" textLength="20.25" lengthAdjust="spacingAndGlyphs" >11598</text>
<text x="438.70" y="471.87" font-size="7.9" fill="#222" stroke="#222" stroke-width="0.2" textLength="16.20" lengthAdjust="spacingAndGlyphs" >9352</text>
<text x="438.70" y="482.06" font-size="7.9" fill="#222" stroke="#222" stroke-width="0.2" textLength="16.20" lengthAdjust="spacingAndGlyphs" >9151</text>
<text x="434.65" y="493.56" font-size="7.9" fill="#222" stroke="#222" stroke-width="0.2" textLength="20.25" lengthAdjust="spacingAndGlyphs" >15323</text>
<text x="434.65" y="504.67" font-size="7.9" fill="#222" stroke="#222" stroke-width="0.2" textLength="20.25" lengthAdjust="spacingAndGlyphs" >16940</text>
<line x1="311.60" y1="508.00" x2="311.60" y2="510.40" stroke="#222" stroke-width="0.6" />
<line x1="312.60" y1="508.00" x2="312.60" y2="510.40" stroke="#222" stroke-width="0.6" />
<line x1="313.60" y1="508.00" x2="313.60" y2="510.40" stroke="#222" stroke-width="0.6" />
<line x1="314.60" y1="508.00" x2="314.60" y2="510.40" stroke="#222" stroke-width="0.6" />
<line x1="315.60" y1="508.00" x2="315.60" y2="510.40" stroke="#222" stroke-width="0.6" />
<line x1="316.60" y1="508.00" x2="316.60" y2="510.40" stroke="#222" stroke-width="0.6" />
<line x1="317.60" y1="508.00" x2="317.60" y2="510.40" stroke="#222" stroke-width="0.6" />
<line x1="318.60" y1="508.00" x2="318.60" y2="510.40" stroke="#222" stroke-width="0.6" />
<line x1="319.60" y1="508.00" x2="319.60" y2="510.40" stroke="#222" stroke-width="0.6" />
<line x1="320.60" y1="508.00" x2="320.60" y2="510.40" stroke="#222" stroke-width="0.6" />
<line x1="321.60" y1="508.00" x2="321.60" y2="510.40" stroke="#222" stroke-width="0.6" />
<line x1="322.60" y1="508.00" x2="322.60" y2="510.40" stroke="#222" stroke-width="0.6" />
<line x1="323.60" y1="508.00" x2="323.60" y2="510.40" stroke="#222" stroke-width="0.6" />
<line x1="324.60" y1="508.00" x2="324.60" y2="510.40" stroke="#222" stroke-width="0.6" />
<line x1="325.60" y1="508.00" x2="325.60" y2="510.40" stroke="#222" stroke-width="0.6" />
<line x1="326.60" y1="508.00" x2="326.60" y2="510.40" stroke="#222" stroke-width="0.6" />
<line x1="327.60" y1="508.00" x2="327.60" y2="510.40" stroke="#222" stroke-width="0.6" />
<line x1="328.60" y1="508.00" x2="328.60" y2="510.40" stroke="#222" stroke-width="0.6" />
<line x1="329.60" y1="508.00" x2="329.60" y2="510.40" stroke="#222" stroke-width="0.6" />
<line x1="340.00" y1="508.00" x2="340.00" y2="509.80" stroke="#444" stroke-width="0.6" />
<line x1="352.00" y1="508.00" x2="352.00" y2="509.80" stroke="#444" stroke-width="0.6" />
<line x1="362.00" y1="508.00" x2="362.00" y2="509.80" stroke="#444" stroke-width="0.6" />
<line x1="370.00" y1="508.00" x2="370.00" y2="509.80" stroke="#444" stroke-width="0.6" />
<line x1="376.00" y1="508.00" x2="376.00" y2="509.80" stroke="#444" stroke-width="0.6" />
<line x1="381.00" y1="508.00" x2="381.00" y2="509.80" stroke="#444" stroke-width="0.6" />
<line x1="386.00" y1="508.00" x2="386.00" y2="509.80" stroke="#444" stroke-width="0.6" />
<line x1="390.00" y1="508.00" x2="390.00" y2="509.80" stroke="#444" stroke-width="0.6" />
<line x1="393.00" y1="508.00" x2="393.00" y2="509.80" stroke="#444" stroke-width="0.6" />
<line x1="410.00" y1="508.00" x2="410.00" y2="509.80" stroke="#444" stroke-width="0.6" />
<line x1="430.00" y1="508.00" x2="430.00" y2="509.80" stroke="#444" stroke-width="0.6" />
<line x1="445.00" y1="508.00" x2="445.00" y2="509.80" stroke="#444" stroke-width="0.6" />
<text x="302.00" y="524.12" font-size="9.2" fill="#222" stroke="#222" stroke-width="0.2" textLength="43.30" lengthAdjust="spacingAndGlyphs" >NFAT1 AF647</text>
<line x1="349.60" y1="521.50" x2="452.50" y2="521.50" stroke="#222" stroke-width="0.9" />
<path d="M456.8,521.5 L452.2,519.5 L452.2,523.5 Z" fill="#222" stroke="none" stroke-width="1" />
</svg>
</body></html>
